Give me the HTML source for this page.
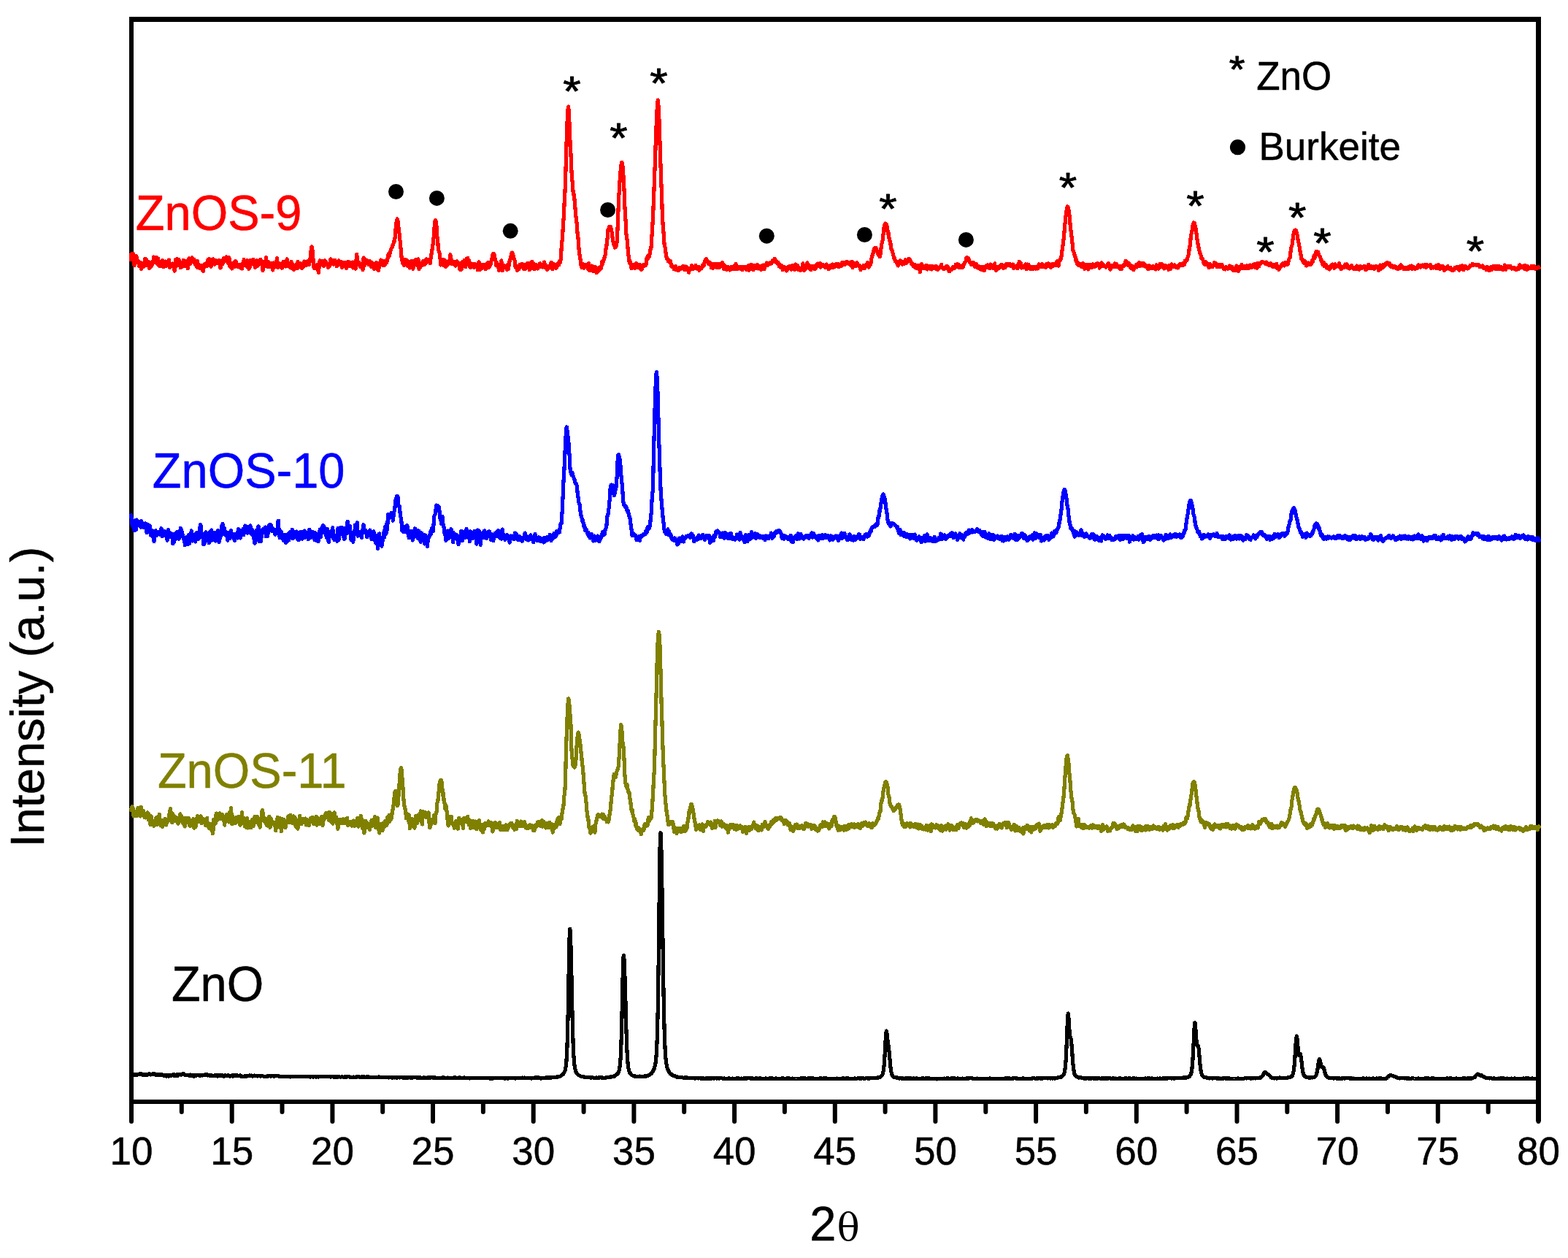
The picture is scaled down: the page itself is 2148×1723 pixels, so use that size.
<!DOCTYPE html>
<html lang="en"><head><meta charset="utf-8"><title>XRD patterns of ZnO, ZnOS-9, ZnOS-10 and ZnOS-11</title>
<style>html,body{margin:0;padding:0;background:#fff;overflow:hidden}svg{display:block}text{font-family:"Liberation Sans",Arial,Helvetica,sans-serif;stroke-width:0.5;stroke-linejoin:round}.c{fill:none;stroke-width:5.20;stroke-linejoin:round;stroke-linecap:butt;shape-rendering:crispEdges}.tk{stroke:#000;stroke-width:6;stroke-linecap:round}.st{stroke:#000;stroke-width:1.0;stroke-linejoin:round}</style></head><body>
<svg width="2148" height="1723" viewBox="0 0 2148 1723" role="img" aria-label="XRD patterns">
<rect width="2148" height="1723" fill="#fff"/>
<rect x="177" y="23" width="1934" height="7" fill="#000"/>
<rect x="177" y="1506" width="1934" height="6" fill="#000"/>
<rect x="177" y="23" width="6" height="1513" fill="#000"/>
<rect x="2104" y="23" width="7" height="1513" fill="#000"/>
<path class="c" stroke="#000" d="M179.1,1472.1 L179.7,1472.8 L180.2,1472.7 L180.8,1471.8 L181.3,1471.6 L181.9,1471.6 L182.4,1472.1 L183.0,1472.0 L183.5,1472.0 L184.1,1471.2 L184.6,1472.4 L185.2,1472.0 L185.7,1472.1 L186.3,1471.7 L186.8,1471.5 L187.4,1471.9 L187.9,1472.1 L188.5,1471.6 L189.0,1471.6 L189.6,1471.8 L190.1,1471.1 L190.7,1470.9 L191.2,1471.7 L191.8,1471.2 L192.3,1470.6 L192.9,1471.1 L193.4,1471.4 L194.0,1471.0 L194.5,1471.0 L195.1,1471.8 L195.6,1472.3 L196.2,1471.8 L196.7,1471.5 L197.3,1472.1 L197.8,1472.2 L198.4,1471.9 L198.9,1472.2 L199.5,1472.5 L200.0,1471.8 L200.6,1471.5 L201.1,1472.0 L201.7,1472.1 L202.2,1472.2 L202.8,1471.2 L203.3,1471.1 L203.9,1470.9 L204.4,1470.6 L205.0,1471.4 L205.5,1471.6 L206.1,1471.2 L206.6,1472.0 L207.2,1471.9 L207.7,1471.7 L208.3,1471.6 L208.8,1471.5 L209.4,1470.7 L209.9,1471.5 L210.5,1471.5 L211.0,1470.6 L211.6,1471.4 L212.1,1471.7 L212.7,1472.1 L213.2,1471.8 L213.8,1472.0 L214.3,1472.1 L214.9,1471.8 L215.4,1472.3 L216.0,1472.2 L216.5,1472.2 L217.1,1471.9 L217.6,1472.4 L218.2,1472.2 L218.7,1471.9 L219.3,1472.2 L219.8,1472.7 L220.4,1472.7 L220.9,1471.5 L221.5,1472.4 L222.0,1472.5 L222.6,1472.2 L223.1,1472.1 L223.7,1472.9 L224.2,1472.3 L224.8,1473.1 L225.3,1473.4 L225.9,1472.3 L226.4,1472.5 L227.0,1472.4 L227.5,1473.2 L228.1,1474.1 L228.6,1474.1 L229.2,1472.5 L229.7,1472.7 L230.3,1473.6 L230.8,1474.1 L231.4,1473.4 L231.9,1472.8 L232.5,1473.1 L233.0,1473.1 L233.6,1472.8 L234.1,1472.6 L234.7,1473.0 L235.2,1473.0 L235.8,1472.7 L236.3,1472.4 L236.9,1471.9 L237.4,1472.3 L238.0,1473.1 L238.5,1472.4 L239.1,1471.9 L239.6,1473.0 L240.2,1473.1 L240.7,1473.6 L241.3,1472.7 L241.8,1472.0 L242.4,1471.8 L242.9,1473.1 L243.5,1473.6 L244.0,1472.0 L244.6,1471.8 L245.1,1472.2 L245.7,1471.6 L246.2,1471.6 L246.8,1471.6 L247.3,1471.9 L247.9,1472.2 L248.4,1471.9 L249.0,1472.0 L249.5,1471.5 L250.1,1471.4 L250.6,1470.4 L251.2,1470.7 L251.7,1471.8 L252.3,1471.6 L252.8,1472.0 L253.4,1472.3 L253.9,1472.7 L254.5,1472.7 L255.0,1472.8 L255.6,1472.3 L256.1,1472.1 L256.7,1472.1 L257.2,1472.3 L257.8,1472.2 L258.3,1472.6 L258.9,1472.9 L259.4,1473.1 L260.0,1472.7 L260.5,1472.1 L261.1,1472.8 L261.6,1473.3 L262.2,1473.6 L262.7,1473.3 L263.3,1472.7 L263.8,1472.8 L264.4,1474.0 L264.9,1473.8 L265.5,1474.2 L266.0,1474.1 L266.6,1472.8 L267.1,1473.1 L267.7,1473.2 L268.2,1473.3 L268.8,1473.3 L269.3,1473.1 L269.9,1472.9 L270.4,1472.2 L271.0,1472.6 L271.5,1472.6 L272.1,1472.8 L272.6,1472.8 L273.2,1473.2 L273.7,1473.4 L274.3,1473.2 L274.8,1473.1 L275.4,1473.0 L275.9,1472.7 L276.5,1472.7 L277.0,1472.7 L277.6,1473.0 L278.1,1472.9 L278.7,1472.8 L279.2,1472.2 L279.8,1472.7 L280.3,1472.1 L280.9,1471.9 L281.4,1472.1 L282.0,1472.0 L282.5,1472.3 L283.1,1471.9 L283.6,1471.7 L284.2,1472.0 L284.7,1473.0 L285.3,1472.6 L285.8,1472.2 L286.4,1472.5 L286.9,1472.4 L287.5,1473.5 L288.0,1472.7 L288.6,1473.3 L289.1,1473.3 L289.7,1472.6 L290.2,1473.3 L290.8,1473.7 L291.3,1473.4 L291.9,1473.3 L292.4,1473.5 L293.0,1473.1 L293.5,1473.0 L294.1,1472.9 L294.6,1473.0 L295.2,1472.5 L295.7,1473.0 L296.3,1472.6 L296.8,1472.4 L297.4,1473.2 L297.9,1474.0 L298.5,1473.7 L299.0,1473.1 L299.6,1473.5 L300.1,1473.2 L300.7,1473.3 L301.2,1473.2 L301.8,1472.5 L302.3,1473.2 L302.9,1473.0 L303.4,1472.9 L304.0,1472.6 L304.5,1472.5 L305.1,1473.0 L305.6,1473.9 L306.2,1474.3 L306.7,1473.7 L307.3,1473.9 L307.8,1473.3 L308.4,1472.6 L308.9,1473.4 L309.5,1473.7 L310.0,1473.4 L310.6,1473.7 L311.1,1473.8 L311.7,1473.1 L312.2,1472.7 L312.8,1473.2 L313.3,1473.3 L313.9,1473.3 L314.4,1473.9 L315.0,1474.1 L315.5,1473.2 L316.1,1473.4 L316.6,1473.6 L317.2,1473.5 L317.7,1473.5 L318.3,1473.0 L318.8,1473.4 L319.4,1474.0 L319.9,1473.5 L320.5,1472.8 L321.0,1473.3 L321.6,1473.7 L322.1,1473.3 L322.7,1473.1 L323.2,1473.6 L323.8,1472.9 L324.3,1473.3 L324.9,1473.2 L325.4,1473.0 L326.0,1473.9 L326.5,1473.7 L327.1,1473.2 L327.6,1473.8 L328.2,1473.4 L328.7,1472.9 L329.3,1473.4 L329.8,1474.1 L330.4,1474.3 L330.9,1474.2 L331.5,1474.1 L332.0,1474.3 L332.6,1474.2 L333.1,1474.6 L333.7,1474.3 L334.2,1474.3 L334.8,1474.3 L335.3,1473.7 L335.9,1473.9 L336.4,1474.6 L337.0,1474.2 L337.5,1473.9 L338.1,1474.0 L338.6,1473.7 L339.2,1473.8 L339.7,1473.5 L340.3,1473.5 L340.8,1473.2 L341.4,1473.6 L341.9,1473.2 L342.5,1472.9 L343.0,1473.1 L343.6,1473.2 L344.1,1473.2 L344.7,1473.1 L345.2,1473.5 L345.8,1474.0 L346.3,1473.3 L346.9,1473.4 L347.4,1473.4 L348.0,1473.4 L348.5,1473.1 L349.1,1473.2 L349.6,1473.5 L350.2,1473.6 L350.7,1473.7 L351.3,1473.4 L351.8,1473.6 L352.4,1474.0 L352.9,1473.4 L353.5,1473.2 L354.0,1473.4 L354.6,1473.5 L355.1,1473.6 L355.7,1473.5 L356.2,1473.4 L356.8,1473.7 L357.3,1474.1 L357.9,1473.9 L358.4,1473.2 L359.0,1473.6 L359.5,1473.7 L360.1,1473.9 L360.6,1474.0 L361.2,1474.3 L361.7,1474.3 L362.3,1474.2 L362.8,1474.1 L363.4,1474.1 L363.9,1474.2 L364.5,1474.3 L365.0,1474.2 L365.6,1474.1 L366.1,1474.3 L366.7,1474.1 L367.2,1474.0 L367.8,1473.8 L368.3,1473.8 L368.9,1473.7 L369.4,1473.4 L370.0,1474.0 L370.5,1474.0 L371.1,1473.9 L371.6,1474.0 L372.2,1473.9 L372.7,1473.7 L373.3,1473.3 L373.8,1473.6 L374.4,1473.9 L374.9,1474.2 L375.5,1474.2 L376.0,1474.0 L376.6,1473.5 L377.1,1473.3 L377.7,1473.7 L378.2,1473.8 L378.8,1473.9 L379.3,1473.8 L379.9,1473.8 L380.4,1473.6 L381.0,1473.9 L381.5,1473.9 L382.1,1474.0 L382.6,1474.1 L383.2,1474.1 L383.7,1474.1 L384.3,1474.2 L384.8,1474.3 L385.4,1474.3 L385.9,1474.1 L386.5,1474.2 L387.0,1474.5 L387.6,1474.4 L388.1,1474.5 L388.7,1474.4 L389.2,1474.2 L389.8,1474.2 L390.3,1474.4 L390.9,1474.5 L391.4,1474.6 L392.0,1474.3 L392.5,1474.4 L393.1,1474.6 L393.6,1474.8 L394.2,1474.2 L394.7,1474.5 L395.3,1474.5 L395.8,1474.6 L396.4,1474.6 L396.9,1474.7 L397.5,1475.0 L398.0,1474.8 L398.6,1474.8 L399.1,1474.7 L399.7,1474.6 L400.2,1474.7 L400.8,1474.6 L401.3,1474.4 L401.9,1474.5 L402.4,1474.5 L403.0,1474.6 L403.5,1474.4 L404.1,1474.4 L404.6,1474.7 L405.2,1474.7 L405.7,1474.7 L406.3,1474.5 L406.8,1474.4 L407.4,1474.3 L407.9,1474.4 L408.5,1474.7 L409.0,1474.5 L409.6,1474.3 L410.1,1474.4 L410.7,1474.4 L411.2,1474.5 L411.8,1474.4 L412.3,1474.4 L412.9,1474.6 L413.4,1474.5 L414.0,1474.3 L414.5,1474.7 L415.1,1474.9 L415.6,1474.4 L416.2,1474.7 L416.7,1474.4 L417.3,1474.3 L417.8,1474.3 L418.4,1474.3 L418.9,1474.7 L419.5,1474.6 L420.0,1474.4 L420.6,1474.4 L421.1,1474.3 L421.7,1474.5 L422.2,1474.7 L422.8,1474.4 L423.3,1474.5 L423.9,1474.7 L424.4,1475.0 L425.0,1475.0 L425.5,1474.7 L426.1,1474.6 L426.6,1474.8 L427.2,1474.7 L427.7,1474.7 L428.3,1475.0 L428.8,1475.1 L429.4,1474.9 L429.9,1474.8 L430.5,1474.8 L431.0,1474.5 L431.6,1474.6 L432.1,1474.7 L432.7,1475.2 L433.2,1475.0 L433.8,1474.8 L434.3,1474.6 L434.9,1474.3 L435.4,1474.8 L436.0,1475.0 L436.5,1474.6 L437.1,1474.7 L437.6,1474.7 L438.2,1474.4 L438.7,1474.8 L439.3,1474.9 L439.8,1474.7 L440.4,1474.7 L440.9,1474.8 L441.5,1474.5 L442.0,1474.7 L442.6,1474.9 L443.1,1474.7 L443.7,1474.9 L444.2,1474.7 L444.8,1474.4 L445.3,1474.6 L445.9,1474.6 L446.4,1474.7 L447.0,1474.6 L447.5,1474.8 L448.1,1474.6 L448.6,1474.7 L449.2,1474.6 L449.7,1474.7 L450.3,1474.9 L450.8,1474.8 L451.4,1474.6 L451.9,1474.5 L452.5,1475.0 L453.0,1475.0 L453.6,1474.8 L454.1,1474.8 L454.7,1474.6 L455.2,1474.5 L455.8,1474.6 L456.3,1474.9 L456.9,1474.9 L457.4,1474.8 L458.0,1475.0 L458.5,1475.1 L459.1,1475.0 L459.6,1475.1 L460.2,1474.9 L460.7,1474.9 L461.3,1475.0 L461.8,1475.0 L462.4,1475.1 L462.9,1474.8 L463.5,1475.1 L464.0,1474.9 L464.6,1474.8 L465.1,1474.7 L465.7,1475.1 L466.2,1475.3 L466.8,1475.3 L467.3,1475.1 L467.9,1474.7 L468.4,1474.8 L469.0,1474.9 L469.5,1474.9 L470.1,1475.2 L470.6,1475.1 L471.2,1475.1 L471.7,1475.1 L472.3,1474.8 L472.8,1474.7 L473.4,1474.8 L473.9,1475.0 L474.5,1475.0 L475.0,1475.0 L475.6,1475.0 L476.1,1474.6 L476.7,1474.7 L477.2,1474.8 L477.8,1474.6 L478.3,1474.8 L478.9,1475.1 L479.4,1475.2 L480.0,1475.2 L480.5,1475.1 L481.1,1475.1 L481.6,1475.3 L482.2,1475.1 L482.7,1475.2 L483.3,1475.4 L483.8,1475.1 L484.4,1475.0 L484.9,1475.1 L485.5,1475.3 L486.0,1475.3 L486.6,1475.2 L487.1,1475.2 L487.7,1474.9 L488.2,1474.9 L488.8,1475.1 L489.3,1474.9 L489.9,1474.8 L490.4,1474.8 L491.0,1474.9 L491.5,1475.0 L492.1,1474.9 L492.6,1475.2 L493.2,1475.4 L493.7,1475.2 L494.3,1475.4 L494.8,1475.2 L495.4,1474.9 L495.9,1475.0 L496.5,1475.0 L497.0,1475.2 L497.6,1475.0 L498.1,1475.4 L498.7,1475.2 L499.2,1474.8 L499.8,1475.3 L500.3,1475.4 L500.9,1475.1 L501.4,1475.2 L502.0,1474.9 L502.5,1475.1 L503.1,1475.0 L503.6,1475.2 L504.2,1474.9 L504.7,1474.8 L505.3,1475.5 L505.8,1475.9 L506.4,1475.5 L506.9,1475.6 L507.5,1475.6 L508.0,1475.5 L508.6,1475.7 L509.1,1475.8 L509.7,1475.3 L510.2,1475.5 L510.8,1475.4 L511.3,1475.2 L511.9,1475.7 L512.4,1475.7 L513.0,1475.3 L513.5,1475.6 L514.1,1475.4 L514.6,1475.4 L515.2,1475.6 L515.7,1475.4 L516.3,1475.4 L516.8,1475.7 L517.4,1475.6 L517.9,1475.5 L518.5,1475.0 L519.0,1475.0 L519.6,1475.4 L520.1,1475.3 L520.7,1475.4 L521.2,1475.3 L521.8,1475.4 L522.3,1475.4 L522.9,1475.8 L523.4,1475.6 L524.0,1475.6 L524.5,1475.8 L525.1,1475.9 L525.6,1475.6 L526.2,1475.7 L526.7,1475.7 L527.3,1475.8 L527.8,1475.8 L528.4,1475.6 L528.9,1475.6 L529.5,1475.5 L530.0,1475.6 L530.6,1475.5 L531.1,1475.4 L531.7,1475.5 L532.2,1475.7 L532.8,1476.0 L533.3,1475.7 L533.9,1475.8 L534.4,1475.9 L535.0,1475.3 L535.5,1475.3 L536.1,1475.5 L536.6,1475.9 L537.2,1476.3 L537.7,1476.1 L538.3,1476.1 L538.8,1475.8 L539.4,1475.3 L539.9,1475.4 L540.5,1475.9 L541.0,1475.9 L541.6,1475.7 L542.1,1475.9 L542.7,1475.7 L543.2,1476.1 L543.8,1476.1 L544.3,1475.7 L544.9,1475.7 L545.4,1475.9 L546.0,1475.7 L546.5,1475.9 L547.1,1475.7 L547.6,1476.0 L548.2,1475.9 L548.7,1475.8 L549.3,1475.8 L549.8,1475.9 L550.4,1475.6 L550.9,1475.8 L551.5,1476.0 L552.0,1476.1 L552.6,1475.9 L553.1,1476.3 L553.7,1476.0 L554.2,1475.9 L554.8,1476.3 L555.3,1476.4 L555.9,1476.0 L556.4,1475.8 L557.0,1475.9 L557.5,1475.8 L558.1,1475.9 L558.6,1476.2 L559.2,1476.0 L559.7,1475.9 L560.3,1475.8 L560.8,1475.8 L561.4,1475.9 L561.9,1475.9 L562.5,1475.7 L563.0,1475.8 L563.6,1476.2 L564.1,1475.9 L564.7,1475.8 L565.2,1476.1 L565.8,1475.8 L566.3,1475.6 L566.9,1475.8 L567.4,1475.6 L568.0,1475.7 L568.5,1475.9 L569.1,1475.8 L569.6,1475.7 L570.2,1475.7 L570.7,1475.8 L571.3,1476.1 L571.8,1475.8 L572.4,1475.9 L572.9,1476.2 L573.5,1476.0 L574.0,1476.2 L574.6,1476.3 L575.1,1475.9 L575.7,1475.7 L576.2,1476.1 L576.8,1476.2 L577.3,1476.3 L577.9,1476.2 L578.4,1476.4 L579.0,1476.3 L579.5,1476.0 L580.1,1476.3 L580.6,1476.2 L581.2,1476.0 L581.7,1476.1 L582.3,1476.6 L582.8,1476.4 L583.4,1476.0 L583.9,1476.2 L584.5,1476.3 L585.0,1476.2 L585.6,1476.1 L586.1,1476.0 L586.7,1476.3 L587.2,1476.0 L587.8,1476.0 L588.3,1475.9 L588.9,1475.9 L589.4,1476.1 L590.0,1476.0 L590.5,1475.8 L591.1,1475.7 L591.6,1475.8 L592.2,1476.0 L592.7,1476.0 L593.3,1475.9 L593.8,1475.9 L594.4,1475.9 L594.9,1475.9 L595.5,1475.8 L596.0,1476.2 L596.6,1476.0 L597.1,1476.1 L597.7,1476.5 L598.2,1476.4 L598.8,1476.3 L599.3,1476.2 L599.9,1476.1 L600.4,1476.5 L601.0,1476.7 L601.5,1476.5 L602.1,1476.7 L602.6,1476.3 L603.2,1476.3 L603.7,1476.5 L604.3,1476.5 L604.8,1476.5 L605.4,1476.2 L605.9,1476.1 L606.5,1475.9 L607.0,1476.0 L607.6,1476.0 L608.1,1476.0 L608.7,1476.3 L609.2,1476.2 L609.8,1476.1 L610.3,1476.7 L610.9,1476.3 L611.4,1476.2 L612.0,1476.7 L612.5,1476.7 L613.1,1476.2 L613.6,1476.1 L614.2,1476.2 L614.7,1476.5 L615.3,1476.3 L615.8,1476.2 L616.4,1476.3 L616.9,1476.5 L617.5,1476.1 L618.0,1476.1 L618.6,1476.1 L619.1,1476.6 L619.7,1476.7 L620.2,1476.4 L620.8,1476.2 L621.3,1476.2 L621.9,1475.8 L622.4,1476.1 L623.0,1475.9 L623.5,1475.9 L624.1,1476.1 L624.6,1476.2 L625.2,1476.4 L625.7,1476.5 L626.3,1476.4 L626.8,1476.2 L627.4,1476.5 L627.9,1476.4 L628.5,1476.5 L629.0,1476.1 L629.6,1475.8 L630.1,1476.2 L630.7,1476.7 L631.2,1476.5 L631.8,1476.3 L632.3,1476.5 L632.9,1476.4 L633.4,1476.3 L634.0,1476.2 L634.5,1476.2 L635.1,1476.2 L635.6,1476.0 L636.2,1475.9 L636.7,1476.2 L637.3,1476.4 L637.8,1476.3 L638.4,1476.3 L638.9,1476.4 L639.5,1476.7 L640.0,1476.5 L640.6,1476.6 L641.1,1476.8 L641.7,1476.5 L642.2,1476.6 L642.8,1476.8 L643.3,1477.0 L643.9,1476.8 L644.4,1476.8 L645.0,1476.7 L645.5,1476.6 L646.1,1476.9 L646.6,1476.7 L647.2,1476.4 L647.7,1476.6 L648.3,1476.3 L648.8,1476.4 L649.4,1476.6 L649.9,1476.5 L650.5,1476.7 L651.0,1476.3 L651.6,1476.5 L652.1,1476.7 L652.7,1476.8 L653.2,1476.7 L653.8,1476.6 L654.3,1476.5 L654.9,1476.5 L655.4,1476.6 L656.0,1476.4 L656.5,1476.5 L657.1,1476.4 L657.6,1476.4 L658.2,1476.4 L658.7,1476.7 L659.3,1476.3 L659.8,1476.4 L660.4,1476.4 L660.9,1476.5 L661.5,1476.5 L662.0,1476.5 L662.6,1476.5 L663.1,1476.2 L663.7,1476.3 L664.2,1476.2 L664.8,1476.4 L665.3,1476.2 L665.9,1476.2 L666.4,1476.5 L667.0,1476.8 L667.5,1476.7 L668.1,1476.7 L668.6,1476.9 L669.2,1476.5 L669.7,1476.3 L670.3,1476.6 L670.8,1476.8 L671.4,1477.1 L671.9,1477.2 L672.5,1476.8 L673.0,1477.3 L673.6,1477.2 L674.1,1477.0 L674.7,1476.9 L675.2,1477.1 L675.8,1476.7 L676.3,1476.4 L676.9,1476.4 L677.4,1476.2 L678.0,1476.4 L678.5,1476.3 L679.1,1476.4 L679.6,1476.3 L680.2,1476.2 L680.7,1476.5 L681.3,1476.3 L681.8,1476.4 L682.4,1476.2 L682.9,1476.4 L683.5,1476.4 L684.0,1476.5 L684.6,1476.3 L685.1,1476.1 L685.7,1476.3 L686.2,1476.7 L686.8,1476.7 L687.3,1476.4 L687.9,1476.3 L688.4,1476.5 L689.0,1476.7 L689.5,1476.7 L690.1,1476.8 L690.6,1477.1 L691.2,1477.2 L691.7,1477.1 L692.3,1476.9 L692.8,1476.9 L693.4,1476.9 L693.9,1476.7 L694.5,1477.0 L695.0,1476.9 L695.6,1476.7 L696.1,1477.0 L696.7,1476.9 L697.2,1476.8 L697.8,1476.8 L698.3,1476.6 L698.9,1476.2 L699.4,1476.3 L700.0,1476.5 L700.5,1476.3 L701.1,1476.4 L701.6,1476.6 L702.2,1476.8 L702.7,1476.9 L703.3,1476.8 L703.8,1476.6 L704.4,1476.8 L704.9,1476.8 L705.5,1476.7 L706.0,1477.0 L706.6,1476.8 L707.1,1476.6 L707.7,1476.9 L708.2,1476.7 L708.8,1476.6 L709.3,1476.3 L709.9,1476.4 L710.4,1476.2 L711.0,1476.1 L711.5,1476.1 L712.1,1476.6 L712.6,1476.4 L713.2,1476.4 L713.7,1476.5 L714.3,1476.4 L714.8,1476.4 L715.4,1476.1 L715.9,1476.3 L716.5,1476.4 L717.0,1476.5 L717.6,1476.5 L718.1,1476.2 L718.7,1476.1 L719.2,1476.3 L719.8,1476.7 L720.3,1476.8 L720.9,1476.7 L721.4,1476.2 L722.0,1476.1 L722.5,1476.5 L723.1,1476.6 L723.6,1476.7 L724.2,1476.8 L724.7,1476.7 L725.3,1476.5 L725.8,1476.5 L726.4,1476.7 L726.9,1476.7 L727.5,1476.7 L728.0,1477.0 L728.6,1476.6 L729.1,1476.5 L729.7,1476.2 L730.2,1476.3 L730.8,1476.5 L731.3,1476.4 L731.9,1476.3 L732.4,1476.4 L733.0,1476.2 L733.5,1475.8 L734.1,1475.7 L734.6,1476.7 L735.2,1476.6 L735.7,1476.3 L736.3,1476.0 L736.8,1476.2 L737.4,1476.5 L737.9,1476.0 L738.5,1476.3 L739.0,1476.7 L739.6,1476.6 L740.1,1476.7 L740.7,1476.7 L741.2,1477.0 L741.8,1476.5 L742.3,1476.4 L742.9,1476.7 L743.4,1476.9 L744.0,1476.7 L744.5,1476.7 L745.1,1476.4 L745.6,1476.3 L746.2,1476.7 L746.7,1476.8 L747.3,1476.6 L747.8,1476.2 L748.4,1475.9 L748.9,1475.9 L749.5,1476.1 L750.0,1476.3 L750.6,1476.2 L751.1,1475.9 L751.7,1476.1 L752.2,1476.1 L752.8,1476.1 L753.3,1476.0 L753.9,1476.0 L754.4,1476.1 L755.0,1476.0 L755.5,1475.9 L756.1,1475.8 L756.6,1475.9 L757.2,1475.7 L757.7,1475.4 L758.3,1475.7 L758.8,1475.7 L759.4,1475.8 L759.9,1475.6 L760.5,1475.5 L761.0,1475.5 L761.6,1475.4 L762.1,1475.1 L762.7,1474.9 L763.2,1475.3 L763.8,1474.8 L764.3,1474.7 L764.9,1474.8 L765.4,1474.7 L766.0,1474.5 L766.5,1474.4 L767.1,1474.2 L767.6,1473.9 L768.2,1473.9 L768.7,1473.1 L769.3,1472.8 L769.8,1472.3 L770.4,1471.9 L770.9,1471.6 L771.5,1471.1 L772.0,1470.1 L772.6,1469.2 L773.1,1468.4 L773.7,1467.2 L774.2,1465.7 L774.8,1463.1 L775.3,1459.3 L775.9,1453.7 L776.4,1445.4 L777.0,1432.8 L777.5,1414.8 L778.1,1391.1 L778.6,1361.6 L779.2,1329.0 L779.7,1298.5 L780.3,1277.9 L780.8,1272.2 L781.4,1279.5 L781.9,1294.6 L782.5,1315.4 L783.0,1340.9 L783.6,1368.3 L784.1,1393.7 L784.7,1415.2 L785.2,1432.0 L785.8,1444.0 L786.3,1452.3 L786.9,1458.1 L787.4,1462.0 L788.0,1464.7 L788.5,1466.4 L789.1,1468.0 L789.6,1469.2 L790.2,1470.0 L790.7,1470.5 L791.3,1471.2 L791.8,1471.8 L792.4,1472.4 L792.9,1472.8 L793.5,1472.9 L794.0,1473.1 L794.6,1473.7 L795.1,1473.9 L795.7,1474.0 L796.2,1474.1 L796.8,1474.1 L797.3,1474.3 L797.9,1474.6 L798.4,1474.8 L799.0,1474.7 L799.5,1474.3 L800.1,1474.8 L800.6,1475.2 L801.2,1475.4 L801.7,1475.5 L802.3,1475.9 L802.8,1475.8 L803.4,1475.8 L803.9,1475.7 L804.5,1475.4 L805.0,1475.8 L805.6,1475.8 L806.1,1475.7 L806.7,1475.9 L807.2,1475.9 L807.8,1475.8 L808.3,1475.9 L808.9,1475.9 L809.4,1476.0 L810.0,1476.0 L810.5,1476.1 L811.1,1475.8 L811.6,1475.9 L812.2,1475.8 L812.7,1476.0 L813.3,1476.2 L813.8,1476.2 L814.4,1476.2 L814.9,1476.3 L815.5,1476.4 L816.0,1476.1 L816.6,1476.3 L817.1,1476.0 L817.7,1476.1 L818.2,1476.2 L818.8,1476.1 L819.3,1476.2 L819.9,1476.2 L820.4,1475.9 L821.0,1476.0 L821.5,1475.9 L822.1,1475.6 L822.6,1475.8 L823.2,1475.8 L823.7,1476.1 L824.3,1475.9 L824.8,1476.1 L825.4,1476.0 L825.9,1476.3 L826.5,1476.1 L827.0,1476.1 L827.6,1476.2 L828.1,1476.2 L828.7,1476.3 L829.2,1476.3 L829.8,1475.9 L830.3,1475.5 L830.9,1475.3 L831.4,1475.7 L832.0,1475.9 L832.5,1475.8 L833.1,1475.7 L833.6,1475.5 L834.2,1475.4 L834.7,1475.4 L835.3,1475.4 L835.8,1475.0 L836.4,1475.2 L836.9,1474.8 L837.5,1474.8 L838.0,1474.7 L838.6,1474.6 L839.1,1474.3 L839.7,1474.2 L840.2,1474.1 L840.8,1474.0 L841.3,1474.3 L841.9,1473.7 L842.4,1473.3 L843.0,1473.0 L843.5,1472.5 L844.1,1472.0 L844.6,1472.0 L845.2,1471.6 L845.7,1470.7 L846.3,1470.2 L846.8,1469.2 L847.4,1468.2 L847.9,1466.8 L848.5,1464.7 L849.0,1461.4 L849.6,1456.3 L850.1,1448.9 L850.7,1437.5 L851.2,1421.8 L851.8,1401.0 L852.3,1375.8 L852.9,1348.8 L853.4,1324.9 L854.0,1310.4 L854.5,1308.3 L855.1,1315.8 L855.6,1328.4 L856.2,1344.3 L856.7,1363.5 L857.3,1385.3 L857.8,1406.3 L858.4,1423.9 L858.9,1437.6 L859.5,1448.1 L860.0,1455.6 L860.6,1460.8 L861.1,1464.0 L861.7,1466.2 L862.2,1468.1 L862.8,1469.3 L863.3,1469.9 L863.9,1470.7 L864.4,1471.5 L865.0,1472.0 L865.5,1472.5 L866.1,1472.9 L866.6,1473.1 L867.2,1473.1 L867.7,1473.1 L868.3,1473.7 L868.8,1474.1 L869.4,1474.3 L869.9,1474.0 L870.5,1474.1 L871.0,1474.5 L871.6,1474.6 L872.1,1474.5 L872.7,1474.5 L873.2,1474.3 L873.8,1474.5 L874.3,1474.4 L874.9,1474.5 L875.4,1474.5 L876.0,1474.4 L876.5,1474.1 L877.1,1474.3 L877.6,1474.6 L878.2,1474.6 L878.7,1474.5 L879.3,1474.7 L879.8,1474.8 L880.4,1474.7 L880.9,1474.4 L881.5,1474.4 L882.0,1474.3 L882.6,1474.1 L883.1,1473.9 L883.7,1474.0 L884.2,1474.0 L884.8,1474.2 L885.3,1473.8 L885.9,1473.5 L886.4,1473.4 L887.0,1473.5 L887.5,1472.9 L888.1,1472.7 L888.6,1472.4 L889.2,1472.3 L889.7,1472.1 L890.3,1471.9 L890.8,1471.2 L891.4,1471.0 L891.9,1470.9 L892.5,1470.0 L893.0,1469.4 L893.6,1468.5 L894.1,1467.4 L894.7,1467.0 L895.2,1466.2 L895.8,1464.6 L896.3,1462.8 L896.9,1461.3 L897.4,1459.1 L898.0,1456.2 L898.5,1452.0 L899.1,1445.7 L899.6,1436.9 L900.2,1423.6 L900.7,1405.1 L901.3,1378.9 L901.8,1344.5 L902.4,1302.0 L902.9,1253.6 L903.5,1204.9 L904.0,1164.7 L904.6,1142.2 L905.1,1140.7 L905.7,1154.8 L906.2,1177.9 L906.8,1207.8 L907.3,1243.7 L907.9,1283.5 L908.4,1322.7 L909.0,1357.6 L909.5,1386.9 L910.1,1409.6 L910.6,1426.2 L911.2,1438.2 L911.7,1446.7 L912.3,1452.7 L912.8,1456.7 L913.4,1459.5 L913.9,1462.1 L914.5,1463.7 L915.0,1465.2 L915.6,1466.5 L916.1,1467.5 L916.7,1468.2 L917.2,1469.4 L917.8,1470.1 L918.3,1470.7 L918.9,1471.2 L919.4,1471.2 L920.0,1471.2 L920.5,1472.1 L921.1,1472.8 L921.6,1473.0 L922.2,1473.0 L922.7,1473.2 L923.3,1473.4 L923.8,1473.3 L924.4,1473.7 L924.9,1474.0 L925.5,1474.5 L926.0,1474.5 L926.6,1474.9 L927.1,1474.7 L927.7,1474.7 L928.2,1475.3 L928.8,1475.1 L929.3,1475.4 L929.9,1475.6 L930.4,1475.3 L931.0,1475.2 L931.5,1475.6 L932.1,1475.5 L932.6,1475.3 L933.2,1475.3 L933.7,1475.5 L934.3,1475.8 L934.8,1475.7 L935.4,1475.9 L935.9,1476.2 L936.5,1476.2 L937.0,1476.2 L937.6,1476.1 L938.1,1475.8 L938.7,1476.2 L939.2,1476.2 L939.8,1476.1 L940.3,1475.9 L940.9,1475.8 L941.4,1476.0 L942.0,1476.2 L942.5,1476.1 L943.1,1476.1 L943.6,1476.2 L944.2,1476.4 L944.7,1476.4 L945.3,1476.4 L945.8,1476.7 L946.4,1476.5 L946.9,1476.6 L947.5,1476.4 L948.0,1476.6 L948.6,1476.7 L949.1,1476.7 L949.7,1476.6 L950.2,1476.6 L950.8,1476.7 L951.3,1476.7 L951.9,1477.0 L952.4,1477.0 L953.0,1476.6 L953.5,1476.8 L954.1,1476.8 L954.6,1476.9 L955.2,1476.7 L955.7,1476.6 L956.3,1477.0 L956.8,1477.0 L957.4,1476.6 L957.9,1476.5 L958.5,1476.6 L959.0,1476.6 L959.6,1476.8 L960.1,1477.0 L960.7,1477.1 L961.2,1476.8 L961.8,1477.0 L962.3,1477.0 L962.9,1476.6 L963.4,1476.5 L964.0,1476.9 L964.5,1477.1 L965.1,1477.4 L965.6,1477.3 L966.2,1477.2 L966.7,1477.2 L967.3,1476.8 L967.8,1476.9 L968.4,1477.0 L968.9,1477.3 L969.5,1477.0 L970.0,1476.5 L970.6,1477.0 L971.1,1476.9 L971.7,1477.0 L972.2,1476.9 L972.8,1476.9 L973.3,1477.0 L973.9,1476.8 L974.4,1476.7 L975.0,1477.0 L975.5,1476.9 L976.1,1476.8 L976.6,1476.8 L977.2,1476.7 L977.7,1477.1 L978.3,1476.9 L978.8,1476.9 L979.4,1476.8 L979.9,1476.6 L980.5,1476.6 L981.0,1476.8 L981.6,1477.0 L982.1,1477.1 L982.7,1476.9 L983.2,1476.6 L983.8,1476.8 L984.3,1477.0 L984.9,1477.0 L985.4,1476.8 L986.0,1476.5 L986.5,1476.8 L987.1,1476.6 L987.6,1476.7 L988.2,1476.5 L988.7,1476.9 L989.3,1476.8 L989.8,1477.2 L990.4,1477.5 L990.9,1477.4 L991.5,1477.0 L992.0,1477.0 L992.6,1477.1 L993.1,1477.4 L993.7,1477.5 L994.2,1477.4 L994.8,1477.5 L995.3,1477.5 L995.9,1477.6 L996.4,1477.7 L997.0,1477.4 L997.5,1477.3 L998.1,1476.9 L998.6,1476.9 L999.2,1477.0 L999.7,1477.0 L1000.3,1477.3 L1000.8,1477.4 L1001.4,1477.2 L1001.9,1477.1 L1002.5,1477.1 L1003.0,1477.2 L1003.6,1477.1 L1004.1,1477.2 L1004.7,1477.2 L1005.2,1477.2 L1005.8,1477.2 L1006.3,1477.1 L1006.9,1477.1 L1007.4,1477.3 L1008.0,1477.1 L1008.5,1477.1 L1009.1,1477.0 L1009.6,1476.9 L1010.2,1476.9 L1010.7,1476.9 L1011.3,1477.0 L1011.8,1477.0 L1012.4,1477.1 L1012.9,1477.3 L1013.5,1477.2 L1014.0,1477.3 L1014.6,1477.3 L1015.1,1477.2 L1015.7,1477.0 L1016.2,1477.1 L1016.8,1477.5 L1017.3,1477.3 L1017.9,1477.2 L1018.4,1477.0 L1019.0,1477.0 L1019.5,1476.7 L1020.1,1476.7 L1020.6,1477.0 L1021.2,1477.1 L1021.7,1477.0 L1022.3,1477.0 L1022.8,1477.0 L1023.4,1477.0 L1023.9,1476.8 L1024.5,1476.7 L1025.0,1476.9 L1025.6,1476.7 L1026.1,1476.8 L1026.7,1476.9 L1027.2,1476.9 L1027.8,1477.1 L1028.3,1477.0 L1028.9,1477.0 L1029.4,1476.9 L1030.0,1477.0 L1030.5,1477.2 L1031.1,1477.2 L1031.6,1477.0 L1032.2,1477.1 L1032.7,1477.1 L1033.3,1477.1 L1033.8,1477.3 L1034.4,1477.0 L1034.9,1477.0 L1035.5,1477.1 L1036.0,1476.9 L1036.6,1476.8 L1037.1,1477.1 L1037.7,1477.2 L1038.2,1477.1 L1038.8,1477.1 L1039.3,1477.1 L1039.9,1477.0 L1040.4,1477.1 L1041.0,1476.8 L1041.5,1477.0 L1042.1,1476.9 L1042.6,1477.1 L1043.2,1477.3 L1043.7,1477.1 L1044.3,1477.1 L1044.8,1477.3 L1045.4,1477.2 L1045.9,1477.1 L1046.5,1477.2 L1047.0,1477.5 L1047.6,1477.4 L1048.1,1477.3 L1048.7,1477.0 L1049.2,1477.2 L1049.8,1477.0 L1050.3,1477.2 L1050.9,1477.1 L1051.4,1477.4 L1052.0,1477.1 L1052.5,1477.4 L1053.1,1477.4 L1053.6,1476.9 L1054.2,1477.2 L1054.7,1477.5 L1055.3,1477.4 L1055.8,1476.9 L1056.4,1476.9 L1056.9,1476.9 L1057.5,1476.9 L1058.0,1477.0 L1058.6,1477.4 L1059.1,1477.2 L1059.7,1477.1 L1060.2,1477.1 L1060.8,1477.3 L1061.3,1477.3 L1061.9,1477.1 L1062.4,1477.4 L1063.0,1477.0 L1063.5,1477.1 L1064.1,1477.3 L1064.6,1477.5 L1065.2,1477.2 L1065.7,1477.2 L1066.3,1477.4 L1066.8,1477.4 L1067.4,1477.4 L1067.9,1477.4 L1068.5,1477.3 L1069.0,1477.3 L1069.6,1477.4 L1070.1,1477.3 L1070.7,1477.4 L1071.2,1476.8 L1071.8,1477.0 L1072.3,1477.4 L1072.9,1477.2 L1073.4,1477.0 L1074.0,1477.2 L1074.5,1477.3 L1075.1,1477.1 L1075.6,1477.2 L1076.2,1477.1 L1076.7,1477.1 L1077.3,1477.1 L1077.8,1477.3 L1078.4,1476.9 L1078.9,1477.0 L1079.5,1477.2 L1080.0,1476.9 L1080.6,1476.9 L1081.1,1477.2 L1081.7,1477.2 L1082.2,1477.2 L1082.8,1477.2 L1083.3,1477.2 L1083.9,1477.7 L1084.4,1477.2 L1085.0,1477.1 L1085.5,1477.0 L1086.1,1477.2 L1086.6,1477.6 L1087.2,1477.4 L1087.7,1477.4 L1088.3,1477.4 L1088.8,1477.7 L1089.4,1477.5 L1089.9,1477.3 L1090.5,1477.5 L1091.0,1477.5 L1091.6,1477.6 L1092.1,1477.6 L1092.7,1477.6 L1093.2,1477.5 L1093.8,1477.2 L1094.3,1477.2 L1094.9,1477.5 L1095.4,1477.4 L1096.0,1477.3 L1096.5,1477.1 L1097.1,1476.8 L1097.6,1476.9 L1098.2,1477.3 L1098.7,1477.0 L1099.3,1477.0 L1099.8,1476.8 L1100.4,1476.9 L1100.9,1477.0 L1101.5,1477.0 L1102.0,1477.0 L1102.6,1477.0 L1103.1,1477.0 L1103.7,1477.1 L1104.2,1477.2 L1104.8,1477.2 L1105.3,1477.4 L1105.9,1477.2 L1106.4,1477.1 L1107.0,1477.0 L1107.5,1477.2 L1108.1,1476.8 L1108.6,1476.6 L1109.2,1476.8 L1109.7,1477.0 L1110.3,1476.8 L1110.8,1477.2 L1111.4,1477.0 L1111.9,1476.7 L1112.5,1477.0 L1113.0,1477.4 L1113.6,1477.0 L1114.1,1476.9 L1114.7,1477.3 L1115.2,1477.6 L1115.8,1477.5 L1116.3,1477.3 L1116.9,1477.3 L1117.4,1477.4 L1118.0,1477.6 L1118.5,1477.8 L1119.1,1477.4 L1119.6,1477.5 L1120.2,1477.3 L1120.7,1477.3 L1121.3,1477.1 L1121.8,1477.1 L1122.4,1477.2 L1122.9,1477.0 L1123.5,1477.2 L1124.0,1477.0 L1124.6,1477.0 L1125.1,1477.0 L1125.7,1477.0 L1126.2,1477.1 L1126.8,1477.4 L1127.3,1477.6 L1127.9,1477.0 L1128.4,1477.1 L1129.0,1477.1 L1129.5,1477.0 L1130.1,1477.2 L1130.6,1477.1 L1131.2,1477.2 L1131.7,1477.4 L1132.3,1476.9 L1132.8,1477.2 L1133.4,1477.3 L1133.9,1477.2 L1134.5,1477.4 L1135.0,1477.4 L1135.6,1477.4 L1136.1,1477.6 L1136.7,1477.3 L1137.2,1477.6 L1137.8,1477.5 L1138.3,1477.4 L1138.9,1477.5 L1139.4,1477.6 L1140.0,1477.7 L1140.5,1477.3 L1141.1,1477.4 L1141.6,1477.5 L1142.2,1477.7 L1142.7,1477.4 L1143.3,1477.5 L1143.8,1477.2 L1144.4,1477.4 L1144.9,1477.5 L1145.5,1477.5 L1146.0,1477.3 L1146.6,1477.1 L1147.1,1477.3 L1147.7,1477.8 L1148.2,1477.7 L1148.8,1477.5 L1149.3,1477.6 L1149.9,1477.4 L1150.4,1477.2 L1151.0,1477.2 L1151.5,1477.6 L1152.1,1477.7 L1152.6,1477.2 L1153.2,1477.3 L1153.7,1477.5 L1154.3,1477.5 L1154.8,1476.8 L1155.4,1477.1 L1155.9,1477.2 L1156.5,1476.9 L1157.0,1477.1 L1157.6,1477.2 L1158.1,1477.2 L1158.7,1477.0 L1159.2,1477.1 L1159.8,1477.0 L1160.3,1477.1 L1160.9,1477.1 L1161.4,1476.9 L1162.0,1476.8 L1162.5,1477.4 L1163.1,1477.4 L1163.6,1477.3 L1164.2,1477.1 L1164.7,1477.2 L1165.3,1477.6 L1165.8,1477.5 L1166.4,1477.3 L1166.9,1477.4 L1167.5,1477.5 L1168.0,1477.4 L1168.6,1477.3 L1169.1,1477.7 L1169.7,1477.6 L1170.2,1477.3 L1170.8,1477.0 L1171.3,1477.2 L1171.9,1477.3 L1172.4,1477.4 L1173.0,1477.3 L1173.5,1477.4 L1174.1,1477.2 L1174.6,1476.9 L1175.2,1476.6 L1175.7,1476.7 L1176.3,1476.8 L1176.8,1477.0 L1177.4,1477.2 L1177.9,1477.3 L1178.5,1477.0 L1179.0,1476.9 L1179.6,1477.3 L1180.1,1477.1 L1180.7,1476.8 L1181.2,1476.7 L1181.8,1476.6 L1182.3,1476.9 L1182.9,1477.0 L1183.4,1477.2 L1184.0,1477.1 L1184.5,1477.1 L1185.1,1477.1 L1185.6,1476.9 L1186.2,1476.8 L1186.7,1476.8 L1187.3,1476.7 L1187.8,1476.9 L1188.4,1476.9 L1188.9,1477.1 L1189.5,1476.9 L1190.0,1476.6 L1190.6,1477.0 L1191.1,1477.2 L1191.7,1476.6 L1192.2,1476.7 L1192.8,1476.8 L1193.3,1476.6 L1193.9,1476.7 L1194.4,1476.7 L1195.0,1476.5 L1195.5,1476.7 L1196.1,1476.7 L1196.6,1476.4 L1197.2,1476.6 L1197.7,1476.7 L1198.3,1476.6 L1198.8,1476.6 L1199.4,1476.6 L1199.9,1476.4 L1200.5,1476.5 L1201.0,1476.3 L1201.6,1476.0 L1202.1,1476.2 L1202.7,1476.2 L1203.2,1476.0 L1203.8,1475.6 L1204.3,1475.5 L1204.9,1475.5 L1205.4,1475.1 L1206.0,1475.0 L1206.5,1474.7 L1207.1,1474.1 L1207.6,1473.7 L1208.2,1473.0 L1208.7,1472.3 L1209.3,1470.9 L1209.8,1468.8 L1210.4,1465.8 L1210.9,1461.2 L1211.5,1454.7 L1212.0,1446.0 L1212.6,1435.6 L1213.1,1424.9 L1213.7,1416.1 L1214.2,1412.0 L1214.8,1413.5 L1215.3,1418.4 L1215.9,1423.7 L1216.4,1427.9 L1217.0,1431.4 L1217.5,1435.3 L1218.1,1440.3 L1218.6,1446.4 L1219.2,1453.3 L1219.7,1459.4 L1220.3,1464.3 L1220.8,1467.5 L1221.4,1470.4 L1221.9,1472.0 L1222.5,1473.3 L1223.0,1473.9 L1223.6,1474.5 L1224.1,1475.1 L1224.7,1475.3 L1225.2,1475.6 L1225.8,1475.6 L1226.3,1475.6 L1226.9,1475.8 L1227.4,1475.9 L1228.0,1476.1 L1228.5,1476.4 L1229.1,1476.0 L1229.6,1476.0 L1230.2,1476.4 L1230.7,1476.8 L1231.3,1476.9 L1231.8,1477.0 L1232.4,1476.9 L1232.9,1476.7 L1233.5,1476.7 L1234.0,1476.4 L1234.6,1476.7 L1235.1,1477.0 L1235.7,1476.7 L1236.2,1476.6 L1236.8,1476.8 L1237.3,1477.2 L1237.9,1477.6 L1238.4,1477.8 L1239.0,1477.6 L1239.5,1476.9 L1240.1,1476.8 L1240.6,1477.2 L1241.2,1477.3 L1241.7,1476.9 L1242.3,1476.9 L1242.8,1477.0 L1243.4,1477.0 L1243.9,1477.0 L1244.5,1477.1 L1245.0,1477.1 L1245.6,1477.0 L1246.1,1477.1 L1246.7,1477.2 L1247.2,1476.7 L1247.8,1476.7 L1248.3,1477.0 L1248.9,1477.3 L1249.4,1477.1 L1250.0,1477.1 L1250.5,1477.0 L1251.1,1477.1 L1251.6,1476.9 L1252.2,1477.1 L1252.7,1477.1 L1253.3,1477.1 L1253.8,1477.3 L1254.4,1477.2 L1254.9,1477.0 L1255.5,1477.1 L1256.0,1476.8 L1256.6,1477.3 L1257.1,1477.6 L1257.7,1477.3 L1258.2,1477.2 L1258.8,1477.1 L1259.3,1477.2 L1259.9,1477.1 L1260.4,1477.2 L1261.0,1477.1 L1261.5,1477.1 L1262.1,1477.2 L1262.6,1477.1 L1263.2,1477.0 L1263.7,1477.6 L1264.3,1477.3 L1264.8,1477.0 L1265.4,1477.4 L1265.9,1477.3 L1266.5,1477.3 L1267.0,1477.3 L1267.6,1477.0 L1268.1,1476.6 L1268.7,1477.0 L1269.2,1477.3 L1269.8,1477.3 L1270.3,1477.0 L1270.9,1477.0 L1271.4,1477.1 L1272.0,1477.0 L1272.5,1477.0 L1273.1,1477.1 L1273.6,1477.0 L1274.2,1477.4 L1274.7,1477.1 L1275.3,1477.2 L1275.8,1477.2 L1276.4,1477.2 L1276.9,1477.5 L1277.5,1477.7 L1278.0,1477.9 L1278.6,1477.7 L1279.1,1477.6 L1279.7,1477.7 L1280.2,1477.5 L1280.8,1477.7 L1281.3,1477.9 L1281.9,1477.8 L1282.4,1477.5 L1283.0,1477.5 L1283.5,1478.0 L1284.1,1477.7 L1284.6,1477.4 L1285.2,1477.4 L1285.7,1477.7 L1286.3,1477.8 L1286.8,1477.7 L1287.4,1477.7 L1287.9,1477.6 L1288.5,1477.5 L1289.0,1477.5 L1289.6,1477.3 L1290.1,1477.3 L1290.7,1477.2 L1291.2,1477.1 L1291.8,1477.3 L1292.3,1477.1 L1292.9,1477.1 L1293.4,1477.0 L1294.0,1477.1 L1294.5,1477.1 L1295.1,1477.3 L1295.6,1477.2 L1296.2,1477.2 L1296.7,1477.3 L1297.3,1476.6 L1297.8,1476.6 L1298.4,1476.5 L1298.9,1477.0 L1299.5,1477.2 L1300.0,1477.3 L1300.6,1477.2 L1301.1,1477.1 L1301.7,1477.5 L1302.2,1477.3 L1302.8,1477.1 L1303.3,1476.9 L1303.9,1477.1 L1304.4,1477.0 L1305.0,1477.0 L1305.5,1477.1 L1306.1,1477.1 L1306.6,1477.0 L1307.2,1477.3 L1307.7,1477.0 L1308.3,1477.0 L1308.8,1477.2 L1309.4,1477.3 L1309.9,1477.3 L1310.5,1477.2 L1311.0,1477.3 L1311.6,1477.1 L1312.1,1477.0 L1312.7,1477.3 L1313.2,1477.1 L1313.8,1477.2 L1314.3,1477.4 L1314.9,1477.4 L1315.4,1477.7 L1316.0,1477.1 L1316.5,1477.1 L1317.1,1477.3 L1317.6,1477.5 L1318.2,1477.2 L1318.7,1477.1 L1319.3,1477.4 L1319.8,1477.2 L1320.4,1477.3 L1320.9,1477.4 L1321.5,1477.2 L1322.0,1477.2 L1322.6,1477.3 L1323.1,1477.2 L1323.7,1477.2 L1324.2,1477.0 L1324.8,1477.0 L1325.3,1476.8 L1325.9,1476.8 L1326.4,1477.2 L1327.0,1477.1 L1327.5,1477.0 L1328.1,1476.7 L1328.6,1476.8 L1329.2,1476.8 L1329.7,1476.6 L1330.3,1476.9 L1330.8,1476.8 L1331.4,1476.9 L1331.9,1476.8 L1332.5,1477.3 L1333.0,1477.4 L1333.6,1477.3 L1334.1,1477.1 L1334.7,1477.3 L1335.2,1477.6 L1335.8,1477.4 L1336.3,1477.5 L1336.9,1477.4 L1337.4,1477.3 L1338.0,1477.6 L1338.5,1477.1 L1339.1,1477.3 L1339.6,1477.3 L1340.2,1477.1 L1340.7,1477.4 L1341.3,1477.5 L1341.8,1477.3 L1342.4,1477.2 L1342.9,1477.4 L1343.5,1477.6 L1344.0,1477.5 L1344.6,1477.7 L1345.1,1477.6 L1345.7,1477.6 L1346.2,1477.6 L1346.8,1477.3 L1347.3,1477.3 L1347.9,1477.5 L1348.4,1477.6 L1349.0,1477.8 L1349.5,1477.7 L1350.1,1477.5 L1350.6,1477.5 L1351.2,1477.4 L1351.7,1477.4 L1352.3,1477.4 L1352.8,1477.6 L1353.4,1477.4 L1353.9,1477.3 L1354.5,1477.4 L1355.0,1477.3 L1355.6,1477.2 L1356.1,1477.0 L1356.7,1477.3 L1357.2,1477.3 L1357.8,1477.4 L1358.3,1477.4 L1358.9,1477.2 L1359.4,1477.8 L1360.0,1477.6 L1360.5,1477.4 L1361.1,1477.2 L1361.6,1477.5 L1362.2,1477.5 L1362.7,1477.4 L1363.3,1477.5 L1363.8,1477.6 L1364.4,1477.4 L1364.9,1477.3 L1365.5,1477.6 L1366.0,1477.5 L1366.6,1477.5 L1367.1,1477.9 L1367.7,1477.6 L1368.2,1477.5 L1368.8,1477.5 L1369.3,1477.4 L1369.9,1477.5 L1370.4,1477.5 L1371.0,1477.3 L1371.5,1477.4 L1372.1,1477.5 L1372.6,1477.5 L1373.2,1477.5 L1373.7,1477.5 L1374.3,1477.4 L1374.8,1477.4 L1375.4,1477.2 L1375.9,1477.2 L1376.5,1477.3 L1377.0,1476.9 L1377.6,1477.3 L1378.1,1477.6 L1378.7,1477.0 L1379.2,1477.2 L1379.8,1476.8 L1380.3,1477.1 L1380.9,1477.5 L1381.4,1477.4 L1382.0,1476.9 L1382.5,1476.8 L1383.1,1476.8 L1383.6,1477.2 L1384.2,1477.1 L1384.7,1477.1 L1385.3,1477.1 L1385.8,1477.1 L1386.4,1477.1 L1386.9,1476.9 L1387.5,1476.7 L1388.0,1477.0 L1388.6,1476.5 L1389.1,1476.9 L1389.7,1476.8 L1390.2,1476.8 L1390.8,1476.8 L1391.3,1476.9 L1391.9,1477.0 L1392.4,1477.0 L1393.0,1477.0 L1393.5,1477.3 L1394.1,1477.3 L1394.6,1477.6 L1395.2,1477.4 L1395.7,1477.4 L1396.3,1477.6 L1396.8,1477.7 L1397.4,1477.4 L1397.9,1477.5 L1398.5,1477.7 L1399.0,1477.3 L1399.6,1477.3 L1400.1,1477.4 L1400.7,1477.1 L1401.2,1476.8 L1401.8,1477.0 L1402.3,1477.4 L1402.9,1477.5 L1403.4,1477.5 L1404.0,1477.4 L1404.5,1477.2 L1405.1,1477.5 L1405.6,1477.6 L1406.2,1477.3 L1406.7,1477.5 L1407.3,1477.3 L1407.8,1477.4 L1408.4,1477.4 L1408.9,1477.1 L1409.5,1477.5 L1410.0,1477.2 L1410.6,1477.2 L1411.1,1477.2 L1411.7,1477.3 L1412.2,1477.3 L1412.8,1477.2 L1413.3,1477.3 L1413.9,1477.1 L1414.4,1476.8 L1415.0,1476.4 L1415.5,1476.8 L1416.1,1476.8 L1416.6,1476.7 L1417.2,1476.8 L1417.7,1477.1 L1418.3,1477.3 L1418.8,1477.5 L1419.4,1477.3 L1419.9,1477.0 L1420.5,1477.0 L1421.0,1476.8 L1421.6,1477.1 L1422.1,1477.1 L1422.7,1476.8 L1423.2,1476.8 L1423.8,1476.8 L1424.3,1476.7 L1424.9,1477.1 L1425.4,1477.4 L1426.0,1477.1 L1426.5,1477.0 L1427.1,1476.8 L1427.6,1476.8 L1428.2,1477.1 L1428.7,1476.8 L1429.3,1476.8 L1429.8,1476.8 L1430.4,1476.9 L1430.9,1476.8 L1431.5,1476.8 L1432.0,1476.5 L1432.6,1476.7 L1433.1,1476.9 L1433.7,1476.5 L1434.2,1476.6 L1434.8,1476.9 L1435.3,1476.9 L1435.9,1476.9 L1436.4,1476.4 L1437.0,1476.7 L1437.5,1476.6 L1438.1,1476.6 L1438.6,1476.9 L1439.2,1477.0 L1439.7,1476.6 L1440.3,1476.5 L1440.8,1476.6 L1441.4,1476.7 L1441.9,1476.6 L1442.5,1477.1 L1443.0,1476.8 L1443.6,1476.6 L1444.1,1476.6 L1444.7,1477.1 L1445.2,1477.0 L1445.8,1476.5 L1446.3,1476.5 L1446.9,1476.6 L1447.4,1476.1 L1448.0,1476.1 L1448.5,1476.4 L1449.1,1476.0 L1449.6,1475.8 L1450.2,1475.6 L1450.7,1475.6 L1451.3,1475.7 L1451.8,1475.3 L1452.4,1475.0 L1452.9,1475.0 L1453.5,1475.2 L1454.0,1474.7 L1454.6,1474.2 L1455.1,1473.9 L1455.7,1473.6 L1456.2,1472.9 L1456.8,1471.9 L1457.3,1471.2 L1457.9,1469.9 L1458.4,1467.9 L1459.0,1464.4 L1459.5,1459.8 L1460.1,1452.3 L1460.6,1442.1 L1461.2,1429.5 L1461.7,1414.7 L1462.3,1400.4 L1462.8,1390.3 L1463.4,1388.1 L1463.9,1393.7 L1464.5,1403.1 L1465.0,1411.9 L1465.6,1417.7 L1466.1,1420.5 L1466.7,1421.7 L1467.2,1423.4 L1467.8,1428.1 L1468.3,1435.4 L1468.9,1443.4 L1469.4,1451.3 L1470.0,1457.9 L1470.5,1463.1 L1471.1,1466.9 L1471.6,1469.7 L1472.2,1471.4 L1472.7,1472.2 L1473.3,1473.0 L1473.8,1474.0 L1474.4,1474.4 L1474.9,1474.5 L1475.5,1474.4 L1476.0,1474.8 L1476.6,1475.3 L1477.1,1475.5 L1477.7,1476.0 L1478.2,1475.9 L1478.8,1475.9 L1479.3,1475.7 L1479.9,1475.7 L1480.4,1475.9 L1481.0,1476.0 L1481.5,1476.2 L1482.1,1476.4 L1482.6,1476.5 L1483.2,1476.6 L1483.7,1476.3 L1484.3,1476.6 L1484.8,1476.8 L1485.4,1477.1 L1485.9,1476.9 L1486.5,1476.9 L1487.0,1476.8 L1487.6,1477.0 L1488.1,1477.0 L1488.7,1476.8 L1489.2,1476.8 L1489.8,1476.9 L1490.3,1477.0 L1490.9,1476.7 L1491.4,1477.0 L1492.0,1476.9 L1492.5,1477.2 L1493.1,1477.1 L1493.6,1476.7 L1494.2,1476.7 L1494.7,1477.2 L1495.3,1477.0 L1495.8,1476.9 L1496.4,1476.8 L1496.9,1476.8 L1497.5,1477.1 L1498.0,1477.0 L1498.6,1476.9 L1499.1,1477.2 L1499.7,1477.1 L1500.2,1476.9 L1500.8,1477.2 L1501.3,1477.1 L1501.9,1477.2 L1502.4,1477.0 L1503.0,1477.0 L1503.5,1476.8 L1504.1,1477.0 L1504.6,1476.8 L1505.2,1476.9 L1505.7,1476.6 L1506.3,1476.9 L1506.8,1477.2 L1507.4,1477.2 L1507.9,1477.2 L1508.5,1477.0 L1509.0,1477.4 L1509.6,1477.4 L1510.1,1476.9 L1510.7,1476.8 L1511.2,1476.9 L1511.8,1477.0 L1512.3,1476.9 L1512.9,1476.6 L1513.4,1477.0 L1514.0,1476.9 L1514.5,1476.8 L1515.1,1477.1 L1515.6,1477.0 L1516.2,1477.2 L1516.7,1477.1 L1517.3,1477.0 L1517.8,1477.2 L1518.4,1477.1 L1518.9,1476.8 L1519.5,1476.6 L1520.0,1476.8 L1520.6,1477.0 L1521.1,1477.0 L1521.7,1477.3 L1522.2,1477.1 L1522.8,1477.1 L1523.3,1477.1 L1523.9,1476.9 L1524.4,1477.0 L1525.0,1476.9 L1525.5,1476.6 L1526.1,1476.8 L1526.6,1477.3 L1527.2,1477.2 L1527.7,1477.2 L1528.3,1477.0 L1528.8,1477.2 L1529.4,1477.4 L1529.9,1477.3 L1530.5,1477.2 L1531.0,1477.5 L1531.6,1477.2 L1532.1,1477.2 L1532.7,1477.3 L1533.2,1476.9 L1533.8,1477.1 L1534.3,1476.9 L1534.9,1476.9 L1535.4,1477.0 L1536.0,1477.1 L1536.5,1477.2 L1537.1,1477.2 L1537.6,1477.3 L1538.2,1477.5 L1538.7,1477.6 L1539.3,1477.4 L1539.8,1477.3 L1540.4,1477.1 L1540.9,1476.9 L1541.5,1477.2 L1542.0,1477.2 L1542.6,1477.2 L1543.1,1477.0 L1543.7,1477.5 L1544.2,1477.1 L1544.8,1477.2 L1545.3,1477.3 L1545.9,1477.0 L1546.4,1477.0 L1547.0,1476.8 L1547.5,1476.8 L1548.1,1476.8 L1548.6,1477.2 L1549.2,1477.2 L1549.7,1477.2 L1550.3,1477.4 L1550.8,1477.4 L1551.4,1477.1 L1551.9,1477.0 L1552.5,1477.0 L1553.0,1477.0 L1553.6,1477.3 L1554.1,1477.1 L1554.7,1477.0 L1555.2,1477.1 L1555.8,1477.2 L1556.3,1477.1 L1556.9,1477.2 L1557.4,1477.3 L1558.0,1477.6 L1558.5,1477.5 L1559.1,1477.1 L1559.6,1477.3 L1560.2,1477.5 L1560.7,1477.4 L1561.3,1477.6 L1561.8,1477.6 L1562.4,1477.6 L1562.9,1477.5 L1563.5,1477.5 L1564.0,1477.5 L1564.6,1477.1 L1565.1,1477.1 L1565.7,1477.2 L1566.2,1477.6 L1566.8,1477.5 L1567.3,1477.4 L1567.9,1477.2 L1568.4,1477.1 L1569.0,1477.0 L1569.5,1477.2 L1570.1,1477.1 L1570.6,1477.3 L1571.2,1477.1 L1571.7,1477.0 L1572.3,1477.0 L1572.8,1477.0 L1573.4,1477.1 L1573.9,1477.5 L1574.5,1477.6 L1575.0,1477.0 L1575.6,1477.2 L1576.1,1477.3 L1576.7,1477.1 L1577.2,1477.1 L1577.8,1477.1 L1578.3,1476.9 L1578.9,1477.3 L1579.4,1477.4 L1580.0,1477.3 L1580.5,1477.3 L1581.1,1477.5 L1581.6,1477.7 L1582.2,1477.5 L1582.7,1477.4 L1583.3,1477.2 L1583.8,1477.3 L1584.4,1477.2 L1584.9,1477.2 L1585.5,1477.0 L1586.0,1477.1 L1586.6,1477.4 L1587.1,1477.5 L1587.7,1477.4 L1588.2,1477.2 L1588.8,1477.2 L1589.3,1476.8 L1589.9,1477.2 L1590.4,1477.2 L1591.0,1477.2 L1591.5,1477.3 L1592.1,1477.1 L1592.6,1477.2 L1593.2,1477.0 L1593.7,1477.1 L1594.3,1477.0 L1594.8,1477.1 L1595.4,1477.2 L1595.9,1476.9 L1596.5,1476.8 L1597.0,1476.9 L1597.6,1477.1 L1598.1,1477.4 L1598.7,1476.9 L1599.2,1476.5 L1599.8,1476.7 L1600.3,1476.6 L1600.9,1476.8 L1601.4,1476.9 L1602.0,1476.7 L1602.5,1476.6 L1603.1,1476.5 L1603.6,1476.8 L1604.2,1476.8 L1604.7,1477.1 L1605.3,1477.1 L1605.8,1476.7 L1606.4,1476.8 L1606.9,1476.9 L1607.5,1476.9 L1608.0,1476.6 L1608.6,1476.9 L1609.1,1477.2 L1609.7,1476.9 L1610.2,1476.8 L1610.8,1476.7 L1611.3,1476.6 L1611.9,1476.9 L1612.4,1476.8 L1613.0,1476.8 L1613.5,1476.8 L1614.1,1476.7 L1614.6,1476.3 L1615.2,1476.5 L1615.7,1476.4 L1616.3,1476.4 L1616.8,1476.2 L1617.4,1476.2 L1617.9,1476.4 L1618.5,1476.2 L1619.0,1476.1 L1619.6,1476.1 L1620.1,1476.1 L1620.7,1476.0 L1621.2,1475.6 L1621.8,1475.8 L1622.3,1476.0 L1622.9,1476.3 L1623.4,1476.3 L1624.0,1476.0 L1624.5,1476.3 L1625.1,1476.0 L1625.6,1475.9 L1626.2,1475.6 L1626.7,1475.4 L1627.3,1475.5 L1627.8,1475.0 L1628.4,1474.7 L1628.9,1474.5 L1629.5,1474.1 L1630.0,1473.0 L1630.6,1472.4 L1631.1,1471.6 L1631.7,1470.5 L1632.2,1468.3 L1632.8,1464.6 L1633.3,1459.5 L1633.9,1452.5 L1634.4,1443.1 L1635.0,1431.6 L1635.5,1419.3 L1636.1,1408.0 L1636.6,1401.0 L1637.2,1400.9 L1637.7,1406.8 L1638.3,1415.4 L1638.8,1423.3 L1639.4,1429.0 L1639.9,1431.8 L1640.5,1431.9 L1641.0,1432.0 L1641.6,1432.9 L1642.1,1435.9 L1642.7,1442.1 L1643.2,1449.0 L1643.8,1455.6 L1644.3,1461.0 L1644.9,1465.2 L1645.4,1468.4 L1646.0,1470.7 L1646.5,1472.1 L1647.1,1473.0 L1647.6,1473.5 L1648.2,1474.2 L1648.7,1474.7 L1649.3,1475.2 L1649.8,1475.2 L1650.4,1475.3 L1650.9,1475.4 L1651.5,1475.8 L1652.0,1475.8 L1652.6,1475.9 L1653.1,1476.4 L1653.7,1476.5 L1654.2,1476.1 L1654.8,1476.1 L1655.3,1476.4 L1655.9,1476.4 L1656.4,1476.9 L1657.0,1476.6 L1657.5,1476.7 L1658.1,1476.4 L1658.6,1476.6 L1659.2,1476.9 L1659.7,1476.8 L1660.3,1476.7 L1660.8,1477.2 L1661.4,1476.9 L1661.9,1476.6 L1662.5,1476.5 L1663.0,1476.7 L1663.6,1476.9 L1664.1,1476.6 L1664.7,1476.6 L1665.2,1476.6 L1665.8,1476.9 L1666.3,1476.9 L1666.9,1477.0 L1667.4,1477.0 L1668.0,1476.9 L1668.5,1477.1 L1669.1,1477.2 L1669.6,1476.9 L1670.2,1477.3 L1670.7,1477.8 L1671.3,1477.3 L1671.8,1477.2 L1672.4,1477.0 L1672.9,1477.2 L1673.5,1477.2 L1674.0,1477.3 L1674.6,1477.1 L1675.1,1477.0 L1675.7,1477.2 L1676.2,1477.0 L1676.8,1476.8 L1677.3,1476.9 L1677.9,1476.8 L1678.4,1477.0 L1679.0,1476.9 L1679.5,1476.9 L1680.1,1477.0 L1680.6,1476.8 L1681.2,1477.0 L1681.7,1476.8 L1682.3,1477.3 L1682.8,1477.2 L1683.4,1477.0 L1683.9,1477.0 L1684.5,1477.2 L1685.0,1477.1 L1685.6,1477.1 L1686.1,1477.3 L1686.7,1477.1 L1687.2,1477.1 L1687.8,1477.3 L1688.3,1477.4 L1688.9,1477.2 L1689.4,1477.2 L1690.0,1477.3 L1690.5,1477.5 L1691.1,1477.5 L1691.6,1477.2 L1692.2,1477.2 L1692.7,1477.3 L1693.3,1477.4 L1693.8,1477.5 L1694.4,1477.3 L1694.9,1477.3 L1695.5,1477.4 L1696.0,1477.0 L1696.6,1477.0 L1697.1,1477.1 L1697.7,1477.2 L1698.2,1477.3 L1698.8,1477.2 L1699.3,1477.5 L1699.9,1477.2 L1700.4,1477.2 L1701.0,1477.4 L1701.5,1477.4 L1702.1,1477.2 L1702.6,1477.3 L1703.2,1477.3 L1703.7,1477.2 L1704.3,1477.1 L1704.8,1476.9 L1705.4,1476.9 L1705.9,1476.6 L1706.5,1476.6 L1707.0,1476.7 L1707.6,1477.0 L1708.1,1476.8 L1708.7,1476.8 L1709.2,1476.6 L1709.8,1476.7 L1710.3,1476.7 L1710.9,1476.7 L1711.4,1476.8 L1712.0,1476.6 L1712.5,1477.0 L1713.1,1477.4 L1713.6,1476.9 L1714.2,1476.8 L1714.7,1476.7 L1715.3,1476.8 L1715.8,1476.7 L1716.4,1477.0 L1716.9,1476.8 L1717.5,1476.5 L1718.0,1476.5 L1718.6,1476.5 L1719.1,1476.8 L1719.7,1477.0 L1720.2,1476.8 L1720.8,1476.6 L1721.3,1476.6 L1721.9,1476.7 L1722.4,1476.4 L1723.0,1476.8 L1723.5,1476.7 L1724.1,1476.3 L1724.6,1476.7 L1725.2,1476.3 L1725.7,1476.4 L1726.3,1476.4 L1726.8,1475.7 L1727.4,1475.3 L1727.9,1475.1 L1728.5,1474.7 L1729.0,1474.2 L1729.6,1473.4 L1730.1,1472.5 L1730.7,1471.5 L1731.2,1470.4 L1731.8,1469.4 L1732.3,1468.7 L1732.9,1468.4 L1733.4,1468.4 L1734.0,1469.0 L1734.5,1469.4 L1735.1,1470.1 L1735.6,1470.5 L1736.2,1471.0 L1736.7,1471.4 L1737.3,1471.7 L1737.8,1471.9 L1738.4,1472.1 L1738.9,1473.1 L1739.5,1473.4 L1740.0,1473.7 L1740.6,1474.3 L1741.1,1475.5 L1741.7,1475.9 L1742.2,1475.9 L1742.8,1476.3 L1743.3,1476.6 L1743.9,1476.6 L1744.4,1476.6 L1745.0,1476.8 L1745.5,1477.0 L1746.1,1476.9 L1746.6,1476.7 L1747.2,1476.9 L1747.7,1476.6 L1748.3,1476.7 L1748.8,1477.1 L1749.4,1476.9 L1749.9,1476.8 L1750.5,1476.8 L1751.0,1476.9 L1751.6,1476.6 L1752.1,1476.3 L1752.7,1476.4 L1753.2,1476.0 L1753.8,1476.2 L1754.3,1476.9 L1754.9,1476.8 L1755.4,1476.5 L1756.0,1476.6 L1756.5,1476.6 L1757.1,1476.7 L1757.6,1476.4 L1758.2,1476.3 L1758.7,1476.4 L1759.3,1476.6 L1759.8,1476.6 L1760.4,1476.5 L1760.9,1476.6 L1761.5,1476.3 L1762.0,1476.3 L1762.6,1476.2 L1763.1,1476.1 L1763.7,1476.4 L1764.2,1476.0 L1764.8,1475.8 L1765.3,1475.8 L1765.9,1475.6 L1766.4,1475.7 L1767.0,1475.7 L1767.5,1475.4 L1768.1,1474.8 L1768.6,1474.7 L1769.2,1474.6 L1769.7,1473.9 L1770.3,1473.3 L1770.8,1472.2 L1771.4,1470.2 L1771.9,1468.2 L1772.5,1464.7 L1773.0,1459.9 L1773.6,1453.5 L1774.1,1445.4 L1774.7,1436.5 L1775.2,1427.8 L1775.8,1421.3 L1776.3,1419.1 L1776.9,1421.6 L1777.4,1427.5 L1778.0,1434.2 L1778.5,1439.9 L1779.1,1443.7 L1779.6,1445.3 L1780.2,1445.1 L1780.7,1444.1 L1781.3,1443.5 L1781.8,1445.2 L1782.4,1449.0 L1782.9,1453.3 L1783.5,1458.1 L1784.0,1463.0 L1784.6,1466.6 L1785.1,1469.3 L1785.7,1471.1 L1786.2,1472.5 L1786.8,1473.5 L1787.3,1474.2 L1787.9,1474.5 L1788.4,1474.6 L1789.0,1474.9 L1789.5,1475.1 L1790.1,1475.7 L1790.6,1475.7 L1791.2,1475.7 L1791.7,1475.9 L1792.3,1475.9 L1792.8,1476.0 L1793.4,1475.8 L1793.9,1475.7 L1794.5,1476.2 L1795.0,1475.9 L1795.6,1475.8 L1796.1,1475.8 L1796.7,1475.8 L1797.2,1475.9 L1797.8,1475.9 L1798.3,1475.6 L1798.9,1475.7 L1799.4,1475.5 L1800.0,1475.6 L1800.5,1475.1 L1801.1,1475.0 L1801.6,1474.7 L1802.2,1473.9 L1802.7,1473.2 L1803.3,1471.9 L1803.8,1470.0 L1804.4,1467.6 L1804.9,1464.7 L1805.5,1460.9 L1806.0,1456.9 L1806.6,1453.4 L1807.1,1451.1 L1807.7,1450.7 L1808.2,1452.2 L1808.8,1454.9 L1809.3,1457.8 L1809.9,1459.8 L1810.4,1461.2 L1811.0,1461.8 L1811.5,1462.1 L1812.1,1461.5 L1812.6,1461.8 L1813.2,1462.7 L1813.7,1463.9 L1814.3,1466.0 L1814.8,1468.2 L1815.4,1470.3 L1815.9,1471.6 L1816.5,1473.1 L1817.0,1474.2 L1817.6,1474.8 L1818.1,1475.3 L1818.7,1475.8 L1819.2,1475.9 L1819.8,1476.0 L1820.3,1476.1 L1820.9,1476.4 L1821.4,1476.4 L1822.0,1476.6 L1822.5,1476.6 L1823.1,1476.8 L1823.6,1476.5 L1824.2,1476.6 L1824.7,1476.7 L1825.3,1476.8 L1825.8,1476.9 L1826.4,1476.8 L1826.9,1477.0 L1827.5,1477.1 L1828.0,1476.9 L1828.6,1476.5 L1829.1,1476.5 L1829.7,1476.9 L1830.2,1476.9 L1830.8,1477.0 L1831.3,1477.0 L1831.9,1477.3 L1832.4,1477.3 L1833.0,1477.0 L1833.5,1477.1 L1834.1,1477.0 L1834.6,1476.9 L1835.2,1477.1 L1835.7,1477.1 L1836.3,1477.2 L1836.8,1477.5 L1837.4,1477.4 L1837.9,1477.2 L1838.5,1476.8 L1839.0,1476.7 L1839.6,1477.0 L1840.1,1476.8 L1840.7,1476.8 L1841.2,1476.8 L1841.8,1476.9 L1842.3,1477.2 L1842.9,1476.8 L1843.4,1476.7 L1844.0,1476.8 L1844.5,1476.8 L1845.1,1476.5 L1845.6,1476.4 L1846.2,1476.7 L1846.7,1476.8 L1847.3,1476.8 L1847.8,1476.8 L1848.4,1476.9 L1848.9,1477.0 L1849.5,1477.1 L1850.0,1476.9 L1850.6,1477.1 L1851.1,1477.3 L1851.7,1477.2 L1852.2,1477.0 L1852.8,1477.1 L1853.3,1477.3 L1853.9,1477.3 L1854.4,1477.0 L1855.0,1477.3 L1855.5,1477.2 L1856.1,1477.3 L1856.6,1477.4 L1857.2,1477.2 L1857.7,1477.2 L1858.3,1477.4 L1858.8,1477.6 L1859.4,1477.4 L1859.9,1477.3 L1860.5,1477.4 L1861.0,1477.7 L1861.6,1477.8 L1862.1,1477.5 L1862.7,1477.5 L1863.2,1477.5 L1863.8,1477.4 L1864.3,1477.2 L1864.9,1477.3 L1865.4,1477.3 L1866.0,1477.3 L1866.5,1477.2 L1867.1,1477.0 L1867.6,1476.9 L1868.2,1477.0 L1868.7,1477.3 L1869.3,1477.4 L1869.8,1477.3 L1870.4,1477.4 L1870.9,1477.1 L1871.5,1477.0 L1872.0,1476.9 L1872.6,1477.2 L1873.1,1477.2 L1873.7,1477.3 L1874.2,1477.4 L1874.8,1477.2 L1875.3,1477.1 L1875.9,1477.2 L1876.4,1477.3 L1877.0,1477.3 L1877.5,1477.4 L1878.1,1477.2 L1878.6,1477.3 L1879.2,1477.6 L1879.7,1477.5 L1880.3,1477.2 L1880.8,1477.0 L1881.4,1477.1 L1881.9,1477.3 L1882.5,1477.5 L1883.0,1477.7 L1883.6,1477.3 L1884.1,1477.2 L1884.7,1477.1 L1885.2,1477.1 L1885.8,1477.0 L1886.3,1477.0 L1886.9,1477.3 L1887.4,1477.3 L1888.0,1477.4 L1888.5,1477.1 L1889.1,1477.2 L1889.6,1477.2 L1890.2,1476.8 L1890.7,1476.9 L1891.3,1477.3 L1891.8,1477.3 L1892.4,1477.0 L1892.9,1477.1 L1893.5,1477.1 L1894.0,1477.3 L1894.6,1477.6 L1895.1,1477.4 L1895.7,1477.7 L1896.2,1477.3 L1896.8,1477.2 L1897.3,1477.4 L1897.9,1477.3 L1898.4,1477.2 L1899.0,1477.1 L1899.5,1476.8 L1900.1,1476.3 L1900.6,1475.4 L1901.2,1475.1 L1901.7,1474.8 L1902.3,1474.3 L1902.8,1473.7 L1903.4,1473.1 L1903.9,1472.8 L1904.5,1472.5 L1905.0,1472.4 L1905.6,1472.5 L1906.1,1472.8 L1906.7,1473.2 L1907.2,1473.4 L1907.8,1473.6 L1908.3,1473.9 L1908.9,1474.0 L1909.4,1473.9 L1910.0,1474.2 L1910.5,1474.4 L1911.1,1474.6 L1911.6,1474.7 L1912.2,1475.2 L1912.7,1475.5 L1913.3,1475.6 L1913.8,1476.0 L1914.4,1476.3 L1914.9,1476.4 L1915.5,1476.3 L1916.0,1476.3 L1916.6,1476.5 L1917.1,1476.6 L1917.7,1477.0 L1918.2,1476.6 L1918.8,1476.6 L1919.3,1476.8 L1919.9,1476.6 L1920.4,1476.4 L1921.0,1476.7 L1921.5,1476.7 L1922.1,1476.7 L1922.6,1476.6 L1923.2,1476.8 L1923.7,1476.9 L1924.3,1477.0 L1924.8,1476.8 L1925.4,1476.8 L1925.9,1476.8 L1926.5,1477.0 L1927.0,1476.9 L1927.6,1476.8 L1928.1,1477.1 L1928.7,1477.0 L1929.2,1477.0 L1929.8,1476.9 L1930.3,1477.1 L1930.9,1477.1 L1931.4,1477.1 L1932.0,1477.2 L1932.5,1477.2 L1933.1,1477.2 L1933.6,1477.1 L1934.2,1476.9 L1934.7,1477.0 L1935.3,1476.7 L1935.8,1476.7 L1936.4,1477.0 L1936.9,1477.2 L1937.5,1477.5 L1938.0,1477.5 L1938.6,1477.5 L1939.1,1477.3 L1939.7,1477.4 L1940.2,1477.5 L1940.8,1477.4 L1941.3,1477.4 L1941.9,1477.3 L1942.4,1477.1 L1943.0,1477.0 L1943.5,1477.0 L1944.1,1477.3 L1944.6,1477.3 L1945.2,1477.2 L1945.7,1477.4 L1946.3,1477.3 L1946.8,1477.6 L1947.4,1477.8 L1947.9,1477.5 L1948.5,1477.2 L1949.0,1477.1 L1949.6,1477.6 L1950.1,1477.4 L1950.7,1477.1 L1951.2,1477.3 L1951.8,1476.9 L1952.3,1477.0 L1952.9,1477.0 L1953.4,1477.0 L1954.0,1476.9 L1954.5,1477.4 L1955.1,1477.1 L1955.6,1477.1 L1956.2,1477.0 L1956.7,1476.7 L1957.3,1476.9 L1957.8,1477.1 L1958.4,1477.2 L1958.9,1477.1 L1959.5,1477.1 L1960.0,1477.1 L1960.6,1477.1 L1961.1,1476.7 L1961.7,1477.1 L1962.2,1477.0 L1962.8,1476.9 L1963.3,1476.6 L1963.9,1476.9 L1964.4,1477.4 L1965.0,1477.7 L1965.5,1477.2 L1966.1,1477.2 L1966.6,1477.4 L1967.2,1477.4 L1967.7,1477.3 L1968.3,1477.3 L1968.8,1477.3 L1969.4,1477.5 L1969.9,1477.6 L1970.5,1477.7 L1971.0,1477.6 L1971.6,1477.5 L1972.1,1477.4 L1972.7,1477.4 L1973.2,1477.3 L1973.8,1477.7 L1974.3,1477.6 L1974.9,1477.6 L1975.4,1477.4 L1976.0,1477.6 L1976.5,1477.5 L1977.1,1477.4 L1977.6,1477.3 L1978.2,1477.3 L1978.7,1477.8 L1979.3,1477.7 L1979.8,1477.5 L1980.4,1477.4 L1980.9,1477.2 L1981.5,1476.9 L1982.0,1476.9 L1982.6,1477.1 L1983.1,1477.2 L1983.7,1477.1 L1984.2,1477.4 L1984.8,1477.4 L1985.3,1477.2 L1985.9,1476.9 L1986.4,1477.1 L1987.0,1477.1 L1987.5,1476.8 L1988.1,1476.8 L1988.6,1477.5 L1989.2,1477.4 L1989.7,1477.2 L1990.3,1477.6 L1990.8,1477.6 L1991.4,1477.4 L1991.9,1477.4 L1992.5,1477.6 L1993.0,1477.7 L1993.6,1477.5 L1994.1,1477.4 L1994.7,1477.4 L1995.2,1477.0 L1995.8,1477.3 L1996.3,1477.4 L1996.9,1477.5 L1997.4,1477.5 L1998.0,1477.5 L1998.5,1477.5 L1999.1,1477.5 L1999.6,1477.4 L2000.2,1477.5 L2000.7,1477.4 L2001.3,1477.4 L2001.8,1477.1 L2002.4,1477.3 L2002.9,1477.3 L2003.5,1477.0 L2004.0,1477.1 L2004.6,1477.4 L2005.1,1477.1 L2005.7,1476.8 L2006.2,1476.5 L2006.8,1477.0 L2007.3,1477.1 L2007.9,1477.2 L2008.4,1477.4 L2009.0,1477.1 L2009.5,1477.0 L2010.1,1476.9 L2010.6,1476.9 L2011.2,1477.0 L2011.7,1477.1 L2012.3,1477.0 L2012.8,1476.8 L2013.4,1476.8 L2013.9,1477.0 L2014.5,1476.7 L2015.0,1476.9 L2015.6,1477.1 L2016.1,1476.9 L2016.7,1476.7 L2017.2,1476.7 L2017.8,1476.4 L2018.3,1476.1 L2018.9,1475.8 L2019.4,1475.7 L2020.0,1475.4 L2020.5,1474.9 L2021.1,1474.1 L2021.6,1473.4 L2022.2,1472.8 L2022.7,1472.1 L2023.3,1471.5 L2023.8,1471.2 L2024.4,1471.0 L2024.9,1471.1 L2025.5,1471.3 L2026.0,1471.7 L2026.6,1472.5 L2027.1,1472.9 L2027.7,1473.1 L2028.2,1473.2 L2028.8,1473.3 L2029.3,1472.9 L2029.9,1472.9 L2030.4,1473.1 L2031.0,1473.7 L2031.5,1474.2 L2032.1,1474.5 L2032.6,1474.8 L2033.2,1475.0 L2033.7,1475.6 L2034.3,1475.8 L2034.8,1476.0 L2035.4,1476.2 L2035.9,1476.2 L2036.5,1476.3 L2037.0,1476.4 L2037.6,1476.4 L2038.1,1476.6 L2038.7,1476.7 L2039.2,1476.8 L2039.8,1476.6 L2040.3,1477.0 L2040.9,1476.9 L2041.4,1476.9 L2042.0,1476.8 L2042.5,1476.7 L2043.1,1476.8 L2043.6,1477.1 L2044.2,1477.1 L2044.7,1477.2 L2045.3,1477.2 L2045.8,1477.0 L2046.4,1477.0 L2046.9,1477.0 L2047.5,1477.2 L2048.0,1477.1 L2048.6,1477.1 L2049.1,1477.2 L2049.7,1477.2 L2050.2,1477.4 L2050.8,1477.1 L2051.3,1477.3 L2051.9,1477.4 L2052.4,1477.0 L2053.0,1477.2 L2053.5,1477.2 L2054.1,1477.2 L2054.6,1476.9 L2055.2,1477.0 L2055.7,1476.9 L2056.3,1477.0 L2056.8,1477.3 L2057.4,1477.0 L2057.9,1476.6 L2058.5,1476.7 L2059.0,1476.9 L2059.6,1477.3 L2060.1,1477.1 L2060.7,1477.0 L2061.2,1477.5 L2061.8,1477.5 L2062.3,1477.4 L2062.9,1477.3 L2063.4,1477.6 L2064.0,1477.4 L2064.5,1477.0 L2065.1,1477.1 L2065.6,1477.2 L2066.2,1477.4 L2066.7,1477.5 L2067.3,1477.2 L2067.8,1477.3 L2068.4,1477.7 L2068.9,1477.4 L2069.5,1477.2 L2070.0,1477.2 L2070.6,1477.1 L2071.1,1477.4 L2071.7,1477.5 L2072.2,1477.3 L2072.8,1477.4 L2073.3,1477.3 L2073.9,1477.3 L2074.4,1477.1 L2075.0,1477.0 L2075.5,1477.0 L2076.1,1477.3 L2076.6,1477.3 L2077.2,1477.3 L2077.7,1477.1 L2078.3,1477.2 L2078.8,1477.3 L2079.4,1477.6 L2079.9,1477.6 L2080.5,1477.4 L2081.0,1477.6 L2081.6,1477.8 L2082.1,1477.7 L2082.7,1477.9 L2083.2,1477.7 L2083.8,1477.7 L2084.3,1477.4 L2084.9,1477.5 L2085.4,1477.2 L2086.0,1477.3 L2086.5,1477.2 L2087.1,1476.9 L2087.6,1477.0 L2088.2,1477.4 L2088.7,1477.4 L2089.3,1477.5 L2089.8,1477.1 L2090.4,1476.6 L2090.9,1477.0 L2091.5,1477.0 L2092.0,1476.9 L2092.6,1476.9 L2093.1,1476.9 L2093.7,1476.9 L2094.2,1477.3 L2094.8,1477.3 L2095.3,1477.1 L2095.9,1477.1 L2096.4,1477.4 L2097.0,1477.4 L2097.5,1477.3 L2098.1,1477.1 L2098.6,1477.1 L2099.2,1477.0 L2099.7,1477.0 L2100.3,1477.4 L2100.8,1477.3 L2101.4,1477.2 L2101.9,1477.2 L2102.5,1477.5 L2103.0,1477.8 L2103.6,1477.6 L2104.1,1477.4 L2104.7,1477.1 L2105.2,1477.2 L2105.8,1477.4 L2106.3,1477.5 L2106.9,1477.2 L2107.4,1477.0 L2108.0,1477.1 L2108.5,1477.1 L2109.1,1477.4"/>
<path class="c" stroke="#808000" d="M179.1,1108.7 L179.7,1109.5 L180.2,1107.0 L180.8,1104.9 L181.3,1106.3 L181.9,1106.3 L182.4,1112.4 L183.0,1117.8 L183.5,1111.9 L184.1,1111.2 L184.6,1116.3 L185.2,1117.1 L185.7,1115.2 L186.3,1111.7 L186.8,1115.5 L187.4,1117.6 L187.9,1110.7 L188.5,1110.9 L189.0,1106.5 L189.6,1107.1 L190.1,1107.2 L190.7,1112.5 L191.2,1111.5 L191.8,1117.0 L192.3,1117.9 L192.9,1113.8 L193.4,1105.5 L194.0,1112.0 L194.5,1116.3 L195.1,1115.7 L195.6,1109.9 L196.2,1112.1 L196.7,1111.1 L197.3,1113.3 L197.8,1119.5 L198.4,1114.3 L198.9,1116.7 L199.5,1120.1 L200.0,1115.4 L200.6,1116.3 L201.1,1118.0 L201.7,1116.9 L202.2,1112.9 L202.8,1118.8 L203.3,1122.8 L203.9,1114.7 L204.4,1121.5 L205.0,1120.5 L205.5,1119.8 L206.1,1129.5 L206.6,1125.5 L207.2,1117.7 L207.7,1122.1 L208.3,1125.4 L208.8,1124.1 L209.4,1126.6 L209.9,1125.6 L210.5,1129.1 L211.0,1131.3 L211.6,1124.3 L212.1,1125.2 L212.7,1124.0 L213.2,1124.4 L213.8,1120.0 L214.3,1121.4 L214.9,1124.6 L215.4,1129.6 L216.0,1128.9 L216.5,1118.8 L217.1,1119.7 L217.6,1123.5 L218.2,1115.4 L218.7,1119.7 L219.3,1124.6 L219.8,1130.5 L220.4,1128.9 L220.9,1124.3 L221.5,1123.7 L222.0,1126.5 L222.6,1132.5 L223.1,1126.5 L223.7,1125.8 L224.2,1128.3 L224.8,1126.8 L225.3,1124.7 L225.9,1121.5 L226.4,1124.3 L227.0,1124.8 L227.5,1130.0 L228.1,1128.0 L228.6,1124.5 L229.2,1124.9 L229.7,1122.0 L230.3,1125.0 L230.8,1121.9 L231.4,1120.7 L231.9,1114.6 L232.5,1117.0 L233.0,1109.4 L233.6,1107.3 L234.1,1113.6 L234.7,1113.9 L235.2,1120.0 L235.8,1126.9 L236.3,1116.3 L236.9,1115.0 L237.4,1119.5 L238.0,1121.4 L238.5,1119.5 L239.1,1120.4 L239.6,1124.8 L240.2,1124.1 L240.7,1119.0 L241.3,1122.2 L241.8,1123.0 L242.4,1120.3 L242.9,1123.7 L243.5,1122.4 L244.0,1128.2 L244.6,1126.7 L245.1,1124.6 L245.7,1122.1 L246.2,1121.4 L246.8,1114.9 L247.3,1118.4 L247.9,1123.3 L248.4,1117.6 L249.0,1125.1 L249.5,1120.1 L250.1,1126.4 L250.6,1124.0 L251.2,1128.4 L251.7,1125.4 L252.3,1120.2 L252.8,1130.2 L253.4,1132.0 L253.9,1125.2 L254.5,1122.6 L255.0,1121.8 L255.6,1120.7 L256.1,1127.0 L256.7,1123.0 L257.2,1123.0 L257.8,1120.9 L258.3,1120.6 L258.9,1121.2 L259.4,1130.4 L260.0,1128.7 L260.5,1131.3 L261.1,1128.0 L261.6,1124.6 L262.2,1125.4 L262.7,1125.5 L263.3,1127.4 L263.8,1126.6 L264.4,1125.4 L264.9,1121.6 L265.5,1125.5 L266.0,1134.2 L266.6,1126.3 L267.1,1123.5 L267.7,1129.8 L268.2,1132.4 L268.8,1122.0 L269.3,1123.2 L269.9,1120.9 L270.4,1117.7 L271.0,1125.9 L271.5,1125.0 L272.1,1123.5 L272.6,1121.3 L273.2,1124.5 L273.7,1121.9 L274.3,1121.6 L274.8,1117.8 L275.4,1119.0 L275.9,1127.8 L276.5,1123.5 L277.0,1124.6 L277.6,1123.7 L278.1,1121.6 L278.7,1122.1 L279.2,1126.1 L279.8,1123.5 L280.3,1123.5 L280.9,1125.7 L281.4,1130.4 L282.0,1129.4 L282.5,1126.8 L283.1,1121.8 L283.6,1120.2 L284.2,1129.8 L284.7,1131.8 L285.3,1128.4 L285.8,1131.0 L286.4,1133.5 L286.9,1134.6 L287.5,1134.1 L288.0,1130.9 L288.6,1135.3 L289.1,1128.2 L289.7,1134.1 L290.2,1135.3 L290.8,1137.6 L291.3,1141.7 L291.9,1138.0 L292.4,1125.2 L293.0,1122.1 L293.5,1129.5 L294.1,1124.5 L294.6,1126.9 L295.2,1128.1 L295.7,1117.0 L296.3,1114.1 L296.8,1122.9 L297.4,1123.7 L297.9,1122.0 L298.5,1121.6 L299.0,1117.0 L299.6,1114.4 L300.1,1118.4 L300.7,1115.5 L301.2,1113.8 L301.8,1121.6 L302.3,1121.9 L302.9,1121.8 L303.4,1116.7 L304.0,1116.4 L304.5,1115.5 L305.1,1117.0 L305.6,1121.0 L306.2,1119.4 L306.7,1123.4 L307.3,1126.5 L307.8,1130.1 L308.4,1119.7 L308.9,1124.8 L309.5,1123.0 L310.0,1120.6 L310.6,1115.4 L311.1,1119.1 L311.7,1124.3 L312.2,1122.0 L312.8,1121.3 L313.3,1121.4 L313.9,1126.0 L314.4,1120.4 L315.0,1111.7 L315.5,1114.8 L316.1,1110.0 L316.6,1106.4 L317.2,1119.0 L317.7,1128.9 L318.3,1124.2 L318.8,1118.0 L319.4,1119.9 L319.9,1127.9 L320.5,1125.7 L321.0,1124.0 L321.6,1123.4 L322.1,1124.4 L322.7,1127.4 L323.2,1126.7 L323.8,1123.5 L324.3,1119.4 L324.9,1123.3 L325.4,1121.6 L326.0,1125.4 L326.5,1118.3 L327.1,1120.7 L327.6,1121.0 L328.2,1118.7 L328.7,1130.1 L329.3,1130.2 L329.8,1123.0 L330.4,1125.9 L330.9,1122.5 L331.5,1112.6 L332.0,1121.7 L332.6,1124.0 L333.1,1123.5 L333.7,1120.1 L334.2,1122.9 L334.8,1126.1 L335.3,1131.6 L335.9,1129.4 L336.4,1129.0 L337.0,1133.1 L337.5,1126.1 L338.1,1123.1 L338.6,1120.8 L339.2,1133.1 L339.7,1134.0 L340.3,1132.8 L340.8,1131.0 L341.4,1128.3 L341.9,1127.6 L342.5,1125.6 L343.0,1125.5 L343.6,1128.1 L344.1,1133.4 L344.7,1130.1 L345.2,1125.6 L345.8,1122.4 L346.3,1123.7 L346.9,1131.7 L347.4,1128.5 L348.0,1124.7 L348.5,1121.3 L349.1,1118.5 L349.6,1123.1 L350.2,1126.9 L350.7,1122.9 L351.3,1122.6 L351.8,1123.5 L352.4,1123.6 L352.9,1118.7 L353.5,1122.6 L354.0,1123.7 L354.6,1129.1 L355.1,1125.7 L355.7,1130.6 L356.2,1133.3 L356.8,1126.7 L357.3,1123.8 L357.9,1122.3 L358.4,1116.7 L359.0,1110.8 L359.5,1109.4 L360.1,1113.1 L360.6,1117.2 L361.2,1121.0 L361.7,1122.4 L362.3,1125.2 L362.8,1120.7 L363.4,1120.9 L363.9,1127.6 L364.5,1122.3 L365.0,1128.2 L365.6,1130.4 L366.1,1125.5 L366.7,1127.0 L367.2,1131.3 L367.8,1123.7 L368.3,1119.6 L368.9,1118.2 L369.4,1125.7 L370.0,1133.4 L370.5,1131.2 L371.1,1123.0 L371.6,1121.9 L372.2,1124.4 L372.7,1127.6 L373.3,1126.7 L373.8,1128.1 L374.4,1128.3 L374.9,1126.3 L375.5,1127.2 L376.0,1128.6 L376.6,1128.5 L377.1,1132.5 L377.7,1137.9 L378.2,1133.4 L378.8,1128.0 L379.3,1122.1 L379.9,1126.6 L380.4,1119.3 L381.0,1121.4 L381.5,1131.4 L382.1,1132.2 L382.6,1126.7 L383.2,1120.5 L383.7,1124.2 L384.3,1125.7 L384.8,1132.6 L385.4,1138.7 L385.9,1130.5 L386.5,1123.4 L387.0,1121.7 L387.6,1125.8 L388.1,1125.3 L388.7,1122.2 L389.2,1125.1 L389.8,1123.4 L390.3,1131.5 L390.9,1133.6 L391.4,1131.9 L392.0,1126.1 L392.5,1127.8 L393.1,1125.6 L393.6,1123.6 L394.2,1122.2 L394.7,1117.8 L395.3,1118.3 L395.8,1126.4 L396.4,1124.7 L396.9,1126.0 L397.5,1126.7 L398.0,1116.6 L398.6,1118.6 L399.1,1123.9 L399.7,1124.9 L400.2,1123.3 L400.8,1127.7 L401.3,1124.3 L401.9,1117.9 L402.4,1119.8 L403.0,1127.5 L403.5,1125.8 L404.1,1119.3 L404.6,1130.2 L405.2,1131.6 L405.7,1132.3 L406.3,1125.8 L406.8,1123.3 L407.4,1123.6 L407.9,1135.2 L408.5,1129.1 L409.0,1131.0 L409.6,1123.9 L410.1,1122.9 L410.7,1117.2 L411.2,1122.2 L411.8,1127.1 L412.3,1121.7 L412.9,1128.8 L413.4,1126.9 L414.0,1121.1 L414.5,1122.4 L415.1,1123.9 L415.6,1125.5 L416.2,1123.8 L416.7,1122.9 L417.3,1124.3 L417.8,1121.6 L418.4,1121.2 L418.9,1127.3 L419.5,1130.1 L420.0,1122.4 L420.6,1125.5 L421.1,1123.8 L421.7,1123.3 L422.2,1128.9 L422.8,1126.6 L423.3,1130.8 L423.9,1123.8 L424.4,1125.1 L425.0,1122.6 L425.5,1120.8 L426.1,1124.9 L426.6,1123.9 L427.2,1125.8 L427.7,1123.0 L428.3,1119.3 L428.8,1123.1 L429.4,1126.3 L429.9,1128.9 L430.5,1123.2 L431.0,1123.5 L431.6,1120.0 L432.1,1126.7 L432.7,1121.1 L433.2,1118.1 L433.8,1126.1 L434.3,1130.1 L434.9,1120.6 L435.4,1120.1 L436.0,1121.8 L436.5,1122.2 L437.1,1127.0 L437.6,1123.7 L438.2,1124.1 L438.7,1128.3 L439.3,1125.0 L439.8,1127.0 L440.4,1121.7 L440.9,1118.2 L441.5,1118.8 L442.0,1130.9 L442.6,1125.4 L443.1,1124.3 L443.7,1122.7 L444.2,1121.5 L444.8,1120.8 L445.3,1120.9 L445.9,1114.9 L446.4,1113.4 L447.0,1113.5 L447.5,1113.8 L448.1,1116.5 L448.6,1118.3 L449.2,1115.5 L449.7,1114.1 L450.3,1119.2 L450.8,1123.6 L451.4,1112.5 L451.9,1120.6 L452.5,1119.8 L453.0,1125.0 L453.6,1119.2 L454.1,1118.9 L454.7,1115.0 L455.2,1118.4 L455.8,1128.3 L456.3,1127.0 L456.9,1120.5 L457.4,1116.1 L458.0,1112.9 L458.5,1118.8 L459.1,1122.2 L459.6,1122.8 L460.2,1122.1 L460.7,1119.4 L461.3,1123.4 L461.8,1126.5 L462.4,1133.3 L462.9,1135.3 L463.5,1126.9 L464.0,1122.9 L464.6,1124.6 L465.1,1122.9 L465.7,1122.5 L466.2,1124.3 L466.8,1122.6 L467.3,1127.9 L467.9,1127.1 L468.4,1127.5 L469.0,1125.6 L469.5,1122.6 L470.1,1121.9 L470.6,1124.5 L471.2,1124.9 L471.7,1127.8 L472.3,1126.3 L472.8,1122.0 L473.4,1125.4 L473.9,1121.9 L474.5,1124.2 L475.0,1124.8 L475.6,1120.2 L476.1,1128.0 L476.7,1130.5 L477.2,1129.3 L477.8,1128.1 L478.3,1127.5 L478.9,1125.8 L479.4,1127.9 L480.0,1128.1 L480.5,1129.1 L481.1,1125.7 L481.6,1130.3 L482.2,1131.0 L482.7,1129.3 L483.3,1128.8 L483.8,1130.2 L484.4,1123.9 L484.9,1130.2 L485.5,1131.3 L486.0,1130.9 L486.6,1129.9 L487.1,1125.5 L487.7,1126.5 L488.2,1130.0 L488.8,1129.3 L489.3,1125.8 L489.9,1120.1 L490.4,1127.4 L491.0,1132.0 L491.5,1131.3 L492.1,1126.1 L492.6,1120.6 L493.2,1128.8 L493.7,1124.9 L494.3,1117.3 L494.8,1125.9 L495.4,1121.9 L495.9,1122.1 L496.5,1127.7 L497.0,1135.3 L497.6,1131.3 L498.1,1134.1 L498.7,1141.0 L499.2,1140.1 L499.8,1132.3 L500.3,1128.6 L500.9,1124.4 L501.4,1126.6 L502.0,1131.6 L502.5,1132.2 L503.1,1131.8 L503.6,1133.4 L504.2,1127.7 L504.7,1129.9 L505.3,1134.1 L505.8,1135.1 L506.4,1136.5 L506.9,1133.5 L507.5,1130.5 L508.0,1131.2 L508.6,1125.3 L509.1,1123.3 L509.7,1131.3 L510.2,1131.1 L510.8,1129.6 L511.3,1122.6 L511.9,1125.6 L512.4,1125.6 L513.0,1122.6 L513.5,1118.3 L514.1,1126.4 L514.6,1133.4 L515.2,1131.7 L515.7,1127.8 L516.3,1130.5 L516.8,1131.1 L517.4,1120.0 L517.9,1128.6 L518.5,1134.6 L519.0,1137.1 L519.6,1141.0 L520.1,1138.6 L520.7,1134.2 L521.2,1133.3 L521.8,1133.5 L522.3,1128.3 L522.9,1129.5 L523.4,1134.7 L524.0,1137.5 L524.5,1129.3 L525.1,1127.4 L525.6,1129.6 L526.2,1133.1 L526.7,1129.9 L527.3,1132.2 L527.8,1124.1 L528.4,1124.7 L528.9,1126.3 L529.5,1130.5 L530.0,1129.5 L530.6,1119.1 L531.1,1119.6 L531.7,1123.9 L532.2,1119.3 L532.8,1116.6 L533.3,1125.3 L533.9,1125.0 L534.4,1122.7 L535.0,1119.5 L535.5,1122.9 L536.1,1119.7 L536.6,1120.6 L537.2,1112.1 L537.7,1109.1 L538.3,1108.9 L538.8,1103.7 L539.4,1101.3 L539.9,1094.7 L540.5,1088.2 L541.0,1085.0 L541.6,1083.2 L542.1,1084.3 L542.7,1085.6 L543.2,1089.1 L543.8,1096.8 L544.3,1103.5 L544.9,1103.0 L545.4,1094.6 L546.0,1089.8 L546.5,1085.5 L547.1,1073.6 L547.6,1064.0 L548.2,1058.4 L548.7,1053.8 L549.3,1051.6 L549.8,1052.6 L550.4,1057.0 L550.9,1065.6 L551.5,1071.6 L552.0,1080.1 L552.6,1089.4 L553.1,1097.2 L553.7,1100.7 L554.2,1106.5 L554.8,1106.3 L555.3,1109.5 L555.9,1111.9 L556.4,1120.9 L557.0,1119.1 L557.5,1116.5 L558.1,1118.4 L558.6,1121.2 L559.2,1123.4 L559.7,1115.7 L560.3,1116.6 L560.8,1123.3 L561.4,1134.6 L561.9,1129.8 L562.5,1124.2 L563.0,1127.8 L563.6,1131.7 L564.1,1123.0 L564.7,1121.6 L565.2,1127.5 L565.8,1126.5 L566.3,1125.6 L566.9,1123.7 L567.4,1133.1 L568.0,1133.9 L568.5,1129.3 L569.1,1126.0 L569.6,1117.6 L570.2,1125.2 L570.7,1125.0 L571.3,1126.9 L571.8,1127.2 L572.4,1121.3 L572.9,1116.1 L573.5,1121.7 L574.0,1119.0 L574.6,1118.6 L575.1,1117.5 L575.7,1115.7 L576.2,1110.8 L576.8,1122.4 L577.3,1122.8 L577.9,1126.4 L578.4,1129.1 L579.0,1120.0 L579.5,1111.3 L580.1,1113.2 L580.6,1113.8 L581.2,1117.1 L581.7,1118.1 L582.3,1112.2 L582.8,1117.9 L583.4,1114.2 L583.9,1119.4 L584.5,1119.3 L585.0,1118.3 L585.6,1118.7 L586.1,1117.1 L586.7,1115.4 L587.2,1112.9 L587.8,1121.2 L588.3,1131.5 L588.9,1133.7 L589.4,1130.8 L590.0,1126.4 L590.5,1122.5 L591.1,1128.7 L591.6,1124.7 L592.2,1122.9 L592.7,1122.2 L593.3,1122.8 L593.8,1121.0 L594.4,1120.2 L594.9,1116.3 L595.5,1119.9 L596.0,1127.8 L596.6,1118.8 L597.1,1114.2 L597.7,1114.5 L598.2,1110.6 L598.8,1100.5 L599.3,1098.6 L599.9,1097.6 L600.4,1090.6 L601.0,1085.0 L601.5,1081.2 L602.1,1073.6 L602.6,1070.6 L603.2,1068.9 L603.7,1069.2 L604.3,1068.3 L604.8,1070.0 L605.4,1073.5 L605.9,1079.7 L606.5,1085.5 L607.0,1090.4 L607.6,1087.2 L608.1,1096.5 L608.7,1098.5 L609.2,1101.1 L609.8,1107.6 L610.3,1104.9 L610.9,1103.3 L611.4,1110.5 L612.0,1110.7 L612.5,1116.0 L613.1,1122.8 L613.6,1126.4 L614.2,1131.0 L614.7,1124.3 L615.3,1118.3 L615.8,1120.5 L616.4,1120.7 L616.9,1121.2 L617.5,1126.9 L618.0,1122.8 L618.6,1118.8 L619.1,1128.0 L619.7,1128.0 L620.2,1128.9 L620.8,1129.1 L621.3,1130.7 L621.9,1130.3 L622.4,1134.2 L623.0,1132.4 L623.5,1131.9 L624.1,1130.3 L624.6,1124.2 L625.2,1127.7 L625.7,1129.2 L626.3,1129.3 L626.8,1126.3 L627.4,1135.2 L627.9,1130.3 L628.5,1122.4 L629.0,1120.1 L629.6,1125.1 L630.1,1126.3 L630.7,1124.2 L631.2,1125.6 L631.8,1124.2 L632.3,1126.5 L632.9,1122.8 L633.4,1125.0 L634.0,1131.0 L634.5,1134.5 L635.1,1122.3 L635.6,1120.5 L636.2,1121.3 L636.7,1125.6 L637.3,1120.5 L637.8,1122.1 L638.4,1124.1 L638.9,1121.5 L639.5,1121.7 L640.0,1122.7 L640.6,1118.2 L641.1,1120.8 L641.7,1126.6 L642.2,1129.9 L642.8,1128.1 L643.3,1123.3 L643.9,1128.2 L644.4,1134.2 L645.0,1133.9 L645.5,1130.4 L646.1,1128.1 L646.6,1131.6 L647.2,1127.6 L647.7,1124.2 L648.3,1126.6 L648.8,1133.6 L649.4,1131.4 L649.9,1131.7 L650.5,1127.3 L651.0,1129.2 L651.6,1124.9 L652.1,1127.4 L652.7,1135.8 L653.2,1131.1 L653.8,1125.7 L654.3,1127.1 L654.9,1130.4 L655.4,1133.2 L656.0,1127.6 L656.5,1123.6 L657.1,1128.6 L657.6,1131.5 L658.2,1133.4 L658.7,1137.1 L659.3,1135.1 L659.8,1134.2 L660.4,1129.5 L660.9,1135.4 L661.5,1139.9 L662.0,1135.5 L662.6,1132.1 L663.1,1132.4 L663.7,1135.2 L664.2,1127.7 L664.8,1128.4 L665.3,1131.0 L665.9,1131.3 L666.4,1128.1 L667.0,1129.0 L667.5,1128.0 L668.1,1128.6 L668.6,1127.2 L669.2,1124.7 L669.7,1128.4 L670.3,1130.9 L670.8,1126.3 L671.4,1128.1 L671.9,1130.3 L672.5,1126.6 L673.0,1128.3 L673.6,1127.0 L674.1,1133.9 L674.7,1139.1 L675.2,1137.1 L675.8,1130.4 L676.3,1130.9 L676.9,1129.6 L677.4,1130.1 L678.0,1132.3 L678.5,1126.5 L679.1,1131.0 L679.6,1130.8 L680.2,1133.8 L680.7,1130.9 L681.3,1128.6 L681.8,1131.6 L682.4,1133.6 L682.9,1132.6 L683.5,1133.1 L684.0,1129.6 L684.6,1126.7 L685.1,1134.7 L685.7,1136.3 L686.2,1134.7 L686.8,1135.0 L687.3,1136.8 L687.9,1133.0 L688.4,1131.7 L689.0,1134.0 L689.5,1136.5 L690.1,1131.9 L690.6,1136.1 L691.2,1132.4 L691.7,1131.4 L692.3,1136.7 L692.8,1133.6 L693.4,1129.8 L693.9,1132.2 L694.5,1136.4 L695.0,1136.5 L695.6,1132.3 L696.1,1133.2 L696.7,1133.1 L697.2,1129.7 L697.8,1130.8 L698.3,1129.6 L698.9,1127.7 L699.4,1127.6 L700.0,1129.0 L700.5,1128.9 L701.1,1127.5 L701.6,1128.7 L702.2,1132.5 L702.7,1131.8 L703.3,1133.5 L703.8,1134.5 L704.4,1134.3 L704.9,1136.3 L705.5,1130.2 L706.0,1131.6 L706.6,1130.9 L707.1,1135.6 L707.7,1133.9 L708.2,1124.5 L708.8,1125.5 L709.3,1130.5 L709.9,1131.7 L710.4,1131.1 L711.0,1129.4 L711.5,1130.5 L712.1,1131.1 L712.6,1130.3 L713.2,1130.7 L713.7,1124.9 L714.3,1129.4 L714.8,1128.3 L715.4,1131.7 L715.9,1129.4 L716.5,1127.7 L717.0,1129.7 L717.6,1127.2 L718.1,1126.0 L718.7,1125.5 L719.2,1129.7 L719.8,1132.7 L720.3,1133.9 L720.9,1132.2 L721.4,1134.2 L722.0,1132.3 L722.5,1131.9 L723.1,1133.9 L723.6,1134.6 L724.2,1131.3 L724.7,1130.6 L725.3,1131.0 L725.8,1131.0 L726.4,1129.9 L726.9,1133.4 L727.5,1131.6 L728.0,1132.3 L728.6,1130.4 L729.1,1132.8 L729.7,1133.2 L730.2,1132.8 L730.8,1137.6 L731.3,1135.7 L731.9,1137.7 L732.4,1135.3 L733.0,1130.6 L733.5,1130.7 L734.1,1132.6 L734.6,1132.1 L735.2,1131.5 L735.7,1129.5 L736.3,1126.3 L736.8,1128.1 L737.4,1125.6 L737.9,1130.4 L738.5,1129.3 L739.0,1129.1 L739.6,1130.7 L740.1,1131.2 L740.7,1126.6 L741.2,1124.9 L741.8,1125.4 L742.3,1123.6 L742.9,1127.0 L743.4,1132.2 L744.0,1127.6 L744.5,1128.7 L745.1,1125.3 L745.6,1127.8 L746.2,1127.4 L746.7,1128.3 L747.3,1131.1 L747.8,1133.9 L748.4,1130.9 L748.9,1129.3 L749.5,1127.7 L750.0,1130.8 L750.6,1130.5 L751.1,1132.3 L751.7,1132.0 L752.2,1133.8 L752.8,1126.5 L753.3,1129.3 L753.9,1132.9 L754.4,1130.4 L755.0,1129.1 L755.5,1129.9 L756.1,1128.7 L756.6,1133.7 L757.2,1140.1 L757.7,1137.1 L758.3,1130.6 L758.8,1130.0 L759.4,1132.0 L759.9,1134.4 L760.5,1130.1 L761.0,1129.5 L761.6,1132.9 L762.1,1132.2 L762.7,1127.6 L763.2,1123.8 L763.8,1121.9 L764.3,1122.1 L764.9,1120.0 L765.4,1125.0 L766.0,1123.5 L766.5,1125.6 L767.1,1128.7 L767.6,1125.5 L768.2,1119.5 L768.7,1122.1 L769.3,1121.5 L769.8,1115.1 L770.4,1111.4 L770.9,1108.9 L771.5,1103.6 L772.0,1103.3 L772.6,1092.3 L773.1,1088.8 L773.7,1085.3 L774.2,1076.6 L774.8,1059.6 L775.3,1033.0 L775.9,1015.0 L776.4,1001.0 L777.0,985.2 L777.5,974.6 L778.1,963.0 L778.6,956.8 L779.2,958.5 L779.7,963.2 L780.3,969.5 L780.8,976.5 L781.4,982.8 L781.9,991.5 L782.5,1013.6 L783.0,1028.2 L783.6,1032.2 L784.1,1040.0 L784.7,1048.1 L785.2,1048.6 L785.8,1049.5 L786.3,1050.6 L786.9,1051.2 L787.4,1051.0 L788.0,1048.2 L788.5,1045.4 L789.1,1038.7 L789.6,1030.0 L790.2,1019.2 L790.7,1013.0 L791.3,1007.5 L791.8,1003.9 L792.4,1003.1 L792.9,1004.8 L793.5,1008.3 L794.0,1012.5 L794.6,1016.2 L795.1,1020.7 L795.7,1026.3 L796.2,1032.8 L796.8,1036.2 L797.3,1044.7 L797.9,1048.5 L798.4,1052.3 L799.0,1059.0 L799.5,1066.2 L800.1,1074.1 L800.6,1079.8 L801.2,1088.2 L801.7,1089.6 L802.3,1090.9 L802.8,1097.5 L803.4,1101.0 L803.9,1109.6 L804.5,1117.2 L805.0,1119.9 L805.6,1119.2 L806.1,1124.6 L806.7,1133.1 L807.2,1132.6 L807.8,1132.7 L808.3,1137.1 L808.9,1141.3 L809.4,1139.2 L810.0,1136.1 L810.5,1136.3 L811.1,1136.5 L811.6,1133.3 L812.2,1132.1 L812.7,1133.9 L813.3,1132.7 L813.8,1134.3 L814.4,1136.6 L814.9,1140.1 L815.5,1132.3 L816.0,1128.5 L816.6,1125.1 L817.1,1123.5 L817.7,1122.8 L818.2,1118.9 L818.8,1116.7 L819.3,1115.5 L819.9,1117.1 L820.4,1118.8 L821.0,1118.3 L821.5,1117.7 L822.1,1118.0 L822.6,1118.3 L823.2,1118.8 L823.7,1118.1 L824.3,1117.6 L824.8,1115.1 L825.4,1116.9 L825.9,1121.3 L826.5,1115.3 L827.0,1117.7 L827.6,1120.0 L828.1,1119.2 L828.7,1119.0 L829.2,1121.5 L829.8,1122.9 L830.3,1123.1 L830.9,1121.7 L831.4,1125.9 L832.0,1125.7 L832.5,1125.5 L833.1,1125.9 L833.6,1125.0 L834.2,1122.0 L834.7,1116.5 L835.3,1115.6 L835.8,1111.7 L836.4,1106.3 L836.9,1101.2 L837.5,1093.9 L838.0,1089.7 L838.6,1086.6 L839.1,1078.6 L839.7,1074.0 L840.2,1067.3 L840.8,1063.6 L841.3,1060.2 L841.9,1060.9 L842.4,1063.0 L843.0,1064.7 L843.5,1064.0 L844.1,1060.6 L844.6,1058.1 L845.2,1055.7 L845.7,1055.6 L846.3,1053.0 L846.8,1051.7 L847.4,1048.8 L847.9,1040.4 L848.5,1030.3 L849.0,1020.0 L849.6,1010.0 L850.1,999.2 L850.7,992.5 L851.2,993.8 L851.8,999.1 L852.3,1007.9 L852.9,1015.7 L853.4,1019.0 L854.0,1023.0 L854.5,1029.7 L855.1,1042.0 L855.6,1056.7 L856.2,1065.3 L856.7,1070.8 L857.3,1074.6 L857.8,1077.4 L858.4,1077.0 L858.9,1074.5 L859.5,1078.0 L860.0,1080.9 L860.6,1082.1 L861.1,1085.5 L861.7,1084.9 L862.2,1086.3 L862.8,1093.1 L863.3,1095.9 L863.9,1099.2 L864.4,1105.0 L865.0,1109.7 L865.5,1111.0 L866.1,1108.9 L866.6,1113.7 L867.2,1116.5 L867.7,1117.3 L868.3,1121.4 L868.8,1124.5 L869.4,1121.9 L869.9,1122.7 L870.5,1130.4 L871.0,1128.3 L871.6,1128.3 L872.1,1133.7 L872.7,1136.0 L873.2,1135.0 L873.8,1137.2 L874.3,1134.7 L874.9,1133.6 L875.4,1136.5 L876.0,1137.8 L876.5,1135.5 L877.1,1136.8 L877.6,1138.2 L878.2,1142.9 L878.7,1137.3 L879.3,1139.2 L879.8,1136.6 L880.4,1135.5 L880.9,1136.9 L881.5,1137.2 L882.0,1136.7 L882.6,1133.1 L883.1,1129.4 L883.7,1128.7 L884.2,1130.4 L884.8,1131.0 L885.3,1131.8 L885.9,1129.9 L886.4,1130.5 L887.0,1130.6 L887.5,1126.1 L888.1,1120.9 L888.6,1119.6 L889.2,1120.0 L889.7,1124.2 L890.3,1120.3 L890.8,1122.0 L891.4,1120.8 L891.9,1120.8 L892.5,1116.9 L893.0,1110.9 L893.6,1103.1 L894.1,1094.2 L894.7,1084.5 L895.2,1072.7 L895.8,1063.2 L896.3,1054.1 L896.9,1035.3 L897.4,1014.4 L898.0,991.3 L898.5,970.8 L899.1,949.7 L899.6,926.6 L900.2,904.6 L900.7,887.3 L901.3,877.0 L901.8,868.5 L902.4,865.2 L902.9,868.4 L903.5,874.5 L904.0,884.6 L904.6,901.6 L905.1,924.1 L905.7,946.1 L906.2,967.4 L906.8,983.0 L907.3,1001.7 L907.9,1020.3 L908.4,1036.2 L909.0,1048.5 L909.5,1058.3 L910.1,1073.3 L910.6,1086.4 L911.2,1091.7 L911.7,1098.7 L912.3,1103.4 L912.8,1107.2 L913.4,1115.4 L913.9,1115.6 L914.5,1120.4 L915.0,1125.5 L915.6,1129.1 L916.1,1129.6 L916.7,1129.3 L917.2,1126.8 L917.8,1125.9 L918.3,1128.4 L918.9,1127.0 L919.4,1125.3 L920.0,1125.7 L920.5,1127.1 L921.1,1125.2 L921.6,1126.2 L922.2,1127.9 L922.7,1133.2 L923.3,1136.8 L923.8,1139.7 L924.4,1133.7 L924.9,1135.2 L925.5,1139.3 L926.0,1137.7 L926.6,1138.0 L927.1,1141.5 L927.7,1137.3 L928.2,1134.1 L928.8,1134.2 L929.3,1138.0 L929.9,1137.9 L930.4,1134.3 L931.0,1135.1 L931.5,1139.0 L932.1,1139.4 L932.6,1137.3 L933.2,1139.6 L933.7,1138.8 L934.3,1134.0 L934.8,1136.4 L935.4,1138.1 L935.9,1135.0 L936.5,1131.5 L937.0,1135.0 L937.6,1138.5 L938.1,1138.2 L938.7,1131.9 L939.2,1138.0 L939.8,1132.4 L940.3,1134.4 L940.9,1134.8 L941.4,1131.7 L942.0,1126.3 L942.5,1121.2 L943.1,1121.0 L943.6,1115.1 L944.2,1110.3 L944.7,1114.1 L945.3,1109.9 L945.8,1106.5 L946.4,1102.5 L946.9,1101.5 L947.5,1101.5 L948.0,1103.5 L948.6,1105.7 L949.1,1107.5 L949.7,1112.1 L950.2,1114.0 L950.8,1118.2 L951.3,1124.0 L951.9,1125.3 L952.4,1128.3 L953.0,1131.4 L953.5,1136.4 L954.1,1135.8 L954.6,1133.3 L955.2,1134.6 L955.7,1131.1 L956.3,1131.9 L956.8,1133.9 L957.4,1130.4 L957.9,1130.9 L958.5,1129.9 L959.0,1133.6 L959.6,1136.6 L960.1,1132.5 L960.7,1132.7 L961.2,1130.3 L961.8,1128.9 L962.3,1129.9 L962.9,1136.3 L963.4,1138.6 L964.0,1133.8 L964.5,1130.5 L965.1,1132.1 L965.6,1130.9 L966.2,1132.4 L966.7,1131.7 L967.3,1131.4 L967.8,1131.3 L968.4,1128.8 L968.9,1127.7 L969.5,1125.4 L970.0,1127.0 L970.6,1126.2 L971.1,1128.1 L971.7,1127.5 L972.2,1129.6 L972.8,1129.9 L973.3,1126.1 L973.9,1126.4 L974.4,1127.5 L975.0,1131.9 L975.5,1134.7 L976.1,1132.8 L976.6,1130.7 L977.2,1132.6 L977.7,1128.5 L978.3,1132.3 L978.8,1127.6 L979.4,1124.3 L979.9,1133.7 L980.5,1132.0 L981.0,1126.3 L981.6,1126.5 L982.1,1125.8 L982.7,1125.0 L983.2,1123.9 L983.8,1124.2 L984.3,1124.6 L984.9,1125.2 L985.4,1126.6 L986.0,1127.6 L986.5,1130.7 L987.1,1128.0 L987.6,1128.1 L988.2,1124.9 L988.7,1127.0 L989.3,1132.2 L989.8,1129.7 L990.4,1131.6 L990.9,1130.8 L991.5,1128.8 L992.0,1129.9 L992.6,1130.1 L993.1,1130.9 L993.7,1133.9 L994.2,1133.8 L994.8,1131.0 L995.3,1130.4 L995.9,1132.9 L996.4,1133.5 L997.0,1136.8 L997.5,1140.2 L998.1,1136.5 L998.6,1133.4 L999.2,1132.2 L999.7,1130.4 L1000.3,1129.7 L1000.8,1129.6 L1001.4,1130.7 L1001.9,1131.4 L1002.5,1133.1 L1003.0,1131.0 L1003.6,1130.0 L1004.1,1129.2 L1004.7,1134.2 L1005.2,1133.7 L1005.8,1135.3 L1006.3,1134.0 L1006.9,1134.0 L1007.4,1131.0 L1008.0,1133.4 L1008.5,1136.4 L1009.1,1130.1 L1009.6,1133.8 L1010.2,1135.8 L1010.7,1133.7 L1011.3,1134.4 L1011.8,1134.9 L1012.4,1131.8 L1012.9,1132.8 L1013.5,1130.9 L1014.0,1131.0 L1014.6,1131.9 L1015.1,1133.5 L1015.7,1134.9 L1016.2,1135.0 L1016.8,1133.0 L1017.3,1139.4 L1017.9,1139.3 L1018.4,1137.3 L1019.0,1134.8 L1019.5,1135.2 L1020.1,1136.7 L1020.6,1135.6 L1021.2,1132.2 L1021.7,1137.8 L1022.3,1141.4 L1022.8,1133.3 L1023.4,1136.7 L1023.9,1136.5 L1024.5,1135.7 L1025.0,1137.2 L1025.6,1132.7 L1026.1,1134.8 L1026.7,1137.3 L1027.2,1133.8 L1027.8,1132.4 L1028.3,1132.9 L1028.9,1132.8 L1029.4,1135.5 L1030.0,1131.8 L1030.5,1133.1 L1031.1,1130.2 L1031.6,1132.9 L1032.2,1130.7 L1032.7,1125.9 L1033.3,1129.8 L1033.8,1129.2 L1034.4,1131.2 L1034.9,1134.7 L1035.5,1129.9 L1036.0,1130.1 L1036.6,1135.4 L1037.1,1134.9 L1037.7,1137.0 L1038.2,1134.6 L1038.8,1131.8 L1039.3,1133.9 L1039.9,1137.3 L1040.4,1136.9 L1041.0,1134.5 L1041.5,1133.9 L1042.1,1133.0 L1042.6,1133.0 L1043.2,1137.0 L1043.7,1133.0 L1044.3,1129.3 L1044.8,1130.4 L1045.4,1133.1 L1045.9,1132.8 L1046.5,1130.4 L1047.0,1128.9 L1047.6,1129.0 L1048.1,1125.6 L1048.7,1126.6 L1049.2,1130.8 L1049.8,1129.6 L1050.3,1131.4 L1050.9,1133.5 L1051.4,1132.5 L1052.0,1132.0 L1052.5,1135.7 L1053.1,1133.1 L1053.6,1130.7 L1054.2,1132.5 L1054.7,1131.6 L1055.3,1129.0 L1055.8,1130.1 L1056.4,1128.8 L1056.9,1125.3 L1057.5,1127.8 L1058.0,1128.0 L1058.6,1126.3 L1059.1,1123.5 L1059.7,1125.2 L1060.2,1125.9 L1060.8,1124.9 L1061.3,1122.5 L1061.9,1123.9 L1062.4,1120.7 L1063.0,1121.9 L1063.5,1123.7 L1064.1,1120.4 L1064.6,1120.4 L1065.2,1121.7 L1065.7,1120.9 L1066.3,1120.9 L1066.8,1121.3 L1067.4,1121.4 L1067.9,1119.7 L1068.5,1119.6 L1069.0,1119.6 L1069.6,1119.5 L1070.1,1120.1 L1070.7,1121.2 L1071.2,1123.5 L1071.8,1122.5 L1072.3,1124.5 L1072.9,1125.3 L1073.4,1123.5 L1074.0,1125.7 L1074.5,1128.8 L1075.1,1126.2 L1075.6,1123.7 L1076.2,1124.1 L1076.7,1123.4 L1077.3,1126.2 L1077.8,1127.7 L1078.4,1125.1 L1078.9,1126.9 L1079.5,1130.0 L1080.0,1128.3 L1080.6,1129.0 L1081.1,1127.5 L1081.7,1128.2 L1082.2,1131.2 L1082.8,1136.5 L1083.3,1132.8 L1083.9,1131.6 L1084.4,1131.9 L1085.0,1133.4 L1085.5,1135.2 L1086.1,1135.5 L1086.6,1138.2 L1087.2,1135.6 L1087.7,1136.3 L1088.3,1134.4 L1088.8,1133.2 L1089.4,1129.5 L1089.9,1131.4 L1090.5,1132.3 L1091.0,1131.2 L1091.6,1128.9 L1092.1,1134.2 L1092.7,1133.4 L1093.2,1133.0 L1093.8,1133.5 L1094.3,1134.1 L1094.9,1134.5 L1095.4,1131.2 L1096.0,1131.5 L1096.5,1133.9 L1097.1,1133.7 L1097.6,1132.1 L1098.2,1131.1 L1098.7,1130.7 L1099.3,1132.8 L1099.8,1134.7 L1100.4,1131.9 L1100.9,1135.9 L1101.5,1135.2 L1102.0,1132.6 L1102.6,1133.3 L1103.1,1128.8 L1103.7,1127.2 L1104.2,1128.5 L1104.8,1130.7 L1105.3,1131.3 L1105.9,1131.3 L1106.4,1131.5 L1107.0,1128.6 L1107.5,1132.2 L1108.1,1130.1 L1108.6,1131.0 L1109.2,1131.6 L1109.7,1130.1 L1110.3,1129.5 L1110.8,1130.8 L1111.4,1133.5 L1111.9,1135.3 L1112.5,1134.7 L1113.0,1131.4 L1113.6,1130.9 L1114.1,1131.5 L1114.7,1133.0 L1115.2,1130.2 L1115.8,1135.1 L1116.3,1133.1 L1116.9,1132.2 L1117.4,1135.0 L1118.0,1136.9 L1118.5,1136.3 L1119.1,1137.1 L1119.6,1136.1 L1120.2,1138.0 L1120.7,1137.8 L1121.3,1135.5 L1121.8,1137.1 L1122.4,1134.8 L1122.9,1133.0 L1123.5,1130.8 L1124.0,1131.7 L1124.6,1132.8 L1125.1,1129.6 L1125.7,1132.2 L1126.2,1132.3 L1126.8,1130.4 L1127.3,1125.9 L1127.9,1129.4 L1128.4,1131.3 L1129.0,1129.1 L1129.5,1128.9 L1130.1,1125.7 L1130.6,1130.3 L1131.2,1130.0 L1131.7,1131.3 L1132.3,1127.7 L1132.8,1131.3 L1133.4,1131.3 L1133.9,1132.1 L1134.5,1129.1 L1135.0,1130.3 L1135.6,1134.9 L1136.1,1129.7 L1136.7,1128.3 L1137.2,1128.6 L1137.8,1128.0 L1138.3,1131.9 L1138.9,1132.0 L1139.4,1126.0 L1140.0,1123.3 L1140.5,1126.0 L1141.1,1124.6 L1141.6,1122.2 L1142.2,1120.2 L1142.7,1118.5 L1143.3,1118.5 L1143.8,1118.9 L1144.4,1120.3 L1144.9,1124.2 L1145.5,1126.2 L1146.0,1131.7 L1146.6,1130.7 L1147.1,1130.3 L1147.7,1134.4 L1148.2,1137.3 L1148.8,1134.6 L1149.3,1131.5 L1149.9,1134.7 L1150.4,1136.9 L1151.0,1133.5 L1151.5,1133.0 L1152.1,1136.3 L1152.6,1134.8 L1153.2,1132.1 L1153.7,1132.8 L1154.3,1132.9 L1154.8,1134.8 L1155.4,1135.4 L1155.9,1137.2 L1156.5,1135.5 L1157.0,1131.4 L1157.6,1134.5 L1158.1,1136.4 L1158.7,1136.0 L1159.2,1136.2 L1159.8,1133.0 L1160.3,1132.4 L1160.9,1135.2 L1161.4,1131.5 L1162.0,1129.8 L1162.5,1135.1 L1163.1,1133.3 L1163.6,1132.5 L1164.2,1130.3 L1164.7,1129.8 L1165.3,1130.4 L1165.8,1132.3 L1166.4,1132.6 L1166.9,1128.6 L1167.5,1132.4 L1168.0,1129.7 L1168.6,1129.5 L1169.1,1132.6 L1169.7,1130.8 L1170.2,1128.8 L1170.8,1133.4 L1171.3,1129.8 L1171.9,1130.4 L1172.4,1131.3 L1173.0,1132.7 L1173.5,1130.0 L1174.1,1131.1 L1174.6,1129.2 L1175.2,1131.3 L1175.7,1128.5 L1176.3,1129.6 L1176.8,1133.8 L1177.4,1131.5 L1177.9,1131.2 L1178.5,1134.5 L1179.0,1130.9 L1179.6,1128.0 L1180.1,1129.4 L1180.7,1127.2 L1181.2,1131.0 L1181.8,1131.4 L1182.3,1127.6 L1182.9,1127.1 L1183.4,1128.9 L1184.0,1128.7 L1184.5,1127.7 L1185.1,1129.4 L1185.6,1126.0 L1186.2,1128.4 L1186.7,1129.6 L1187.3,1130.5 L1187.8,1131.1 L1188.4,1129.3 L1188.9,1131.9 L1189.5,1130.9 L1190.0,1129.1 L1190.6,1127.3 L1191.1,1128.0 L1191.7,1130.5 L1192.2,1128.9 L1192.8,1130.7 L1193.3,1133.1 L1193.9,1133.6 L1194.4,1133.4 L1195.0,1129.2 L1195.5,1127.4 L1196.1,1130.6 L1196.6,1130.3 L1197.2,1130.6 L1197.7,1128.9 L1198.3,1130.1 L1198.8,1129.4 L1199.4,1128.2 L1199.9,1127.0 L1200.5,1125.8 L1201.0,1124.5 L1201.6,1123.8 L1202.1,1123.4 L1202.7,1120.6 L1203.2,1122.0 L1203.8,1118.3 L1204.3,1117.1 L1204.9,1113.3 L1205.4,1111.2 L1206.0,1111.8 L1206.5,1105.0 L1207.1,1099.2 L1207.6,1096.8 L1208.2,1095.5 L1208.7,1095.7 L1209.3,1090.0 L1209.8,1086.0 L1210.4,1080.5 L1210.9,1078.8 L1211.5,1077.0 L1212.0,1074.9 L1212.6,1071.9 L1213.1,1071.1 L1213.7,1070.6 L1214.2,1071.0 L1214.8,1073.1 L1215.3,1075.5 L1215.9,1077.2 L1216.4,1083.8 L1217.0,1088.3 L1217.5,1090.0 L1218.1,1092.4 L1218.6,1098.9 L1219.2,1100.6 L1219.7,1102.8 L1220.3,1104.0 L1220.8,1103.8 L1221.4,1105.0 L1221.9,1105.8 L1222.5,1106.8 L1223.0,1107.8 L1223.6,1108.8 L1224.1,1110.5 L1224.7,1110.1 L1225.2,1109.3 L1225.8,1109.0 L1226.3,1109.1 L1226.9,1106.6 L1227.4,1106.1 L1228.0,1105.8 L1228.5,1104.2 L1229.1,1103.4 L1229.6,1102.8 L1230.2,1103.6 L1230.7,1102.5 L1231.3,1101.9 L1231.8,1102.5 L1232.4,1105.2 L1232.9,1107.7 L1233.5,1110.7 L1234.0,1114.9 L1234.6,1119.2 L1235.1,1123.8 L1235.7,1125.4 L1236.2,1129.5 L1236.8,1126.9 L1237.3,1128.7 L1237.9,1128.1 L1238.4,1132.4 L1239.0,1129.9 L1239.5,1130.0 L1240.1,1132.5 L1240.6,1132.6 L1241.2,1128.4 L1241.7,1128.3 L1242.3,1127.4 L1242.8,1130.0 L1243.4,1130.2 L1243.9,1129.4 L1244.5,1128.7 L1245.0,1128.9 L1245.6,1129.0 L1246.1,1132.0 L1246.7,1132.9 L1247.2,1127.3 L1247.8,1129.2 L1248.3,1130.1 L1248.9,1131.2 L1249.4,1129.2 L1250.0,1129.8 L1250.5,1129.4 L1251.1,1132.3 L1251.6,1131.9 L1252.2,1131.4 L1252.7,1132.0 L1253.3,1130.3 L1253.8,1128.3 L1254.4,1131.8 L1254.9,1131.9 L1255.5,1131.3 L1256.0,1133.5 L1256.6,1133.4 L1257.1,1129.0 L1257.7,1129.8 L1258.2,1134.9 L1258.8,1135.0 L1259.3,1130.7 L1259.9,1129.3 L1260.4,1130.7 L1261.0,1131.1 L1261.5,1130.2 L1262.1,1132.6 L1262.6,1131.1 L1263.2,1131.8 L1263.7,1135.5 L1264.3,1133.6 L1264.8,1134.3 L1265.4,1135.9 L1265.9,1135.7 L1266.5,1133.4 L1267.0,1132.8 L1267.6,1132.2 L1268.1,1136.2 L1268.7,1134.1 L1269.2,1130.4 L1269.8,1132.1 L1270.3,1134.0 L1270.9,1134.7 L1271.4,1137.2 L1272.0,1136.1 L1272.5,1132.4 L1273.1,1131.8 L1273.6,1130.5 L1274.2,1133.1 L1274.7,1135.1 L1275.3,1138.9 L1275.8,1133.8 L1276.4,1128.8 L1276.9,1131.0 L1277.5,1132.6 L1278.0,1130.4 L1278.6,1130.8 L1279.1,1132.3 L1279.7,1133.7 L1280.2,1132.6 L1280.8,1131.7 L1281.3,1134.0 L1281.9,1132.1 L1282.4,1131.1 L1283.0,1129.6 L1283.5,1131.1 L1284.1,1133.3 L1284.6,1130.3 L1285.2,1132.8 L1285.7,1134.9 L1286.3,1133.5 L1286.8,1133.7 L1287.4,1132.7 L1287.9,1137.0 L1288.5,1137.4 L1289.0,1134.6 L1289.6,1130.4 L1290.1,1131.8 L1290.7,1136.5 L1291.2,1138.2 L1291.8,1136.0 L1292.3,1136.1 L1292.9,1133.0 L1293.4,1132.9 L1294.0,1133.6 L1294.5,1133.6 L1295.1,1131.1 L1295.6,1135.3 L1296.2,1136.0 L1296.7,1131.1 L1297.3,1130.3 L1297.8,1133.2 L1298.4,1131.1 L1298.9,1128.7 L1299.5,1133.9 L1300.0,1133.8 L1300.6,1133.4 L1301.1,1137.2 L1301.7,1134.0 L1302.2,1131.6 L1302.8,1132.2 L1303.3,1130.4 L1303.9,1131.0 L1304.4,1133.0 L1305.0,1131.8 L1305.5,1132.7 L1306.1,1136.7 L1306.6,1136.3 L1307.2,1135.7 L1307.7,1135.2 L1308.3,1135.5 L1308.8,1136.7 L1309.4,1135.1 L1309.9,1136.6 L1310.5,1132.0 L1311.0,1131.2 L1311.6,1129.5 L1312.1,1131.1 L1312.7,1133.5 L1313.2,1134.3 L1313.8,1130.6 L1314.3,1130.4 L1314.9,1129.6 L1315.4,1128.2 L1316.0,1127.6 L1316.5,1129.0 L1317.1,1126.9 L1317.6,1129.7 L1318.2,1130.2 L1318.7,1128.8 L1319.3,1127.7 L1319.8,1128.5 L1320.4,1133.4 L1320.9,1130.1 L1321.5,1133.8 L1322.0,1132.9 L1322.6,1130.0 L1323.1,1129.0 L1323.7,1133.1 L1324.2,1134.0 L1324.8,1129.1 L1325.3,1129.4 L1325.9,1131.6 L1326.4,1131.2 L1327.0,1132.4 L1327.5,1128.1 L1328.1,1127.6 L1328.6,1125.8 L1329.2,1129.5 L1329.7,1124.4 L1330.3,1120.7 L1330.8,1123.6 L1331.4,1125.2 L1331.9,1127.7 L1332.5,1124.2 L1333.0,1123.7 L1333.6,1125.3 L1334.1,1126.5 L1334.7,1124.2 L1335.2,1125.2 L1335.8,1124.3 L1336.3,1122.7 L1336.9,1123.1 L1337.4,1122.9 L1338.0,1122.5 L1338.5,1124.5 L1339.1,1123.1 L1339.6,1124.9 L1340.2,1124.7 L1340.7,1124.2 L1341.3,1124.0 L1341.8,1124.3 L1342.4,1125.2 L1342.9,1126.2 L1343.5,1126.8 L1344.0,1127.8 L1344.6,1126.4 L1345.1,1126.6 L1345.7,1124.8 L1346.2,1128.2 L1346.8,1127.8 L1347.3,1127.1 L1347.9,1129.5 L1348.4,1127.5 L1349.0,1121.7 L1349.5,1124.7 L1350.1,1124.3 L1350.6,1129.1 L1351.2,1131.7 L1351.7,1127.0 L1352.3,1126.7 L1352.8,1127.0 L1353.4,1128.4 L1353.9,1129.9 L1354.5,1130.4 L1355.0,1127.8 L1355.6,1130.6 L1356.1,1127.7 L1356.7,1129.4 L1357.2,1131.5 L1357.8,1130.4 L1358.3,1127.2 L1358.9,1127.1 L1359.4,1128.0 L1360.0,1129.8 L1360.5,1131.4 L1361.1,1128.3 L1361.6,1130.9 L1362.2,1132.3 L1362.7,1132.6 L1363.3,1133.2 L1363.8,1135.0 L1364.4,1134.0 L1364.9,1134.3 L1365.5,1134.8 L1366.0,1135.4 L1366.6,1130.5 L1367.1,1134.2 L1367.7,1132.8 L1368.2,1131.7 L1368.8,1129.9 L1369.3,1128.4 L1369.9,1130.6 L1370.4,1131.2 L1371.0,1132.2 L1371.5,1130.1 L1372.1,1134.0 L1372.6,1132.7 L1373.2,1130.6 L1373.7,1129.1 L1374.3,1128.3 L1374.8,1127.6 L1375.4,1128.6 L1375.9,1129.6 L1376.5,1128.7 L1377.0,1126.6 L1377.6,1127.8 L1378.1,1127.6 L1378.7,1130.2 L1379.2,1133.6 L1379.8,1131.8 L1380.3,1129.1 L1380.9,1126.6 L1381.4,1126.8 L1382.0,1128.1 L1382.5,1132.5 L1383.1,1131.6 L1383.6,1132.6 L1384.2,1132.4 L1384.7,1134.4 L1385.3,1136.4 L1385.8,1133.3 L1386.4,1132.7 L1386.9,1132.7 L1387.5,1134.7 L1388.0,1131.6 L1388.6,1130.2 L1389.1,1129.5 L1389.7,1130.2 L1390.2,1134.8 L1390.8,1138.0 L1391.3,1133.1 L1391.9,1135.0 L1392.4,1134.1 L1393.0,1131.8 L1393.5,1133.1 L1394.1,1133.7 L1394.6,1134.5 L1395.2,1137.9 L1395.7,1133.3 L1396.3,1136.2 L1396.8,1137.1 L1397.4,1135.9 L1397.9,1137.4 L1398.5,1139.0 L1399.0,1138.1 L1399.6,1138.4 L1400.1,1137.6 L1400.7,1134.0 L1401.2,1139.6 L1401.8,1141.9 L1402.3,1139.5 L1402.9,1137.5 L1403.4,1133.1 L1404.0,1133.8 L1404.5,1132.9 L1405.1,1133.5 L1405.6,1135.6 L1406.2,1133.1 L1406.7,1132.6 L1407.3,1130.4 L1407.8,1133.2 L1408.4,1134.3 L1408.9,1133.1 L1409.5,1134.1 L1410.0,1137.9 L1410.6,1133.4 L1411.1,1132.5 L1411.7,1134.0 L1412.2,1138.3 L1412.8,1139.9 L1413.3,1136.1 L1413.9,1133.0 L1414.4,1133.4 L1415.0,1135.0 L1415.5,1132.7 L1416.1,1135.9 L1416.6,1136.0 L1417.2,1133.4 L1417.7,1133.7 L1418.3,1134.3 L1418.8,1134.4 L1419.4,1130.7 L1419.9,1132.8 L1420.5,1130.6 L1421.0,1129.5 L1421.6,1130.9 L1422.1,1130.5 L1422.7,1128.9 L1423.2,1128.1 L1423.8,1130.7 L1424.3,1136.3 L1424.9,1138.3 L1425.4,1136.8 L1426.0,1136.7 L1426.5,1134.1 L1427.1,1134.4 L1427.6,1134.5 L1428.2,1131.9 L1428.7,1131.6 L1429.3,1133.2 L1429.8,1132.1 L1430.4,1130.8 L1430.9,1132.5 L1431.5,1132.2 L1432.0,1133.6 L1432.6,1131.9 L1433.1,1130.9 L1433.7,1131.3 L1434.2,1130.7 L1434.8,1129.8 L1435.3,1130.8 L1435.9,1133.2 L1436.4,1134.0 L1437.0,1133.9 L1437.5,1129.3 L1438.1,1130.4 L1438.6,1131.2 L1439.2,1132.0 L1439.7,1130.9 L1440.3,1130.9 L1440.8,1132.8 L1441.4,1131.5 L1441.9,1129.6 L1442.5,1133.4 L1443.0,1133.0 L1443.6,1130.4 L1444.1,1131.4 L1444.7,1129.9 L1445.2,1131.8 L1445.8,1129.6 L1446.3,1127.8 L1446.9,1127.8 L1447.4,1127.3 L1448.0,1128.4 L1448.5,1128.2 L1449.1,1127.1 L1449.6,1123.8 L1450.2,1118.7 L1450.7,1122.4 L1451.3,1120.4 L1451.8,1122.5 L1452.4,1123.2 L1452.9,1120.0 L1453.5,1116.4 L1454.0,1114.0 L1454.6,1110.9 L1455.1,1106.6 L1455.7,1102.0 L1456.2,1097.4 L1456.8,1094.6 L1457.3,1087.6 L1457.9,1081.1 L1458.4,1072.2 L1459.0,1064.3 L1459.5,1056.4 L1460.1,1049.5 L1460.6,1043.1 L1461.2,1037.8 L1461.7,1034.8 L1462.3,1034.7 L1462.8,1037.2 L1463.4,1040.4 L1463.9,1045.3 L1464.5,1052.9 L1465.0,1059.7 L1465.6,1065.5 L1466.1,1071.8 L1466.7,1081.6 L1467.2,1086.0 L1467.8,1091.1 L1468.3,1094.8 L1468.9,1097.3 L1469.4,1102.0 L1470.0,1108.8 L1470.5,1112.6 L1471.1,1114.0 L1471.6,1114.5 L1472.2,1116.2 L1472.7,1119.4 L1473.3,1120.4 L1473.8,1125.5 L1474.4,1128.8 L1474.9,1132.0 L1475.5,1129.2 L1476.0,1126.1 L1476.6,1124.3 L1477.1,1121.2 L1477.7,1125.9 L1478.2,1128.9 L1478.8,1131.4 L1479.3,1131.7 L1479.9,1131.6 L1480.4,1131.4 L1481.0,1132.7 L1481.5,1133.4 L1482.1,1129.6 L1482.6,1129.2 L1483.2,1129.2 L1483.7,1134.2 L1484.3,1134.8 L1484.8,1132.8 L1485.4,1129.6 L1485.9,1131.1 L1486.5,1131.3 L1487.0,1131.7 L1487.6,1131.8 L1488.1,1132.8 L1488.7,1132.2 L1489.2,1133.9 L1489.8,1133.3 L1490.3,1132.2 L1490.9,1132.3 L1491.4,1132.4 L1492.0,1134.1 L1492.5,1133.0 L1493.1,1133.3 L1493.6,1131.8 L1494.2,1130.6 L1494.7,1133.6 L1495.3,1131.9 L1495.8,1134.1 L1496.4,1133.5 L1496.9,1130.0 L1497.5,1130.5 L1498.0,1131.5 L1498.6,1130.9 L1499.1,1130.9 L1499.7,1133.7 L1500.2,1133.0 L1500.8,1133.3 L1501.3,1132.4 L1501.9,1132.9 L1502.4,1131.7 L1503.0,1132.9 L1503.5,1134.2 L1504.1,1133.4 L1504.6,1132.0 L1505.2,1131.3 L1505.7,1133.5 L1506.3,1134.1 L1506.8,1132.9 L1507.4,1132.3 L1507.9,1135.4 L1508.5,1138.3 L1509.0,1134.4 L1509.6,1134.4 L1510.1,1133.5 L1510.7,1129.5 L1511.2,1132.7 L1511.8,1133.5 L1512.3,1136.2 L1512.9,1134.0 L1513.4,1132.6 L1514.0,1133.6 L1514.5,1134.2 L1515.1,1133.3 L1515.6,1133.3 L1516.2,1131.7 L1516.7,1133.6 L1517.3,1136.5 L1517.8,1138.5 L1518.4,1136.5 L1518.9,1135.5 L1519.5,1136.8 L1520.0,1137.1 L1520.6,1137.8 L1521.1,1136.3 L1521.7,1133.8 L1522.2,1133.7 L1522.8,1133.6 L1523.3,1133.5 L1523.9,1132.7 L1524.4,1130.0 L1525.0,1127.6 L1525.5,1128.7 L1526.1,1127.6 L1526.6,1130.6 L1527.2,1130.6 L1527.7,1128.5 L1528.3,1132.1 L1528.8,1133.3 L1529.4,1132.8 L1529.9,1135.6 L1530.5,1135.5 L1531.0,1131.2 L1531.6,1133.8 L1532.1,1133.8 L1532.7,1133.8 L1533.2,1134.0 L1533.8,1131.3 L1534.3,1130.7 L1534.9,1130.3 L1535.4,1130.5 L1536.0,1131.1 L1536.5,1129.2 L1537.1,1130.0 L1537.6,1132.8 L1538.2,1132.6 L1538.7,1132.1 L1539.3,1128.8 L1539.8,1129.8 L1540.4,1131.0 L1540.9,1131.9 L1541.5,1131.8 L1542.0,1133.9 L1542.6,1133.0 L1543.1,1132.9 L1543.7,1133.4 L1544.2,1134.3 L1544.8,1133.4 L1545.3,1135.7 L1545.9,1135.2 L1546.4,1134.4 L1547.0,1134.4 L1547.5,1135.4 L1548.1,1136.5 L1548.6,1136.3 L1549.2,1135.5 L1549.7,1135.8 L1550.3,1135.1 L1550.8,1136.3 L1551.4,1133.6 L1551.9,1131.0 L1552.5,1135.6 L1553.0,1134.5 L1553.6,1132.2 L1554.1,1133.2 L1554.7,1133.9 L1555.2,1138.4 L1555.8,1136.2 L1556.3,1132.9 L1556.9,1135.5 L1557.4,1136.0 L1558.0,1138.5 L1558.5,1133.8 L1559.1,1131.4 L1559.6,1134.8 L1560.2,1134.9 L1560.7,1133.7 L1561.3,1131.5 L1561.8,1135.5 L1562.4,1136.9 L1562.9,1132.2 L1563.5,1135.0 L1564.0,1134.3 L1564.6,1137.6 L1565.1,1135.1 L1565.7,1133.7 L1566.2,1135.5 L1566.8,1134.6 L1567.3,1133.1 L1567.9,1134.6 L1568.4,1132.6 L1569.0,1131.7 L1569.5,1137.0 L1570.1,1134.5 L1570.6,1133.6 L1571.2,1134.4 L1571.7,1131.6 L1572.3,1131.6 L1572.8,1133.2 L1573.4,1133.8 L1573.9,1135.2 L1574.5,1136.6 L1575.0,1134.6 L1575.6,1135.5 L1576.1,1135.3 L1576.7,1132.8 L1577.2,1133.7 L1577.8,1132.8 L1578.3,1135.4 L1578.9,1134.8 L1579.4,1133.0 L1580.0,1130.9 L1580.5,1132.4 L1581.1,1132.2 L1581.6,1134.0 L1582.2,1133.0 L1582.7,1132.4 L1583.3,1135.1 L1583.8,1135.1 L1584.4,1133.6 L1584.9,1135.5 L1585.5,1133.7 L1586.0,1133.2 L1586.6,1133.5 L1587.1,1132.2 L1587.7,1132.4 L1588.2,1133.6 L1588.8,1136.5 L1589.3,1136.2 L1589.9,1133.8 L1590.4,1135.5 L1591.0,1133.5 L1591.5,1133.6 L1592.1,1134.4 L1592.6,1134.5 L1593.2,1137.0 L1593.7,1133.6 L1594.3,1131.3 L1594.8,1134.4 L1595.4,1132.7 L1595.9,1131.1 L1596.5,1128.4 L1597.0,1134.2 L1597.6,1135.8 L1598.1,1135.8 L1598.7,1136.5 L1599.2,1137.1 L1599.8,1134.8 L1600.3,1135.0 L1600.9,1132.5 L1601.4,1133.0 L1602.0,1135.1 L1602.5,1133.6 L1603.1,1131.0 L1603.6,1132.8 L1604.2,1132.3 L1604.7,1131.4 L1605.3,1133.0 L1605.8,1131.6 L1606.4,1129.5 L1606.9,1131.1 L1607.5,1134.8 L1608.0,1131.1 L1608.6,1132.8 L1609.1,1134.1 L1609.7,1133.3 L1610.2,1130.3 L1610.8,1131.0 L1611.3,1132.3 L1611.9,1132.7 L1612.4,1130.1 L1613.0,1129.3 L1613.5,1132.7 L1614.1,1133.4 L1614.6,1131.7 L1615.2,1130.0 L1615.7,1131.2 L1616.3,1131.3 L1616.8,1131.5 L1617.4,1128.7 L1617.9,1129.9 L1618.5,1129.5 L1619.0,1128.2 L1619.6,1129.8 L1620.1,1129.7 L1620.7,1128.9 L1621.2,1128.9 L1621.8,1126.3 L1622.3,1127.4 L1622.9,1128.0 L1623.4,1127.3 L1624.0,1126.5 L1624.5,1121.6 L1625.1,1119.4 L1625.6,1120.6 L1626.2,1120.5 L1626.7,1120.6 L1627.3,1116.1 L1627.8,1111.4 L1628.4,1110.2 L1628.9,1105.2 L1629.5,1102.1 L1630.0,1103.9 L1630.6,1098.5 L1631.1,1094.3 L1631.7,1090.6 L1632.2,1087.5 L1632.8,1082.2 L1633.3,1078.3 L1633.9,1073.6 L1634.4,1071.4 L1635.0,1070.8 L1635.5,1070.3 L1636.1,1070.8 L1636.6,1072.6 L1637.2,1075.5 L1637.7,1079.1 L1638.3,1085.3 L1638.8,1089.7 L1639.4,1094.0 L1639.9,1098.6 L1640.5,1103.6 L1641.0,1107.1 L1641.6,1110.1 L1642.1,1111.1 L1642.7,1116.4 L1643.2,1121.1 L1643.8,1119.6 L1644.3,1121.3 L1644.9,1124.5 L1645.4,1126.0 L1646.0,1125.5 L1646.5,1123.3 L1647.1,1125.7 L1647.6,1124.4 L1648.2,1125.2 L1648.7,1127.5 L1649.3,1127.3 L1649.8,1129.9 L1650.4,1133.4 L1650.9,1130.6 L1651.5,1129.1 L1652.0,1126.7 L1652.6,1126.7 L1653.1,1126.7 L1653.7,1127.6 L1654.2,1127.5 L1654.8,1128.7 L1655.3,1129.7 L1655.9,1128.9 L1656.4,1128.4 L1657.0,1129.4 L1657.5,1132.6 L1658.1,1133.4 L1658.6,1135.0 L1659.2,1135.0 L1659.7,1133.1 L1660.3,1133.3 L1660.8,1131.7 L1661.4,1136.4 L1661.9,1135.4 L1662.5,1132.1 L1663.0,1130.5 L1663.6,1131.6 L1664.1,1128.8 L1664.7,1130.3 L1665.2,1132.9 L1665.8,1132.1 L1666.3,1131.5 L1666.9,1132.8 L1667.4,1130.7 L1668.0,1131.8 L1668.5,1131.0 L1669.1,1130.7 L1669.6,1132.2 L1670.2,1131.6 L1670.7,1134.8 L1671.3,1133.0 L1671.8,1134.9 L1672.4,1131.6 L1672.9,1132.3 L1673.5,1129.8 L1674.0,1129.3 L1674.6,1131.8 L1675.1,1132.2 L1675.7,1130.0 L1676.2,1132.2 L1676.8,1130.1 L1677.3,1130.8 L1677.9,1131.6 L1678.4,1131.1 L1679.0,1128.8 L1679.5,1133.1 L1680.1,1132.6 L1680.6,1130.6 L1681.2,1129.2 L1681.7,1128.3 L1682.3,1129.6 L1682.8,1132.6 L1683.4,1131.8 L1683.9,1130.4 L1684.5,1132.0 L1685.0,1134.9 L1685.6,1132.6 L1686.1,1132.3 L1686.7,1135.1 L1687.2,1134.4 L1687.8,1133.3 L1688.3,1131.9 L1688.9,1130.5 L1689.4,1131.2 L1690.0,1132.7 L1690.5,1133.7 L1691.1,1134.8 L1691.6,1135.1 L1692.2,1134.5 L1692.7,1133.6 L1693.3,1130.9 L1693.8,1129.0 L1694.4,1130.9 L1694.9,1130.8 L1695.5,1131.3 L1696.0,1131.7 L1696.6,1130.5 L1697.1,1130.9 L1697.7,1132.9 L1698.2,1133.6 L1698.8,1133.1 L1699.3,1134.5 L1699.9,1133.6 L1700.4,1132.4 L1701.0,1134.5 L1701.5,1136.7 L1702.1,1133.9 L1702.6,1135.7 L1703.2,1136.6 L1703.7,1135.8 L1704.3,1133.0 L1704.8,1135.8 L1705.4,1133.6 L1705.9,1132.2 L1706.5,1132.3 L1707.0,1133.4 L1707.6,1132.7 L1708.1,1132.7 L1708.7,1134.1 L1709.2,1131.2 L1709.8,1130.6 L1710.3,1133.3 L1710.9,1134.1 L1711.4,1133.8 L1712.0,1131.4 L1712.5,1133.8 L1713.1,1134.3 L1713.6,1134.9 L1714.2,1131.3 L1714.7,1132.3 L1715.3,1131.7 L1715.8,1129.8 L1716.4,1131.5 L1716.9,1134.2 L1717.5,1132.3 L1718.0,1131.9 L1718.6,1134.4 L1719.1,1135.2 L1719.7,1134.5 L1720.2,1132.0 L1720.8,1132.8 L1721.3,1134.0 L1721.9,1131.6 L1722.4,1131.1 L1723.0,1133.6 L1723.5,1133.9 L1724.1,1128.8 L1724.6,1125.3 L1725.2,1126.1 L1725.7,1126.8 L1726.3,1127.7 L1726.8,1128.0 L1727.4,1126.0 L1727.9,1124.3 L1728.5,1124.0 L1729.0,1122.5 L1729.6,1122.5 L1730.1,1122.4 L1730.7,1123.1 L1731.2,1122.3 L1731.8,1121.7 L1732.3,1121.7 L1732.9,1121.9 L1733.4,1121.5 L1734.0,1122.5 L1734.5,1124.0 L1735.1,1126.7 L1735.6,1126.4 L1736.2,1126.1 L1736.7,1126.0 L1737.3,1127.2 L1737.8,1129.6 L1738.4,1130.8 L1738.9,1132.5 L1739.5,1131.3 L1740.0,1133.1 L1740.6,1132.6 L1741.1,1131.2 L1741.7,1128.3 L1742.2,1129.5 L1742.8,1133.3 L1743.3,1134.8 L1743.9,1133.4 L1744.4,1133.4 L1745.0,1131.8 L1745.5,1131.4 L1746.1,1131.6 L1746.6,1133.8 L1747.2,1133.1 L1747.7,1131.9 L1748.3,1131.7 L1748.8,1132.8 L1749.4,1132.2 L1749.9,1131.1 L1750.5,1133.9 L1751.0,1132.4 L1751.6,1131.8 L1752.1,1133.7 L1752.7,1133.0 L1753.2,1131.1 L1753.8,1130.9 L1754.3,1128.6 L1754.9,1127.9 L1755.4,1126.8 L1756.0,1130.3 L1756.5,1127.7 L1757.1,1129.9 L1757.6,1128.4 L1758.2,1127.8 L1758.7,1129.1 L1759.3,1130.1 L1759.8,1131.1 L1760.4,1132.3 L1760.9,1130.5 L1761.5,1129.9 L1762.0,1127.9 L1762.6,1128.6 L1763.1,1127.3 L1763.7,1125.5 L1764.2,1124.8 L1764.8,1123.9 L1765.3,1122.9 L1765.9,1121.3 L1766.4,1117.9 L1767.0,1115.5 L1767.5,1114.0 L1768.1,1108.4 L1768.6,1106.6 L1769.2,1104.9 L1769.7,1096.7 L1770.3,1094.5 L1770.8,1091.9 L1771.4,1087.1 L1771.9,1085.3 L1772.5,1080.5 L1773.0,1079.5 L1773.6,1078.5 L1774.1,1078.2 L1774.7,1078.7 L1775.2,1079.9 L1775.8,1081.1 L1776.3,1084.0 L1776.9,1085.1 L1777.4,1088.6 L1778.0,1092.8 L1778.5,1093.7 L1779.1,1097.3 L1779.6,1100.9 L1780.2,1102.9 L1780.7,1108.6 L1781.3,1110.5 L1781.8,1110.8 L1782.4,1114.4 L1782.9,1116.2 L1783.5,1118.5 L1784.0,1121.2 L1784.6,1122.6 L1785.1,1125.6 L1785.7,1125.6 L1786.2,1128.2 L1786.8,1128.5 L1787.3,1129.6 L1787.9,1128.3 L1788.4,1128.0 L1789.0,1127.9 L1789.5,1130.7 L1790.1,1132.5 L1790.6,1134.2 L1791.2,1133.1 L1791.7,1131.1 L1792.3,1130.3 L1792.8,1130.9 L1793.4,1131.1 L1793.9,1132.9 L1794.5,1132.0 L1795.0,1128.9 L1795.6,1129.0 L1796.1,1131.5 L1796.7,1130.0 L1797.2,1128.8 L1797.8,1129.6 L1798.3,1127.0 L1798.9,1125.6 L1799.4,1123.7 L1800.0,1121.2 L1800.5,1122.7 L1801.1,1119.3 L1801.6,1117.7 L1802.2,1116.4 L1802.7,1116.1 L1803.3,1113.7 L1803.8,1111.4 L1804.4,1109.2 L1804.9,1108.7 L1805.5,1108.0 L1806.0,1108.2 L1806.6,1108.6 L1807.1,1109.5 L1807.7,1111.8 L1808.2,1113.1 L1808.8,1114.7 L1809.3,1116.3 L1809.9,1118.2 L1810.4,1121.7 L1811.0,1123.5 L1811.5,1122.6 L1812.1,1126.6 L1812.6,1128.2 L1813.2,1129.7 L1813.7,1129.5 L1814.3,1127.6 L1814.8,1128.8 L1815.4,1133.3 L1815.9,1131.8 L1816.5,1129.7 L1817.0,1131.7 L1817.6,1131.0 L1818.1,1128.5 L1818.7,1127.7 L1819.2,1129.5 L1819.8,1132.7 L1820.3,1133.0 L1820.9,1132.9 L1821.4,1133.9 L1822.0,1133.7 L1822.5,1130.5 L1823.1,1132.0 L1823.6,1131.7 L1824.2,1131.2 L1824.7,1132.2 L1825.3,1133.0 L1825.8,1132.4 L1826.4,1130.9 L1826.9,1132.8 L1827.5,1135.8 L1828.0,1131.8 L1828.6,1130.5 L1829.1,1133.3 L1829.7,1134.5 L1830.2,1133.9 L1830.8,1132.3 L1831.3,1134.2 L1831.9,1132.2 L1832.4,1131.2 L1833.0,1132.0 L1833.5,1133.3 L1834.1,1134.6 L1834.6,1134.4 L1835.2,1133.7 L1835.7,1134.4 L1836.3,1133.7 L1836.8,1133.7 L1837.4,1130.4 L1837.9,1130.2 L1838.5,1132.9 L1839.0,1131.0 L1839.6,1131.9 L1840.1,1132.6 L1840.7,1132.2 L1841.2,1132.9 L1841.8,1134.3 L1842.3,1130.5 L1842.9,1134.8 L1843.4,1137.4 L1844.0,1134.5 L1844.5,1133.9 L1845.1,1135.4 L1845.6,1136.1 L1846.2,1132.4 L1846.7,1133.1 L1847.3,1133.3 L1847.8,1134.1 L1848.4,1133.9 L1848.9,1134.1 L1849.5,1132.8 L1850.0,1132.7 L1850.6,1131.8 L1851.1,1131.6 L1851.7,1132.4 L1852.2,1132.1 L1852.8,1131.5 L1853.3,1134.6 L1853.9,1132.5 L1854.4,1131.0 L1855.0,1133.5 L1855.5,1132.2 L1856.1,1133.3 L1856.6,1133.2 L1857.2,1133.5 L1857.7,1133.3 L1858.3,1132.5 L1858.8,1134.0 L1859.4,1135.6 L1859.9,1131.0 L1860.5,1133.0 L1861.0,1133.9 L1861.6,1131.7 L1862.1,1132.0 L1862.7,1136.1 L1863.2,1134.6 L1863.8,1136.7 L1864.3,1135.1 L1864.9,1134.1 L1865.4,1134.6 L1866.0,1135.2 L1866.5,1136.0 L1867.1,1135.1 L1867.6,1134.6 L1868.2,1135.2 L1868.7,1137.0 L1869.3,1136.2 L1869.8,1133.7 L1870.4,1134.1 L1870.9,1135.4 L1871.5,1134.6 L1872.0,1134.4 L1872.6,1134.0 L1873.1,1135.1 L1873.7,1136.6 L1874.2,1137.4 L1874.8,1136.9 L1875.3,1138.8 L1875.9,1137.5 L1876.4,1140.6 L1877.0,1138.3 L1877.5,1136.3 L1878.1,1133.6 L1878.6,1130.7 L1879.2,1133.9 L1879.7,1135.9 L1880.3,1137.4 L1880.8,1134.4 L1881.4,1137.2 L1881.9,1135.6 L1882.5,1135.0 L1883.0,1131.5 L1883.6,1134.1 L1884.1,1134.7 L1884.7,1135.7 L1885.2,1134.7 L1885.8,1133.3 L1886.3,1135.7 L1886.9,1136.0 L1887.4,1135.7 L1888.0,1136.2 L1888.5,1136.0 L1889.1,1133.8 L1889.6,1131.4 L1890.2,1131.8 L1890.7,1135.5 L1891.3,1135.2 L1891.8,1133.8 L1892.4,1132.8 L1892.9,1133.1 L1893.5,1133.0 L1894.0,1132.2 L1894.6,1132.3 L1895.1,1135.5 L1895.7,1133.3 L1896.2,1131.0 L1896.8,1129.8 L1897.3,1130.9 L1897.9,1133.3 L1898.4,1133.6 L1899.0,1132.4 L1899.5,1132.6 L1900.1,1132.1 L1900.6,1132.0 L1901.2,1135.3 L1901.7,1135.9 L1902.3,1137.8 L1902.8,1134.4 L1903.4,1134.7 L1903.9,1136.2 L1904.5,1134.6 L1905.0,1132.7 L1905.6,1133.3 L1906.1,1135.0 L1906.7,1135.5 L1907.2,1135.2 L1907.8,1136.5 L1908.3,1136.5 L1908.9,1135.3 L1909.4,1134.4 L1910.0,1134.2 L1910.5,1135.3 L1911.1,1135.8 L1911.6,1134.8 L1912.2,1134.8 L1912.7,1133.4 L1913.3,1131.6 L1913.8,1132.4 L1914.4,1134.9 L1914.9,1135.3 L1915.5,1136.2 L1916.0,1134.6 L1916.6,1135.3 L1917.1,1136.1 L1917.7,1135.2 L1918.2,1132.9 L1918.8,1133.1 L1919.3,1133.3 L1919.9,1132.4 L1920.4,1134.4 L1921.0,1135.3 L1921.5,1134.4 L1922.1,1136.7 L1922.6,1134.5 L1923.2,1133.9 L1923.7,1133.8 L1924.3,1133.7 L1924.8,1135.0 L1925.4,1135.5 L1925.9,1137.4 L1926.5,1136.5 L1927.0,1135.8 L1927.6,1134.3 L1928.1,1133.0 L1928.7,1134.4 L1929.2,1134.6 L1929.8,1136.8 L1930.3,1136.8 L1930.9,1138.8 L1931.4,1138.2 L1932.0,1137.8 L1932.5,1136.9 L1933.1,1136.7 L1933.6,1137.2 L1934.2,1136.9 L1934.7,1134.8 L1935.3,1136.4 L1935.8,1138.7 L1936.4,1135.2 L1936.9,1133.7 L1937.5,1132.6 L1938.0,1132.1 L1938.6,1135.1 L1939.1,1134.4 L1939.7,1134.8 L1940.2,1137.2 L1940.8,1137.4 L1941.3,1133.4 L1941.9,1134.7 L1942.4,1134.6 L1943.0,1134.1 L1943.5,1134.0 L1944.1,1133.8 L1944.6,1135.7 L1945.2,1134.8 L1945.7,1134.5 L1946.3,1135.6 L1946.8,1135.4 L1947.4,1134.7 L1947.9,1134.9 L1948.5,1136.5 L1949.0,1135.0 L1949.6,1133.4 L1950.1,1132.2 L1950.7,1132.4 L1951.2,1131.9 L1951.8,1133.3 L1952.3,1133.0 L1952.9,1130.5 L1953.4,1132.9 L1954.0,1134.5 L1954.5,1133.7 L1955.1,1132.9 L1955.6,1135.1 L1956.2,1133.1 L1956.7,1131.8 L1957.3,1132.3 L1957.8,1134.4 L1958.4,1136.3 L1958.9,1136.7 L1959.5,1135.0 L1960.0,1132.9 L1960.6,1133.2 L1961.1,1133.3 L1961.7,1133.8 L1962.2,1132.5 L1962.8,1134.8 L1963.3,1136.0 L1963.9,1135.3 L1964.4,1135.4 L1965.0,1133.5 L1965.5,1132.5 L1966.1,1134.1 L1966.6,1136.8 L1967.2,1136.7 L1967.7,1135.2 L1968.3,1136.4 L1968.8,1135.5 L1969.4,1137.1 L1969.9,1136.0 L1970.5,1134.7 L1971.0,1135.6 L1971.6,1133.8 L1972.1,1132.9 L1972.7,1132.7 L1973.2,1134.8 L1973.8,1134.9 L1974.3,1134.6 L1974.9,1134.7 L1975.4,1136.4 L1976.0,1134.3 L1976.5,1133.8 L1977.1,1136.3 L1977.6,1136.7 L1978.2,1134.4 L1978.7,1131.4 L1979.3,1132.5 L1979.8,1134.3 L1980.4,1134.3 L1980.9,1135.1 L1981.5,1132.3 L1982.0,1133.7 L1982.6,1133.4 L1983.1,1135.4 L1983.7,1134.7 L1984.2,1135.4 L1984.8,1133.4 L1985.3,1132.1 L1985.9,1132.6 L1986.4,1133.5 L1987.0,1133.9 L1987.5,1137.0 L1988.1,1137.6 L1988.6,1135.7 L1989.2,1133.8 L1989.7,1134.4 L1990.3,1134.6 L1990.8,1136.9 L1991.4,1136.0 L1991.9,1135.5 L1992.5,1133.7 L1993.0,1131.5 L1993.6,1132.4 L1994.1,1132.8 L1994.7,1134.5 L1995.2,1134.3 L1995.8,1133.0 L1996.3,1133.9 L1996.9,1135.9 L1997.4,1133.1 L1998.0,1132.5 L1998.5,1133.3 L1999.1,1133.0 L1999.6,1133.5 L2000.2,1135.4 L2000.7,1136.1 L2001.3,1132.3 L2001.8,1133.6 L2002.4,1134.3 L2002.9,1134.1 L2003.5,1133.9 L2004.0,1134.1 L2004.6,1135.4 L2005.1,1134.0 L2005.7,1134.0 L2006.2,1134.4 L2006.8,1134.5 L2007.3,1134.5 L2007.9,1135.7 L2008.4,1134.7 L2009.0,1134.6 L2009.5,1134.0 L2010.1,1132.6 L2010.6,1132.4 L2011.2,1132.5 L2011.7,1133.6 L2012.3,1132.5 L2012.8,1131.9 L2013.4,1133.4 L2013.9,1133.1 L2014.5,1130.8 L2015.0,1133.8 L2015.6,1132.2 L2016.1,1131.4 L2016.7,1132.2 L2017.2,1130.6 L2017.8,1130.0 L2018.3,1131.8 L2018.9,1129.0 L2019.4,1129.2 L2020.0,1129.4 L2020.5,1128.6 L2021.1,1128.8 L2021.6,1129.0 L2022.2,1129.4 L2022.7,1128.8 L2023.3,1129.1 L2023.8,1129.9 L2024.4,1129.5 L2024.9,1128.6 L2025.5,1130.2 L2026.0,1130.8 L2026.6,1131.7 L2027.1,1133.0 L2027.7,1133.3 L2028.2,1132.8 L2028.8,1132.4 L2029.3,1131.1 L2029.9,1132.4 L2030.4,1133.3 L2031.0,1133.1 L2031.5,1133.5 L2032.1,1133.4 L2032.6,1136.7 L2033.2,1137.6 L2033.7,1134.8 L2034.3,1134.9 L2034.8,1134.9 L2035.4,1136.5 L2035.9,1135.9 L2036.5,1135.1 L2037.0,1134.7 L2037.6,1134.7 L2038.1,1133.9 L2038.7,1135.2 L2039.2,1134.2 L2039.8,1135.1 L2040.3,1135.0 L2040.9,1135.6 L2041.4,1134.5 L2042.0,1134.7 L2042.5,1132.8 L2043.1,1133.8 L2043.6,1133.3 L2044.2,1133.5 L2044.7,1133.8 L2045.3,1134.0 L2045.8,1131.1 L2046.4,1132.8 L2046.9,1132.1 L2047.5,1134.2 L2048.0,1131.2 L2048.6,1131.4 L2049.1,1132.0 L2049.7,1135.4 L2050.2,1133.3 L2050.8,1134.1 L2051.3,1133.5 L2051.9,1132.4 L2052.4,1134.5 L2053.0,1136.2 L2053.5,1135.9 L2054.1,1136.8 L2054.6,1135.7 L2055.2,1135.6 L2055.7,1135.3 L2056.3,1136.5 L2056.8,1138.1 L2057.4,1136.3 L2057.9,1135.1 L2058.5,1133.7 L2059.0,1133.8 L2059.6,1135.7 L2060.1,1132.9 L2060.7,1132.5 L2061.2,1133.5 L2061.8,1134.1 L2062.3,1135.7 L2062.9,1131.6 L2063.4,1133.9 L2064.0,1134.7 L2064.5,1132.6 L2065.1,1133.0 L2065.6,1135.1 L2066.2,1136.2 L2066.7,1133.1 L2067.3,1132.2 L2067.8,1135.6 L2068.4,1136.6 L2068.9,1133.7 L2069.5,1131.8 L2070.0,1135.5 L2070.6,1135.0 L2071.1,1135.8 L2071.7,1134.6 L2072.2,1133.8 L2072.8,1134.3 L2073.3,1136.9 L2073.9,1136.4 L2074.4,1132.2 L2075.0,1133.7 L2075.5,1137.1 L2076.1,1135.0 L2076.6,1133.5 L2077.2,1135.0 L2077.7,1135.3 L2078.3,1135.1 L2078.8,1134.6 L2079.4,1134.5 L2079.9,1134.4 L2080.5,1134.9 L2081.0,1133.7 L2081.6,1133.9 L2082.1,1134.7 L2082.7,1136.4 L2083.2,1135.5 L2083.8,1134.9 L2084.3,1135.7 L2084.9,1136.1 L2085.4,1136.9 L2086.0,1137.0 L2086.5,1138.4 L2087.1,1137.9 L2087.6,1135.9 L2088.2,1135.4 L2088.7,1136.9 L2089.3,1136.6 L2089.8,1135.2 L2090.4,1133.0 L2090.9,1132.7 L2091.5,1135.5 L2092.0,1136.7 L2092.6,1136.2 L2093.1,1134.1 L2093.7,1135.9 L2094.2,1134.9 L2094.8,1135.5 L2095.3,1135.3 L2095.9,1133.6 L2096.4,1132.9 L2097.0,1131.2 L2097.5,1131.7 L2098.1,1131.4 L2098.6,1133.7 L2099.2,1134.0 L2099.7,1134.7 L2100.3,1133.8 L2100.8,1132.5 L2101.4,1133.2 L2101.9,1132.9 L2102.5,1133.9 L2103.0,1133.5 L2103.6,1132.2 L2104.1,1133.2 L2104.7,1133.7 L2105.2,1133.9 L2105.8,1135.8 L2106.3,1136.8 L2106.9,1134.7 L2107.4,1133.6 L2108.0,1132.0 L2108.5,1134.2 L2109.1,1134.7"/>
<path class="c" stroke="#0000ff" d="M179.1,707.6 L179.7,705.7 L180.2,711.0 L180.8,716.6 L181.3,720.2 L181.9,716.4 L182.4,712.9 L183.0,713.6 L183.5,721.8 L184.1,726.6 L184.6,720.4 L185.2,712.9 L185.7,715.6 L186.3,725.9 L186.8,720.4 L187.4,712.0 L187.9,715.7 L188.5,713.1 L189.0,714.1 L189.6,714.8 L190.1,715.2 L190.7,719.8 L191.2,718.0 L191.8,716.4 L192.3,721.2 L192.9,722.0 L193.4,713.6 L194.0,716.9 L194.5,716.8 L195.1,718.9 L195.6,716.7 L196.2,721.6 L196.7,722.7 L197.3,720.8 L197.8,718.0 L198.4,719.4 L198.9,716.9 L199.5,717.0 L200.0,722.6 L200.6,721.2 L201.1,729.8 L201.7,727.7 L202.2,718.2 L202.8,724.4 L203.3,722.7 L203.9,726.8 L204.4,726.4 L205.0,719.9 L205.5,726.0 L206.1,729.7 L206.6,733.1 L207.2,727.3 L207.7,731.6 L208.3,726.4 L208.8,727.1 L209.4,728.1 L209.9,736.4 L210.5,736.7 L211.0,741.7 L211.6,735.7 L212.1,734.2 L212.7,732.6 L213.2,726.6 L213.8,728.9 L214.3,733.8 L214.9,728.4 L215.4,729.0 L216.0,729.6 L216.5,731.3 L217.1,728.2 L217.6,728.9 L218.2,731.0 L218.7,730.1 L219.3,728.0 L219.8,732.7 L220.4,725.4 L220.9,723.6 L221.5,726.2 L222.0,735.0 L222.6,731.1 L223.1,727.0 L223.7,727.5 L224.2,732.7 L224.8,727.8 L225.3,727.3 L225.9,733.5 L226.4,728.7 L227.0,731.1 L227.5,733.2 L228.1,732.3 L228.6,735.4 L229.2,740.2 L229.7,732.9 L230.3,727.0 L230.8,725.5 L231.4,731.9 L231.9,733.7 L232.5,735.3 L233.0,732.6 L233.6,731.3 L234.1,730.4 L234.7,731.8 L235.2,734.6 L235.8,733.7 L236.3,737.5 L236.9,744.8 L237.4,738.5 L238.0,731.7 L238.5,742.8 L239.1,738.8 L239.6,733.5 L240.2,738.9 L240.7,735.9 L241.3,731.5 L241.8,729.7 L242.4,728.6 L242.9,733.3 L243.5,736.8 L244.0,731.9 L244.6,734.8 L245.1,738.2 L245.7,727.3 L246.2,729.4 L246.8,727.4 L247.3,723.4 L247.9,723.8 L248.4,729.0 L249.0,731.4 L249.5,728.7 L250.1,731.7 L250.6,735.7 L251.2,736.2 L251.7,738.9 L252.3,738.9 L252.8,741.1 L253.4,746.7 L253.9,743.1 L254.5,740.8 L255.0,741.3 L255.6,735.4 L256.1,737.3 L256.7,742.4 L257.2,743.5 L257.8,745.2 L258.3,737.2 L258.9,732.3 L259.4,744.4 L260.0,741.7 L260.5,733.6 L261.1,740.4 L261.6,734.9 L262.2,726.7 L262.7,730.7 L263.3,734.3 L263.8,741.0 L264.4,733.5 L264.9,733.4 L265.5,734.0 L266.0,733.2 L266.6,732.1 L267.1,737.5 L267.7,742.0 L268.2,739.1 L268.8,731.3 L269.3,729.8 L269.9,733.9 L270.4,731.6 L271.0,730.0 L271.5,729.7 L272.1,738.4 L272.6,733.6 L273.2,726.3 L273.7,723.1 L274.3,719.7 L274.8,718.5 L275.4,723.3 L275.9,729.1 L276.5,734.6 L277.0,735.1 L277.6,734.8 L278.1,737.2 L278.7,745.6 L279.2,745.8 L279.8,733.4 L280.3,732.0 L280.9,743.0 L281.4,730.7 L282.0,728.8 L282.5,732.3 L283.1,735.7 L283.6,738.1 L284.2,734.8 L284.7,730.5 L285.3,735.4 L285.8,738.2 L286.4,743.6 L286.9,736.0 L287.5,728.8 L288.0,731.8 L288.6,741.2 L289.1,733.5 L289.7,726.0 L290.2,731.4 L290.8,736.6 L291.3,739.5 L291.9,732.2 L292.4,736.6 L293.0,736.5 L293.5,729.8 L294.1,731.8 L294.6,740.4 L295.2,740.9 L295.7,736.0 L296.3,733.5 L296.8,735.0 L297.4,730.4 L297.9,728.5 L298.5,726.4 L299.0,729.5 L299.6,733.4 L300.1,742.8 L300.7,734.4 L301.2,737.5 L301.8,737.4 L302.3,731.9 L302.9,732.2 L303.4,721.0 L304.0,727.9 L304.5,730.0 L305.1,717.5 L305.6,721.8 L306.2,731.6 L306.7,727.4 L307.3,723.2 L307.8,725.6 L308.4,727.6 L308.9,733.3 L309.5,733.3 L310.0,730.1 L310.6,729.0 L311.1,733.7 L311.7,740.2 L312.2,738.4 L312.8,738.3 L313.3,734.3 L313.9,729.2 L314.4,732.0 L315.0,737.9 L315.5,735.6 L316.1,729.3 L316.6,726.5 L317.2,732.4 L317.7,731.9 L318.3,731.0 L318.8,731.4 L319.4,734.0 L319.9,735.3 L320.5,738.1 L321.0,739.0 L321.6,740.1 L322.1,736.9 L322.7,731.5 L323.2,732.0 L323.8,733.9 L324.3,731.9 L324.9,735.5 L325.4,737.0 L326.0,727.9 L326.5,724.6 L327.1,735.2 L327.6,733.7 L328.2,732.8 L328.7,727.4 L329.3,737.0 L329.8,734.4 L330.4,728.7 L330.9,726.7 L331.5,727.9 L332.0,726.9 L332.6,725.2 L333.1,724.2 L333.7,732.7 L334.2,730.1 L334.8,729.6 L335.3,727.4 L335.9,720.0 L336.4,729.3 L337.0,728.7 L337.5,728.1 L338.1,728.3 L338.6,725.6 L339.2,730.2 L339.7,724.6 L340.3,721.4 L340.8,722.0 L341.4,726.9 L341.9,728.9 L342.5,722.5 L343.0,719.9 L343.6,728.3 L344.1,724.7 L344.7,731.7 L345.2,728.8 L345.8,725.6 L346.3,727.3 L346.9,733.7 L347.4,736.6 L348.0,734.3 L348.5,740.1 L349.1,744.3 L349.6,734.6 L350.2,728.0 L350.7,727.0 L351.3,726.2 L351.8,728.9 L352.4,728.4 L352.9,727.5 L353.5,731.5 L354.0,720.9 L354.6,726.9 L355.1,742.0 L355.7,740.8 L356.2,737.2 L356.8,737.6 L357.3,741.7 L357.9,736.7 L358.4,731.4 L359.0,725.8 L359.5,728.1 L360.1,725.9 L360.6,724.7 L361.2,724.9 L361.7,727.0 L362.3,727.3 L362.8,729.5 L363.4,722.1 L363.9,726.8 L364.5,734.8 L365.0,730.1 L365.6,733.1 L366.1,734.2 L366.7,734.3 L367.2,729.5 L367.8,720.7 L368.3,723.2 L368.9,722.7 L369.4,718.7 L370.0,721.6 L370.5,719.2 L371.1,718.9 L371.6,726.9 L372.2,727.5 L372.7,724.5 L373.3,723.4 L373.8,725.3 L374.4,726.6 L374.9,727.3 L375.5,728.4 L376.0,727.9 L376.6,731.1 L377.1,732.2 L377.7,730.1 L378.2,725.0 L378.8,724.9 L379.3,728.6 L379.9,726.9 L380.4,724.0 L381.0,713.2 L381.5,713.2 L382.1,726.9 L382.6,732.1 L383.2,736.8 L383.7,735.4 L384.3,733.2 L384.8,731.1 L385.4,728.0 L385.9,735.9 L386.5,733.8 L387.0,737.4 L387.6,737.8 L388.1,738.9 L388.7,740.4 L389.2,735.3 L389.8,733.8 L390.3,732.4 L390.9,736.2 L391.4,743.4 L392.0,738.2 L392.5,742.0 L393.1,741.6 L393.6,740.3 L394.2,737.9 L394.7,730.8 L395.3,735.7 L395.8,739.6 L396.4,731.1 L396.9,730.3 L397.5,728.9 L398.0,730.9 L398.6,728.6 L399.1,736.6 L399.7,729.3 L400.2,725.4 L400.8,737.8 L401.3,737.2 L401.9,734.0 L402.4,732.3 L403.0,728.2 L403.5,728.6 L404.1,733.1 L404.6,735.0 L405.2,734.7 L405.7,731.1 L406.3,728.0 L406.8,730.5 L407.4,737.6 L407.9,739.1 L408.5,732.0 L409.0,731.9 L409.6,739.3 L410.1,739.1 L410.7,736.4 L411.2,728.7 L411.8,730.5 L412.3,731.8 L412.9,732.7 L413.4,728.3 L414.0,738.1 L414.5,737.1 L415.1,734.6 L415.6,728.6 L416.2,733.1 L416.7,736.8 L417.3,727.0 L417.8,732.1 L418.4,733.8 L418.9,729.1 L419.5,732.4 L420.0,730.2 L420.6,734.6 L421.1,732.5 L421.7,732.2 L422.2,738.6 L422.8,736.1 L423.3,734.6 L423.9,725.2 L424.4,727.1 L425.0,735.1 L425.5,736.6 L426.1,733.8 L426.6,734.8 L427.2,729.2 L427.7,731.3 L428.3,728.3 L428.8,732.4 L429.4,730.1 L429.9,729.1 L430.5,734.0 L431.0,739.5 L431.6,729.4 L432.1,730.1 L432.7,736.4 L433.2,734.2 L433.8,740.7 L434.3,736.1 L434.9,734.2 L435.4,736.7 L436.0,741.9 L436.5,738.5 L437.1,736.2 L437.6,732.7 L438.2,725.0 L438.7,727.8 L439.3,735.7 L439.8,732.8 L440.4,728.7 L440.9,725.3 L441.5,721.5 L442.0,720.4 L442.6,719.3 L443.1,720.1 L443.7,720.5 L444.2,722.6 L444.8,725.9 L445.3,726.9 L445.9,731.3 L446.4,733.0 L447.0,734.6 L447.5,736.4 L448.1,725.4 L448.6,724.3 L449.2,734.1 L449.7,739.0 L450.3,742.4 L450.8,737.8 L451.4,734.7 L451.9,729.0 L452.5,734.4 L453.0,734.2 L453.6,727.2 L454.1,727.5 L454.7,732.4 L455.2,732.3 L455.8,722.6 L456.3,733.5 L456.9,737.9 L457.4,737.4 L458.0,739.6 L458.5,739.6 L459.1,734.9 L459.6,738.8 L460.2,736.3 L460.7,733.2 L461.3,738.4 L461.8,741.3 L462.4,728.6 L462.9,723.7 L463.5,726.8 L464.0,739.8 L464.6,733.7 L465.1,730.9 L465.7,727.5 L466.2,724.8 L466.8,722.2 L467.3,731.0 L467.9,731.4 L468.4,722.6 L469.0,724.5 L469.5,727.5 L470.1,731.0 L470.6,733.6 L471.2,737.5 L471.7,738.6 L472.3,737.1 L472.8,734.4 L473.4,723.4 L473.9,724.5 L474.5,731.1 L475.0,728.3 L475.6,723.5 L476.1,714.2 L476.7,715.3 L477.2,726.7 L477.8,727.5 L478.3,724.8 L478.9,722.9 L479.4,720.2 L480.0,729.9 L480.5,736.9 L481.1,739.7 L481.6,734.0 L482.2,731.0 L482.7,729.9 L483.3,740.1 L483.8,742.3 L484.4,733.2 L484.9,733.9 L485.5,732.6 L486.0,726.5 L486.6,718.9 L487.1,726.7 L487.7,730.6 L488.2,723.0 L488.8,720.6 L489.3,715.7 L489.9,732.7 L490.4,734.2 L491.0,731.3 L491.5,729.4 L492.1,728.3 L492.6,730.3 L493.2,730.0 L493.7,730.2 L494.3,731.3 L494.8,733.6 L495.4,736.5 L495.9,726.3 L496.5,729.3 L497.0,726.4 L497.6,721.5 L498.1,718.6 L498.7,728.7 L499.2,725.1 L499.8,725.9 L500.3,730.0 L500.9,726.0 L501.4,729.3 L502.0,731.4 L502.5,735.6 L503.1,735.6 L503.6,729.6 L504.2,734.3 L504.7,731.9 L505.3,731.2 L505.8,730.8 L506.4,732.3 L506.9,726.0 L507.5,731.2 L508.0,735.3 L508.6,732.6 L509.1,738.5 L509.7,730.3 L510.2,731.3 L510.8,729.9 L511.3,728.7 L511.9,727.8 L512.4,731.1 L513.0,733.8 L513.5,733.6 L514.1,741.5 L514.6,743.4 L515.2,733.6 L515.7,740.4 L516.3,740.5 L516.8,742.8 L517.4,751.5 L517.9,747.5 L518.5,742.2 L519.0,738.1 L519.6,730.8 L520.1,739.4 L520.7,736.8 L521.2,738.8 L521.8,740.0 L522.3,744.4 L522.9,748.2 L523.4,744.3 L524.0,741.8 L524.5,735.3 L525.1,735.9 L525.6,734.3 L526.2,727.4 L526.7,735.7 L527.3,725.1 L527.8,720.9 L528.4,731.3 L528.9,731.1 L529.5,717.5 L530.0,716.4 L530.6,725.1 L531.1,713.3 L531.7,704.6 L532.2,707.5 L532.8,710.5 L533.3,708.0 L533.9,707.1 L534.4,707.1 L535.0,706.9 L535.5,705.1 L536.1,702.6 L536.6,705.8 L537.2,703.2 L537.7,706.9 L538.3,713.2 L538.8,708.5 L539.4,703.4 L539.9,700.8 L540.5,699.7 L541.0,694.7 L541.6,686.2 L542.1,685.1 L542.7,683.6 L543.2,680.5 L543.8,679.4 L544.3,679.8 L544.9,679.8 L545.4,683.9 L546.0,692.4 L546.5,692.9 L547.1,692.9 L547.6,697.3 L548.2,703.2 L548.7,707.2 L549.3,709.3 L549.8,712.0 L550.4,721.4 L550.9,727.1 L551.5,721.2 L552.0,722.7 L552.6,728.7 L553.1,721.1 L553.7,723.0 L554.2,726.1 L554.8,728.7 L555.3,727.1 L555.9,725.6 L556.4,728.9 L557.0,723.4 L557.5,719.4 L558.1,721.0 L558.6,730.6 L559.2,725.5 L559.7,733.0 L560.3,736.8 L560.8,736.7 L561.4,732.2 L561.9,730.2 L562.5,731.9 L563.0,728.8 L563.6,727.8 L564.1,735.9 L564.7,732.0 L565.2,740.0 L565.8,736.1 L566.3,731.1 L566.9,734.6 L567.4,735.8 L568.0,725.3 L568.5,723.9 L569.1,724.8 L569.6,730.1 L570.2,731.9 L570.7,729.7 L571.3,726.3 L571.8,728.5 L572.4,736.6 L572.9,737.5 L573.5,731.9 L574.0,727.0 L574.6,734.0 L575.1,735.0 L575.7,736.5 L576.2,742.4 L576.8,738.4 L577.3,729.8 L577.9,730.8 L578.4,740.3 L579.0,738.9 L579.5,739.9 L580.1,735.7 L580.6,732.6 L581.2,739.0 L581.7,745.1 L582.3,739.7 L582.8,733.0 L583.4,735.0 L583.9,736.0 L584.5,739.8 L585.0,745.3 L585.6,748.3 L586.1,740.6 L586.7,735.8 L587.2,736.6 L587.8,735.6 L588.3,733.2 L588.9,733.7 L589.4,731.7 L590.0,727.3 L590.5,731.2 L591.1,726.9 L591.6,723.0 L592.2,725.6 L592.7,723.0 L593.3,727.4 L593.8,720.9 L594.4,713.8 L594.9,707.0 L595.5,705.3 L596.0,705.0 L596.6,699.1 L597.1,697.1 L597.7,692.0 L598.2,693.0 L598.8,692.9 L599.3,692.6 L599.9,693.2 L600.4,695.3 L601.0,694.1 L601.5,695.0 L602.1,701.6 L602.6,709.1 L603.2,710.2 L603.7,710.8 L604.3,715.5 L604.8,717.7 L605.4,711.7 L605.9,707.3 L606.5,714.7 L607.0,717.4 L607.6,721.7 L608.1,721.7 L608.7,725.2 L609.2,732.1 L609.8,732.9 L610.3,734.7 L610.9,740.4 L611.4,733.5 L612.0,733.6 L612.5,738.4 L613.1,729.0 L613.6,726.9 L614.2,737.7 L614.7,736.3 L615.3,735.8 L615.8,735.8 L616.4,734.9 L616.9,729.0 L617.5,727.7 L618.0,724.6 L618.6,729.0 L619.1,730.1 L619.7,728.5 L620.2,735.6 L620.8,742.7 L621.3,729.7 L621.9,734.5 L622.4,737.7 L623.0,736.7 L623.5,731.3 L624.1,737.8 L624.6,737.2 L625.2,733.4 L625.7,732.6 L626.3,736.0 L626.8,739.9 L627.4,742.2 L627.9,745.6 L628.5,737.1 L629.0,737.3 L629.6,735.2 L630.1,738.3 L630.7,735.8 L631.2,730.9 L631.8,727.3 L632.3,729.6 L632.9,735.3 L633.4,740.5 L634.0,736.7 L634.5,728.5 L635.1,730.0 L635.6,732.7 L636.2,732.8 L636.7,734.1 L637.3,736.6 L637.8,734.2 L638.4,728.7 L638.9,724.5 L639.5,728.3 L640.0,726.2 L640.6,731.5 L641.1,733.4 L641.7,728.8 L642.2,731.8 L642.8,734.6 L643.3,741.8 L643.9,736.1 L644.4,727.8 L645.0,734.4 L645.5,735.8 L646.1,733.1 L646.6,732.7 L647.2,736.3 L647.7,737.3 L648.3,735.4 L648.8,730.7 L649.4,731.4 L649.9,727.6 L650.5,727.9 L651.0,731.3 L651.6,731.2 L652.1,735.8 L652.7,745.2 L653.2,739.2 L653.8,731.0 L654.3,726.1 L654.9,729.1 L655.4,727.3 L656.0,726.6 L656.5,735.3 L657.1,734.4 L657.6,738.8 L658.2,746.4 L658.7,738.3 L659.3,735.2 L659.8,735.0 L660.4,732.3 L660.9,730.1 L661.5,732.7 L662.0,736.7 L662.6,732.0 L663.1,727.2 L663.7,726.9 L664.2,728.8 L664.8,732.9 L665.3,735.4 L665.9,736.3 L666.4,737.3 L667.0,733.9 L667.5,735.6 L668.1,734.9 L668.6,733.5 L669.2,728.0 L669.7,733.9 L670.3,727.8 L670.8,728.8 L671.4,734.8 L671.9,734.6 L672.5,739.7 L673.0,735.5 L673.6,731.5 L674.1,733.9 L674.7,734.5 L675.2,740.1 L675.8,740.8 L676.3,736.8 L676.9,732.5 L677.4,733.6 L678.0,735.3 L678.5,730.1 L679.1,729.8 L679.6,734.7 L680.2,734.8 L680.7,731.7 L681.3,729.6 L681.8,726.9 L682.4,734.1 L682.9,731.7 L683.5,727.1 L684.0,727.4 L684.6,730.3 L685.1,737.4 L685.7,734.9 L686.2,730.6 L686.8,738.1 L687.3,737.1 L687.9,728.7 L688.4,725.1 L689.0,733.2 L689.5,731.8 L690.1,731.8 L690.6,732.5 L691.2,737.6 L691.7,739.2 L692.3,737.2 L692.8,734.7 L693.4,735.8 L693.9,735.9 L694.5,732.5 L695.0,737.9 L695.6,736.3 L696.1,736.9 L696.7,737.7 L697.2,739.9 L697.8,741.6 L698.3,743.0 L698.9,736.6 L699.4,734.0 L700.0,735.7 L700.5,735.1 L701.1,737.1 L701.6,734.0 L702.2,735.5 L702.7,737.9 L703.3,737.7 L703.8,736.1 L704.4,738.3 L704.9,736.6 L705.5,730.0 L706.0,733.3 L706.6,733.9 L707.1,732.5 L707.7,732.0 L708.2,734.1 L708.8,735.8 L709.3,736.9 L709.9,739.8 L710.4,738.9 L711.0,734.8 L711.5,734.7 L712.1,738.0 L712.6,735.8 L713.2,737.4 L713.7,739.2 L714.3,740.6 L714.8,740.3 L715.4,741.1 L715.9,737.5 L716.5,738.3 L717.0,736.1 L717.6,737.2 L718.1,736.8 L718.7,732.8 L719.2,730.0 L719.8,737.6 L720.3,738.2 L720.9,736.7 L721.4,734.7 L722.0,735.7 L722.5,737.8 L723.1,738.1 L723.6,740.1 L724.2,737.7 L724.7,735.7 L725.3,738.0 L725.8,736.4 L726.4,736.5 L726.9,732.9 L727.5,736.1 L728.0,738.7 L728.6,736.7 L729.1,738.1 L729.7,739.8 L730.2,740.0 L730.8,742.7 L731.3,738.6 L731.9,737.3 L732.4,736.1 L733.0,731.5 L733.5,732.5 L734.1,737.3 L734.6,737.3 L735.2,740.1 L735.7,737.4 L736.3,737.0 L736.8,739.6 L737.4,739.4 L737.9,740.7 L738.5,735.8 L739.0,738.2 L739.6,739.8 L740.1,740.1 L740.7,741.6 L741.2,741.3 L741.8,738.5 L742.3,737.5 L742.9,740.6 L743.4,739.9 L744.0,742.0 L744.5,742.9 L745.1,739.6 L745.6,736.5 L746.2,738.0 L746.7,740.2 L747.3,739.0 L747.8,741.0 L748.4,738.8 L748.9,737.6 L749.5,735.8 L750.0,737.1 L750.6,739.3 L751.1,736.2 L751.7,734.8 L752.2,734.6 L752.8,736.6 L753.3,732.4 L753.9,734.2 L754.4,739.1 L755.0,740.5 L755.5,737.6 L756.1,737.9 L756.6,733.1 L757.2,737.8 L757.7,737.4 L758.3,732.8 L758.8,730.8 L759.4,733.5 L759.9,735.5 L760.5,735.2 L761.0,734.1 L761.6,734.6 L762.1,732.7 L762.7,727.3 L763.2,727.6 L763.8,728.0 L764.3,729.9 L764.9,727.0 L765.4,728.1 L766.0,727.0 L766.5,729.1 L767.1,723.1 L767.6,719.8 L768.2,717.4 L768.7,716.5 L769.3,716.6 L769.8,706.1 L770.4,697.0 L770.9,684.6 L771.5,671.5 L772.0,658.3 L772.6,650.1 L773.1,639.4 L773.7,626.9 L774.2,615.3 L774.8,603.3 L775.3,592.9 L775.9,586.1 L776.4,585.0 L777.0,589.3 L777.5,593.9 L778.1,598.8 L778.6,602.9 L779.2,610.0 L779.7,618.5 L780.3,626.7 L780.8,639.2 L781.4,646.0 L781.9,646.7 L782.5,647.6 L783.0,650.7 L783.6,646.9 L784.1,648.3 L784.7,650.8 L785.2,652.3 L785.8,653.7 L786.3,655.8 L786.9,656.5 L787.4,658.9 L788.0,661.3 L788.5,661.8 L789.1,662.8 L789.6,662.9 L790.2,665.3 L790.7,670.5 L791.3,676.3 L791.8,679.6 L792.4,684.3 L792.9,688.0 L793.5,690.5 L794.0,690.6 L794.6,696.6 L795.1,700.4 L795.7,705.2 L796.2,706.0 L796.8,708.3 L797.3,711.2 L797.9,713.7 L798.4,712.3 L799.0,715.9 L799.5,718.9 L800.1,721.5 L800.6,719.7 L801.2,722.5 L801.7,726.6 L802.3,724.0 L802.8,726.2 L803.4,725.3 L803.9,727.0 L804.5,730.0 L805.0,731.6 L805.6,729.3 L806.1,729.5 L806.7,735.2 L807.2,734.5 L807.8,735.8 L808.3,736.9 L808.9,736.4 L809.4,734.3 L810.0,733.5 L810.5,731.5 L811.1,734.7 L811.6,734.7 L812.2,736.8 L812.7,741.1 L813.3,739.3 L813.8,736.4 L814.4,734.1 L814.9,738.9 L815.5,740.8 L816.0,736.7 L816.6,737.9 L817.1,736.8 L817.7,737.2 L818.2,736.3 L818.8,734.1 L819.3,735.4 L819.9,735.3 L820.4,741.5 L821.0,741.8 L821.5,739.2 L822.1,738.7 L822.6,737.8 L823.2,737.2 L823.7,736.1 L824.3,734.2 L824.8,732.4 L825.4,728.8 L825.9,728.2 L826.5,728.9 L827.0,729.8 L827.6,729.5 L828.1,732.3 L828.7,727.6 L829.2,725.0 L829.8,724.3 L830.3,722.6 L830.9,720.1 L831.4,714.1 L832.0,707.2 L832.5,704.9 L833.1,704.0 L833.6,699.5 L834.2,695.2 L834.7,689.2 L835.3,683.1 L835.8,671.7 L836.4,667.7 L836.9,665.0 L837.5,664.0 L838.0,664.2 L838.6,665.6 L839.1,666.6 L839.7,664.5 L840.2,669.4 L840.8,676.5 L841.3,678.7 L841.9,676.2 L842.4,675.3 L843.0,671.7 L843.5,668.5 L844.1,666.8 L844.6,661.6 L845.2,651.6 L845.7,638.9 L846.3,626.8 L846.8,622.8 L847.4,622.7 L847.9,624.2 L848.5,625.7 L849.0,628.9 L849.6,633.2 L850.1,640.2 L850.7,648.1 L851.2,654.4 L851.8,660.3 L852.3,665.0 L852.9,673.3 L853.4,682.8 L854.0,687.7 L854.5,691.3 L855.1,691.5 L855.6,692.5 L856.2,693.8 L856.7,694.9 L857.3,694.4 L857.8,693.8 L858.4,695.9 L858.9,699.5 L859.5,699.3 L860.0,698.7 L860.6,700.0 L861.1,703.7 L861.7,706.3 L862.2,708.1 L862.8,707.7 L863.3,712.8 L863.9,717.2 L864.4,721.1 L865.0,724.9 L865.5,730.5 L866.1,733.7 L866.6,732.7 L867.2,731.5 L867.7,730.4 L868.3,733.7 L868.8,733.9 L869.4,733.9 L869.9,733.1 L870.5,733.0 L871.0,734.9 L871.6,738.0 L872.1,739.7 L872.7,738.4 L873.2,738.6 L873.8,737.6 L874.3,736.6 L874.9,734.9 L875.4,738.9 L876.0,739.8 L876.5,740.2 L877.1,736.2 L877.6,735.8 L878.2,733.8 L878.7,734.7 L879.3,734.0 L879.8,734.3 L880.4,732.9 L880.9,733.3 L881.5,731.7 L882.0,732.8 L882.6,731.3 L883.1,730.6 L883.7,731.7 L884.2,731.4 L884.8,727.3 L885.3,726.6 L885.9,729.5 L886.4,728.0 L887.0,722.8 L887.5,721.9 L888.1,723.4 L888.6,724.7 L889.2,723.4 L889.7,722.3 L890.3,720.3 L890.8,717.2 L891.4,707.2 L891.9,704.8 L892.5,701.1 L893.0,685.9 L893.6,677.3 L894.1,673.5 L894.7,657.9 L895.2,633.8 L895.8,608.1 L896.3,591.1 L896.9,570.0 L897.4,545.5 L898.0,532.3 L898.5,520.6 L899.1,510.7 L899.6,509.9 L900.2,519.5 L900.7,531.5 L901.3,545.4 L901.8,567.6 L902.4,592.5 L902.9,608.7 L903.5,624.4 L904.0,643.0 L904.6,658.3 L905.1,672.2 L905.7,679.8 L906.2,686.9 L906.8,693.4 L907.3,700.2 L907.9,705.6 L908.4,713.6 L909.0,715.6 L909.5,723.3 L910.1,725.3 L910.6,728.1 L911.2,728.0 L911.7,729.3 L912.3,731.3 L912.8,728.7 L913.4,726.5 L913.9,728.9 L914.5,729.1 L915.0,725.0 L915.6,731.4 L916.1,732.7 L916.7,728.2 L917.2,731.5 L917.8,734.2 L918.3,731.5 L918.9,732.8 L919.4,734.3 L920.0,737.1 L920.5,738.6 L921.1,736.9 L921.6,737.4 L922.2,739.7 L922.7,739.4 L923.3,739.1 L923.8,740.8 L924.4,736.8 L924.9,738.7 L925.5,738.6 L926.0,738.7 L926.6,740.3 L927.1,741.7 L927.7,746.0 L928.2,743.2 L928.8,742.4 L929.3,744.8 L929.9,742.6 L930.4,737.1 L931.0,740.3 L931.5,742.1 L932.1,740.1 L932.6,740.9 L933.2,740.2 L933.7,740.4 L934.3,736.1 L934.8,734.9 L935.4,737.9 L935.9,740.5 L936.5,742.0 L937.0,738.4 L937.6,736.9 L938.1,738.3 L938.7,737.3 L939.2,737.3 L939.8,735.2 L940.3,734.2 L940.9,734.4 L941.4,734.3 L942.0,733.7 L942.5,733.7 L943.1,733.8 L943.6,734.1 L944.2,734.1 L944.7,735.9 L945.3,736.5 L945.8,736.2 L946.4,735.2 L946.9,731.0 L947.5,730.9 L948.0,733.5 L948.6,735.6 L949.1,733.2 L949.7,735.1 L950.2,738.2 L950.8,741.6 L951.3,738.7 L951.9,737.1 L952.4,739.9 L953.0,738.8 L953.5,738.1 L954.1,739.8 L954.6,736.7 L955.2,737.7 L955.7,738.3 L956.3,738.6 L956.8,734.3 L957.4,733.1 L957.9,734.8 L958.5,735.5 L959.0,735.8 L959.6,735.3 L960.1,736.9 L960.7,737.6 L961.2,736.0 L961.8,734.0 L962.3,736.4 L962.9,732.3 L963.4,734.0 L964.0,735.9 L964.5,734.0 L965.1,737.3 L965.6,739.2 L966.2,738.1 L966.7,735.7 L967.3,735.7 L967.8,733.5 L968.4,735.1 L968.9,736.0 L969.5,735.9 L970.0,736.3 L970.6,735.2 L971.1,733.1 L971.7,737.7 L972.2,740.1 L972.8,743.5 L973.3,741.5 L973.9,740.0 L974.4,741.4 L975.0,740.9 L975.5,739.2 L976.1,737.3 L976.6,735.4 L977.2,738.6 L977.7,740.2 L978.3,733.4 L978.8,733.4 L979.4,735.5 L979.9,733.6 L980.5,731.1 L981.0,727.7 L981.6,727.4 L982.1,727.2 L982.7,726.9 L983.2,727.2 L983.8,727.6 L984.3,729.3 L984.9,728.9 L985.4,729.3 L986.0,730.8 L986.5,735.4 L987.1,733.8 L987.6,732.9 L988.2,730.2 L988.7,735.6 L989.3,734.9 L989.8,730.0 L990.4,730.6 L990.9,736.1 L991.5,733.7 L992.0,737.0 L992.6,732.5 L993.1,729.1 L993.7,735.4 L994.2,736.3 L994.8,736.0 L995.3,734.1 L995.9,734.9 L996.4,736.9 L997.0,733.3 L997.5,731.6 L998.1,736.2 L998.6,735.4 L999.2,737.4 L999.7,734.6 L1000.3,733.6 L1000.8,732.8 L1001.4,730.2 L1001.9,735.6 L1002.5,734.1 L1003.0,735.1 L1003.6,738.4 L1004.1,737.2 L1004.7,738.2 L1005.2,737.9 L1005.8,738.5 L1006.3,738.3 L1006.9,739.2 L1007.4,737.1 L1008.0,737.1 L1008.5,735.7 L1009.1,737.1 L1009.6,731.9 L1010.2,734.9 L1010.7,736.2 L1011.3,735.8 L1011.8,735.5 L1012.4,738.4 L1012.9,739.2 L1013.5,733.2 L1014.0,729.6 L1014.6,730.9 L1015.1,732.5 L1015.7,734.4 L1016.2,735.9 L1016.8,737.9 L1017.3,735.9 L1017.9,736.4 L1018.4,736.6 L1019.0,735.2 L1019.5,737.6 L1020.1,742.9 L1020.6,738.1 L1021.2,734.1 L1021.7,732.7 L1022.3,737.9 L1022.8,736.3 L1023.4,736.3 L1023.9,741.8 L1024.5,739.4 L1025.0,732.7 L1025.6,734.3 L1026.1,737.3 L1026.7,736.3 L1027.2,733.4 L1027.8,738.1 L1028.3,738.0 L1028.9,731.3 L1029.4,728.5 L1030.0,730.0 L1030.5,734.7 L1031.1,736.3 L1031.6,734.4 L1032.2,732.8 L1032.7,733.9 L1033.3,734.8 L1033.8,731.3 L1034.4,730.3 L1034.9,734.1 L1035.5,737.2 L1036.0,735.7 L1036.6,734.8 L1037.1,733.8 L1037.7,735.4 L1038.2,731.7 L1038.8,733.6 L1039.3,733.7 L1039.9,734.0 L1040.4,733.6 L1041.0,736.4 L1041.5,735.4 L1042.1,734.7 L1042.6,736.5 L1043.2,735.9 L1043.7,734.7 L1044.3,735.2 L1044.8,737.2 L1045.4,734.8 L1045.9,735.4 L1046.5,736.0 L1047.0,736.9 L1047.6,737.3 L1048.1,739.8 L1048.7,734.1 L1049.2,736.5 L1049.8,737.0 L1050.3,737.6 L1050.9,734.0 L1051.4,737.1 L1052.0,734.2 L1052.5,737.0 L1053.1,737.5 L1053.6,735.9 L1054.2,734.0 L1054.7,733.8 L1055.3,735.1 L1055.8,733.1 L1056.4,730.1 L1056.9,731.0 L1057.5,736.2 L1058.0,737.3 L1058.6,736.1 L1059.1,734.8 L1059.7,735.0 L1060.2,734.8 L1060.8,733.3 L1061.3,730.4 L1061.9,729.2 L1062.4,728.3 L1063.0,729.4 L1063.5,727.6 L1064.1,728.5 L1064.6,729.4 L1065.2,727.6 L1065.7,727.8 L1066.3,727.2 L1066.8,726.1 L1067.4,726.1 L1067.9,727.1 L1068.5,727.4 L1069.0,729.3 L1069.6,730.7 L1070.1,730.5 L1070.7,733.9 L1071.2,737.1 L1071.8,735.9 L1072.3,732.9 L1072.9,733.7 L1073.4,734.6 L1074.0,738.0 L1074.5,735.3 L1075.1,733.7 L1075.6,735.2 L1076.2,736.1 L1076.7,734.8 L1077.3,735.3 L1077.8,735.8 L1078.4,737.5 L1078.9,738.2 L1079.5,736.7 L1080.0,735.5 L1080.6,736.4 L1081.1,735.4 L1081.7,738.5 L1082.2,738.1 L1082.8,736.3 L1083.3,733.3 L1083.9,741.3 L1084.4,741.8 L1085.0,740.3 L1085.5,738.0 L1086.1,739.5 L1086.6,742.2 L1087.2,736.6 L1087.7,737.4 L1088.3,737.4 L1088.8,736.3 L1089.4,735.7 L1089.9,733.8 L1090.5,735.5 L1091.0,733.9 L1091.6,738.9 L1092.1,737.6 L1092.7,733.0 L1093.2,730.7 L1093.8,734.7 L1094.3,735.8 L1094.9,734.1 L1095.4,738.0 L1096.0,735.9 L1096.5,733.1 L1097.1,731.4 L1097.6,733.4 L1098.2,734.3 L1098.7,736.2 L1099.3,737.0 L1099.8,735.4 L1100.4,736.3 L1100.9,738.2 L1101.5,736.7 L1102.0,735.1 L1102.6,736.0 L1103.1,734.7 L1103.7,736.0 L1104.2,735.2 L1104.8,733.5 L1105.3,736.1 L1105.9,736.2 L1106.4,736.1 L1107.0,733.3 L1107.5,737.0 L1108.1,737.3 L1108.6,734.1 L1109.2,733.6 L1109.7,733.7 L1110.3,733.8 L1110.8,734.5 L1111.4,731.4 L1111.9,730.0 L1112.5,732.6 L1113.0,736.2 L1113.6,732.4 L1114.1,730.2 L1114.7,730.8 L1115.2,733.9 L1115.8,735.8 L1116.3,733.3 L1116.9,734.6 L1117.4,735.6 L1118.0,736.3 L1118.5,736.5 L1119.1,738.2 L1119.6,737.5 L1120.2,736.3 L1120.7,740.0 L1121.3,734.0 L1121.8,733.3 L1122.4,737.7 L1122.9,736.9 L1123.5,735.8 L1124.0,736.7 L1124.6,737.2 L1125.1,735.1 L1125.7,733.8 L1126.2,732.8 L1126.8,732.9 L1127.3,734.0 L1127.9,737.4 L1128.4,736.7 L1129.0,736.1 L1129.5,734.7 L1130.1,736.0 L1130.6,732.6 L1131.2,735.5 L1131.7,736.5 L1132.3,733.9 L1132.8,733.4 L1133.4,735.9 L1133.9,734.3 L1134.5,734.0 L1135.0,735.2 L1135.6,734.0 L1136.1,736.5 L1136.7,740.0 L1137.2,736.6 L1137.8,736.8 L1138.3,733.8 L1138.9,734.7 L1139.4,734.3 L1140.0,734.6 L1140.5,737.1 L1141.1,739.3 L1141.6,736.2 L1142.2,737.7 L1142.7,736.9 L1143.3,736.8 L1143.8,734.7 L1144.4,734.1 L1144.9,734.9 L1145.5,734.4 L1146.0,735.2 L1146.6,734.0 L1147.1,735.6 L1147.7,737.2 L1148.2,740.4 L1148.8,740.3 L1149.3,737.2 L1149.9,734.9 L1150.4,736.5 L1151.0,736.7 L1151.5,734.2 L1152.1,731.7 L1152.6,730.1 L1153.2,733.9 L1153.7,737.5 L1154.3,734.4 L1154.8,734.4 L1155.4,734.7 L1155.9,735.2 L1156.5,734.6 L1157.0,730.3 L1157.6,733.1 L1158.1,735.1 L1158.7,735.3 L1159.2,737.2 L1159.8,735.6 L1160.3,738.0 L1160.9,739.6 L1161.4,736.3 L1162.0,735.9 L1162.5,736.1 L1163.1,736.8 L1163.6,731.9 L1164.2,732.5 L1164.7,735.8 L1165.3,738.6 L1165.8,737.9 L1166.4,736.2 L1166.9,739.6 L1167.5,737.6 L1168.0,736.0 L1168.6,738.5 L1169.1,740.0 L1169.7,737.1 L1170.2,734.2 L1170.8,735.9 L1171.3,738.2 L1171.9,739.4 L1172.4,736.6 L1173.0,737.4 L1173.5,735.7 L1174.1,736.6 L1174.6,734.6 L1175.2,734.9 L1175.7,733.1 L1176.3,733.1 L1176.8,731.6 L1177.4,731.8 L1177.9,737.7 L1178.5,738.7 L1179.0,736.7 L1179.6,735.5 L1180.1,737.8 L1180.7,735.7 L1181.2,736.7 L1181.8,738.1 L1182.3,737.3 L1182.9,738.6 L1183.4,736.0 L1184.0,735.2 L1184.5,734.9 L1185.1,732.3 L1185.6,732.4 L1186.2,734.4 L1186.7,731.3 L1187.3,734.8 L1187.8,734.4 L1188.4,735.1 L1188.9,734.1 L1189.5,733.5 L1190.0,734.2 L1190.6,730.5 L1191.1,729.5 L1191.7,730.1 L1192.2,727.4 L1192.8,728.5 L1193.3,726.9 L1193.9,724.0 L1194.4,722.3 L1195.0,722.0 L1195.5,722.7 L1196.1,721.5 L1196.6,721.1 L1197.2,721.8 L1197.7,721.9 L1198.3,721.5 L1198.8,720.9 L1199.4,719.4 L1199.9,717.8 L1200.5,717.7 L1201.0,719.5 L1201.6,719.8 L1202.1,718.1 L1202.7,713.0 L1203.2,707.4 L1203.8,708.5 L1204.3,704.5 L1204.9,698.4 L1205.4,700.4 L1206.0,696.3 L1206.5,691.7 L1207.1,688.2 L1207.6,684.7 L1208.2,681.7 L1208.7,679.2 L1209.3,677.6 L1209.8,677.0 L1210.4,677.5 L1210.9,679.5 L1211.5,680.7 L1212.0,682.4 L1212.6,685.6 L1213.1,690.4 L1213.7,694.5 L1214.2,698.5 L1214.8,701.8 L1215.3,705.8 L1215.9,711.2 L1216.4,715.5 L1217.0,716.4 L1217.5,716.8 L1218.1,716.4 L1218.6,717.7 L1219.2,720.5 L1219.7,720.9 L1220.3,720.4 L1220.8,718.8 L1221.4,718.7 L1221.9,716.2 L1222.5,716.5 L1223.0,717.3 L1223.6,717.8 L1224.1,717.5 L1224.7,717.6 L1225.2,718.1 L1225.8,718.5 L1226.3,719.7 L1226.9,720.0 L1227.4,720.4 L1228.0,721.0 L1228.5,722.8 L1229.1,721.5 L1229.6,721.7 L1230.2,726.5 L1230.7,726.5 L1231.3,728.3 L1231.8,730.8 L1232.4,730.9 L1232.9,725.1 L1233.5,728.4 L1234.0,732.7 L1234.6,729.5 L1235.1,732.1 L1235.7,731.4 L1236.2,730.4 L1236.8,730.9 L1237.3,729.3 L1237.9,733.0 L1238.4,734.3 L1239.0,730.0 L1239.5,731.3 L1240.1,735.0 L1240.6,734.2 L1241.2,733.5 L1241.7,735.4 L1242.3,731.2 L1242.8,732.9 L1243.4,734.5 L1243.9,734.7 L1244.5,735.8 L1245.0,732.5 L1245.6,734.4 L1246.1,734.6 L1246.7,738.0 L1247.2,737.6 L1247.8,733.7 L1248.3,732.5 L1248.9,733.8 L1249.4,732.6 L1250.0,733.1 L1250.5,734.7 L1251.1,734.5 L1251.6,737.6 L1252.2,735.1 L1252.7,733.0 L1253.3,732.1 L1253.8,734.1 L1254.4,737.6 L1254.9,738.1 L1255.5,739.9 L1256.0,740.1 L1256.6,738.3 L1257.1,736.1 L1257.7,736.9 L1258.2,737.0 L1258.8,734.9 L1259.3,737.4 L1259.9,736.2 L1260.4,737.3 L1261.0,737.4 L1261.5,740.3 L1262.1,742.9 L1262.6,736.9 L1263.2,738.2 L1263.7,741.2 L1264.3,736.5 L1264.8,736.3 L1265.4,736.8 L1265.9,736.5 L1266.5,733.7 L1267.0,736.4 L1267.6,738.8 L1268.1,741.4 L1268.7,737.0 L1269.2,735.2 L1269.8,735.2 L1270.3,731.8 L1270.9,737.1 L1271.4,740.3 L1272.0,738.1 L1272.5,737.4 L1273.1,737.4 L1273.6,737.5 L1274.2,736.5 L1274.7,740.3 L1275.3,737.7 L1275.8,737.8 L1276.4,741.1 L1276.9,738.7 L1277.5,738.1 L1278.0,741.3 L1278.6,740.0 L1279.1,740.2 L1279.7,737.2 L1280.2,735.3 L1280.8,739.2 L1281.3,741.8 L1281.9,739.1 L1282.4,739.9 L1283.0,740.6 L1283.5,739.5 L1284.1,739.0 L1284.6,739.7 L1285.2,738.2 L1285.7,736.8 L1286.3,739.0 L1286.8,738.7 L1287.4,737.6 L1287.9,736.1 L1288.5,730.9 L1289.0,734.7 L1289.6,734.6 L1290.1,732.5 L1290.7,738.6 L1291.2,737.0 L1291.8,734.8 L1292.3,735.0 L1292.9,736.3 L1293.4,735.5 L1294.0,733.0 L1294.5,735.1 L1295.1,737.4 L1295.6,738.3 L1296.2,737.8 L1296.7,734.2 L1297.3,734.3 L1297.8,735.7 L1298.4,734.3 L1298.9,734.4 L1299.5,733.1 L1300.0,734.7 L1300.6,734.3 L1301.1,734.5 L1301.7,733.2 L1302.2,731.0 L1302.8,730.4 L1303.3,732.4 L1303.9,731.3 L1304.4,729.9 L1305.0,731.9 L1305.5,735.2 L1306.1,736.5 L1306.6,736.0 L1307.2,736.1 L1307.7,733.1 L1308.3,732.3 L1308.8,731.0 L1309.4,732.1 L1309.9,736.2 L1310.5,735.3 L1311.0,736.2 L1311.6,739.8 L1312.1,738.2 L1312.7,733.5 L1313.2,735.0 L1313.8,733.5 L1314.3,734.7 L1314.9,730.6 L1315.4,731.1 L1316.0,733.0 L1316.5,736.8 L1317.1,732.4 L1317.6,736.0 L1318.2,736.8 L1318.7,735.1 L1319.3,736.7 L1319.8,739.1 L1320.4,735.0 L1320.9,733.4 L1321.5,735.7 L1322.0,734.2 L1322.6,730.7 L1323.1,732.1 L1323.7,732.0 L1324.2,729.2 L1324.8,728.8 L1325.3,728.9 L1325.9,728.6 L1326.4,731.2 L1327.0,730.2 L1327.5,725.9 L1328.1,728.2 L1328.6,729.2 L1329.2,727.0 L1329.7,728.4 L1330.3,729.0 L1330.8,726.3 L1331.4,727.0 L1331.9,725.7 L1332.5,729.0 L1333.0,727.9 L1333.6,727.1 L1334.1,727.2 L1334.7,727.7 L1335.2,728.4 L1335.8,728.0 L1336.3,727.7 L1336.9,727.3 L1337.4,726.3 L1338.0,727.6 L1338.5,724.3 L1339.1,727.8 L1339.6,726.6 L1340.2,727.5 L1340.7,728.7 L1341.3,729.0 L1341.8,726.4 L1342.4,728.9 L1342.9,728.8 L1343.5,728.7 L1344.0,729.5 L1344.6,732.3 L1345.1,732.6 L1345.7,734.1 L1346.2,733.0 L1346.8,728.7 L1347.3,731.8 L1347.9,734.2 L1348.4,731.1 L1349.0,728.6 L1349.5,729.3 L1350.1,736.0 L1350.6,733.1 L1351.2,733.4 L1351.7,732.4 L1352.3,735.4 L1352.8,737.1 L1353.4,732.5 L1353.9,733.5 L1354.5,732.5 L1355.0,730.6 L1355.6,732.6 L1356.1,735.5 L1356.7,738.3 L1357.2,738.4 L1357.8,735.2 L1358.3,732.5 L1358.9,735.8 L1359.4,735.5 L1360.0,734.5 L1360.5,732.7 L1361.1,735.0 L1361.6,739.3 L1362.2,739.2 L1362.7,738.3 L1363.3,736.5 L1363.8,734.4 L1364.4,734.8 L1364.9,735.4 L1365.5,735.7 L1366.0,734.3 L1366.6,734.1 L1367.1,737.1 L1367.7,736.0 L1368.2,737.3 L1368.8,736.6 L1369.3,737.9 L1369.9,738.3 L1370.4,738.8 L1371.0,738.3 L1371.5,735.1 L1372.1,734.4 L1372.6,737.7 L1373.2,740.5 L1373.7,736.6 L1374.3,736.7 L1374.8,741.0 L1375.4,735.6 L1375.9,735.7 L1376.5,736.3 L1377.0,735.9 L1377.6,736.6 L1378.1,739.5 L1378.7,738.6 L1379.2,737.3 L1379.8,735.0 L1380.3,738.4 L1380.9,738.3 L1381.4,738.2 L1382.0,739.1 L1382.5,738.0 L1383.1,737.0 L1383.6,736.8 L1384.2,734.3 L1384.7,732.7 L1385.3,732.4 L1385.8,735.4 L1386.4,733.4 L1386.9,734.3 L1387.5,736.6 L1388.0,737.2 L1388.6,733.6 L1389.1,733.6 L1389.7,733.2 L1390.2,731.1 L1390.8,733.8 L1391.3,739.3 L1391.9,736.5 L1392.4,738.4 L1393.0,738.0 L1393.5,739.3 L1394.1,738.5 L1394.6,735.4 L1395.2,733.3 L1395.7,737.2 L1396.3,736.8 L1396.8,736.1 L1397.4,735.7 L1397.9,733.1 L1398.5,733.9 L1399.0,733.4 L1399.6,730.7 L1400.1,731.2 L1400.7,732.6 L1401.2,730.8 L1401.8,735.6 L1402.3,737.0 L1402.9,735.8 L1403.4,735.4 L1404.0,732.7 L1404.5,736.0 L1405.1,738.0 L1405.6,738.2 L1406.2,738.5 L1406.7,737.9 L1407.3,740.7 L1407.8,739.1 L1408.4,739.3 L1408.9,739.2 L1409.5,735.8 L1410.0,735.2 L1410.6,737.6 L1411.1,734.9 L1411.7,735.8 L1412.2,737.9 L1412.8,734.6 L1413.3,733.5 L1413.9,732.9 L1414.4,734.4 L1415.0,739.3 L1415.5,738.3 L1416.1,737.1 L1416.6,731.6 L1417.2,729.9 L1417.7,733.0 L1418.3,737.6 L1418.8,737.2 L1419.4,731.2 L1419.9,730.9 L1420.5,735.0 L1421.0,735.1 L1421.6,735.1 L1422.1,734.7 L1422.7,732.2 L1423.2,733.4 L1423.8,734.2 L1424.3,736.5 L1424.9,734.1 L1425.4,732.4 L1426.0,738.4 L1426.5,741.1 L1427.1,739.7 L1427.6,737.0 L1428.2,736.5 L1428.7,739.3 L1429.3,738.0 L1429.8,739.4 L1430.4,739.9 L1430.9,737.3 L1431.5,734.4 L1432.0,737.4 L1432.6,735.3 L1433.1,734.0 L1433.7,736.5 L1434.2,737.3 L1434.8,737.1 L1435.3,737.0 L1435.9,733.6 L1436.4,737.3 L1437.0,739.4 L1437.5,736.2 L1438.1,734.4 L1438.6,735.1 L1439.2,736.7 L1439.7,733.9 L1440.3,731.2 L1440.8,730.1 L1441.4,734.9 L1441.9,735.2 L1442.5,733.1 L1443.0,734.7 L1443.6,731.3 L1444.1,730.9 L1444.7,727.6 L1445.2,727.4 L1445.8,729.2 L1446.3,730.2 L1446.9,729.4 L1447.4,726.2 L1448.0,725.5 L1448.5,725.2 L1449.1,723.7 L1449.6,722.5 L1450.2,722.5 L1450.7,719.9 L1451.3,713.5 L1451.8,714.0 L1452.4,710.0 L1452.9,705.9 L1453.5,702.1 L1454.0,698.4 L1454.6,692.8 L1455.1,685.8 L1455.7,683.0 L1456.2,677.9 L1456.8,675.1 L1457.3,672.3 L1457.9,670.5 L1458.4,670.6 L1459.0,671.5 L1459.5,673.5 L1460.1,677.9 L1460.6,680.6 L1461.2,684.2 L1461.7,690.7 L1462.3,693.4 L1462.8,696.3 L1463.4,698.5 L1463.9,706.1 L1464.5,711.9 L1465.0,715.8 L1465.6,715.1 L1466.1,720.1 L1466.7,723.7 L1467.2,724.4 L1467.8,723.9 L1468.3,723.0 L1468.9,726.6 L1469.4,726.7 L1470.0,726.3 L1470.5,730.5 L1471.1,730.9 L1471.6,732.0 L1472.2,735.3 L1472.7,731.5 L1473.3,727.9 L1473.8,728.5 L1474.4,733.4 L1474.9,733.3 L1475.5,731.6 L1476.0,729.7 L1476.6,731.3 L1477.1,731.8 L1477.7,733.1 L1478.2,732.0 L1478.8,731.7 L1479.3,732.5 L1479.9,731.7 L1480.4,731.4 L1481.0,725.9 L1481.5,729.0 L1482.1,733.9 L1482.6,732.6 L1483.2,730.3 L1483.7,731.3 L1484.3,731.3 L1484.8,732.5 L1485.4,735.3 L1485.9,733.4 L1486.5,733.5 L1487.0,732.1 L1487.6,731.7 L1488.1,730.9 L1488.7,732.4 L1489.2,733.4 L1489.8,733.9 L1490.3,734.7 L1490.9,735.1 L1491.4,735.7 L1492.0,735.0 L1492.5,737.0 L1493.1,736.7 L1493.6,737.0 L1494.2,735.3 L1494.7,736.4 L1495.3,734.2 L1495.8,731.3 L1496.4,733.5 L1496.9,733.4 L1497.5,731.4 L1498.0,731.9 L1498.6,734.3 L1499.1,738.9 L1499.7,737.5 L1500.2,739.1 L1500.8,738.5 L1501.3,738.5 L1501.9,737.2 L1502.4,734.4 L1503.0,737.5 L1503.5,735.5 L1504.1,736.9 L1504.6,737.5 L1505.2,740.2 L1505.7,740.4 L1506.3,740.7 L1506.8,738.3 L1507.4,737.0 L1507.9,738.7 L1508.5,740.9 L1509.0,737.8 L1509.6,735.4 L1510.1,732.9 L1510.7,733.3 L1511.2,734.8 L1511.8,736.2 L1512.3,736.0 L1512.9,734.6 L1513.4,735.2 L1514.0,737.8 L1514.5,738.6 L1515.1,737.7 L1515.6,737.9 L1516.2,737.9 L1516.7,737.6 L1517.3,732.8 L1517.8,733.3 L1518.4,735.3 L1518.9,736.6 L1519.5,737.3 L1520.0,733.3 L1520.6,735.8 L1521.1,736.8 L1521.7,735.8 L1522.2,737.1 L1522.8,739.4 L1523.3,739.0 L1523.9,738.0 L1524.4,738.2 L1525.0,738.3 L1525.5,739.5 L1526.1,738.4 L1526.6,739.0 L1527.2,736.7 L1527.7,736.2 L1528.3,734.5 L1528.8,735.8 L1529.4,736.9 L1529.9,734.1 L1530.5,734.4 L1531.0,735.2 L1531.6,735.0 L1532.1,736.0 L1532.7,733.8 L1533.2,736.9 L1533.8,739.0 L1534.3,739.2 L1534.9,736.2 L1535.4,734.0 L1536.0,733.5 L1536.5,737.4 L1537.1,738.5 L1537.6,737.8 L1538.2,737.8 L1538.7,738.0 L1539.3,735.9 L1539.8,733.6 L1540.4,733.5 L1540.9,734.6 L1541.5,734.4 L1542.0,733.6 L1542.6,735.1 L1543.1,735.3 L1543.7,737.7 L1544.2,737.4 L1544.8,737.7 L1545.3,734.3 L1545.9,733.5 L1546.4,733.5 L1547.0,737.7 L1547.5,742.2 L1548.1,738.1 L1548.6,736.0 L1549.2,736.8 L1549.7,737.2 L1550.3,738.5 L1550.8,737.0 L1551.4,734.7 L1551.9,733.6 L1552.5,737.5 L1553.0,739.2 L1553.6,737.5 L1554.1,735.5 L1554.7,735.8 L1555.2,736.5 L1555.8,737.7 L1556.3,737.3 L1556.9,738.4 L1557.4,736.2 L1558.0,735.7 L1558.5,738.5 L1559.1,734.6 L1559.6,734.8 L1560.2,739.1 L1560.7,737.8 L1561.3,737.8 L1561.8,732.8 L1562.4,737.0 L1562.9,736.7 L1563.5,736.7 L1564.0,736.2 L1564.6,731.7 L1565.1,734.3 L1565.7,738.8 L1566.2,742.6 L1566.8,738.3 L1567.3,741.3 L1567.9,739.9 L1568.4,739.0 L1569.0,736.3 L1569.5,737.5 L1570.1,735.4 L1570.6,735.2 L1571.2,738.4 L1571.7,736.1 L1572.3,736.1 L1572.8,737.6 L1573.4,735.3 L1573.9,734.5 L1574.5,737.0 L1575.0,738.2 L1575.6,739.2 L1576.1,736.0 L1576.7,737.9 L1577.2,738.1 L1577.8,736.1 L1578.3,736.0 L1578.9,735.9 L1579.4,733.9 L1580.0,733.7 L1580.5,736.3 L1581.1,734.0 L1581.6,734.2 L1582.2,736.7 L1582.7,735.2 L1583.3,734.5 L1583.8,733.1 L1584.4,733.0 L1584.9,733.1 L1585.5,734.4 L1586.0,738.2 L1586.6,735.2 L1587.1,732.7 L1587.7,735.1 L1588.2,738.1 L1588.8,736.2 L1589.3,736.8 L1589.9,735.3 L1590.4,733.8 L1591.0,735.1 L1591.5,735.1 L1592.1,736.9 L1592.6,737.8 L1593.2,737.6 L1593.7,740.2 L1594.3,736.0 L1594.8,738.0 L1595.4,737.9 L1595.9,738.8 L1596.5,736.6 L1597.0,732.3 L1597.6,735.0 L1598.1,737.7 L1598.7,735.9 L1599.2,733.5 L1599.8,734.4 L1600.3,736.5 L1600.9,737.4 L1601.4,734.7 L1602.0,734.4 L1602.5,732.5 L1603.1,731.7 L1603.6,733.3 L1604.2,736.3 L1604.7,735.4 L1605.3,733.5 L1605.8,733.7 L1606.4,734.5 L1606.9,733.6 L1607.5,732.9 L1608.0,733.6 L1608.6,734.9 L1609.1,734.2 L1609.7,734.8 L1610.2,731.4 L1610.8,732.4 L1611.3,733.9 L1611.9,735.2 L1612.4,733.2 L1613.0,733.5 L1613.5,734.8 L1614.1,734.0 L1614.6,732.7 L1615.2,732.4 L1615.7,731.9 L1616.3,734.1 L1616.8,734.0 L1617.4,734.9 L1617.9,736.7 L1618.5,735.1 L1619.0,733.0 L1619.6,732.5 L1620.1,735.0 L1620.7,732.0 L1621.2,730.3 L1621.8,731.4 L1622.3,729.1 L1622.9,726.3 L1623.4,725.8 L1624.0,725.5 L1624.5,720.7 L1625.1,716.8 L1625.6,711.8 L1626.2,709.0 L1626.7,707.0 L1627.3,702.3 L1627.8,698.6 L1628.4,695.6 L1628.9,691.5 L1629.5,689.2 L1630.0,686.4 L1630.6,685.3 L1631.1,685.3 L1631.7,685.9 L1632.2,688.2 L1632.8,690.7 L1633.3,694.2 L1633.9,695.7 L1634.4,700.4 L1635.0,704.6 L1635.5,706.0 L1636.1,707.8 L1636.6,709.1 L1637.2,717.1 L1637.7,718.7 L1638.3,721.1 L1638.8,722.1 L1639.4,724.3 L1639.9,724.7 L1640.5,728.3 L1641.0,729.0 L1641.6,729.2 L1642.1,730.2 L1642.7,728.3 L1643.2,730.8 L1643.8,731.8 L1644.3,734.8 L1644.9,734.4 L1645.4,732.9 L1646.0,734.0 L1646.5,738.0 L1647.1,734.3 L1647.6,737.3 L1648.2,737.0 L1648.7,735.5 L1649.3,732.2 L1649.8,735.1 L1650.4,733.9 L1650.9,733.2 L1651.5,734.9 L1652.0,733.8 L1652.6,734.6 L1653.1,733.2 L1653.7,734.9 L1654.2,734.7 L1654.8,732.5 L1655.3,731.9 L1655.9,732.4 L1656.4,732.8 L1657.0,733.9 L1657.5,737.3 L1658.1,735.7 L1658.6,733.8 L1659.2,733.3 L1659.7,732.8 L1660.3,734.2 L1660.8,733.6 L1661.4,732.3 L1661.9,732.0 L1662.5,732.2 L1663.0,731.7 L1663.6,732.9 L1664.1,732.4 L1664.7,734.2 L1665.2,733.8 L1665.8,734.6 L1666.3,732.7 L1666.9,730.5 L1667.4,731.4 L1668.0,733.6 L1668.5,735.1 L1669.1,735.5 L1669.6,735.7 L1670.2,735.9 L1670.7,735.5 L1671.3,735.3 L1671.8,734.7 L1672.4,735.5 L1672.9,734.9 L1673.5,735.0 L1674.0,736.5 L1674.6,738.8 L1675.1,734.1 L1675.7,734.5 L1676.2,735.7 L1676.8,736.9 L1677.3,737.2 L1677.9,738.4 L1678.4,735.2 L1679.0,738.1 L1679.5,734.6 L1680.1,734.6 L1680.6,736.5 L1681.2,736.0 L1681.7,735.5 L1682.3,735.6 L1682.8,736.3 L1683.4,737.0 L1683.9,735.6 L1684.5,732.9 L1685.0,733.9 L1685.6,737.8 L1686.1,739.2 L1686.7,737.9 L1687.2,737.5 L1687.8,737.2 L1688.3,738.8 L1688.9,735.4 L1689.4,734.6 L1690.0,735.1 L1690.5,738.0 L1691.1,736.0 L1691.6,736.2 L1692.2,733.6 L1692.7,733.7 L1693.3,737.5 L1693.8,738.1 L1694.4,737.9 L1694.9,736.7 L1695.5,735.5 L1696.0,734.8 L1696.6,733.8 L1697.1,735.4 L1697.7,737.9 L1698.2,735.7 L1698.8,733.7 L1699.3,734.8 L1699.9,734.0 L1700.4,734.0 L1701.0,735.4 L1701.5,734.6 L1702.1,734.8 L1702.6,739.2 L1703.2,740.1 L1703.7,738.2 L1704.3,738.9 L1704.8,736.5 L1705.4,736.9 L1705.9,738.8 L1706.5,737.8 L1707.0,736.8 L1707.6,732.4 L1708.1,735.5 L1708.7,735.7 L1709.2,735.4 L1709.8,733.6 L1710.3,734.8 L1710.9,737.4 L1711.4,738.1 L1712.0,738.6 L1712.5,739.0 L1713.1,739.3 L1713.6,738.1 L1714.2,736.8 L1714.7,736.2 L1715.3,736.1 L1715.8,735.2 L1716.4,735.3 L1716.9,735.7 L1717.5,732.9 L1718.0,733.6 L1718.6,735.0 L1719.1,737.2 L1719.7,738.0 L1720.2,736.4 L1720.8,734.9 L1721.3,734.2 L1721.9,735.8 L1722.4,734.6 L1723.0,731.9 L1723.5,731.7 L1724.1,732.0 L1724.6,731.5 L1725.2,730.0 L1725.7,730.4 L1726.3,729.5 L1726.8,728.6 L1727.4,728.4 L1727.9,728.3 L1728.5,728.5 L1729.0,729.9 L1729.6,732.1 L1730.1,733.2 L1730.7,732.4 L1731.2,731.8 L1731.8,732.1 L1732.3,733.7 L1732.9,733.6 L1733.4,735.1 L1734.0,734.7 L1734.5,734.9 L1735.1,734.9 L1735.6,738.5 L1736.2,737.8 L1736.7,735.6 L1737.3,734.4 L1737.8,736.5 L1738.4,736.8 L1738.9,734.5 L1739.5,736.5 L1740.0,739.4 L1740.6,737.0 L1741.1,735.7 L1741.7,737.5 L1742.2,738.8 L1742.8,735.6 L1743.3,734.6 L1743.9,734.9 L1744.4,735.7 L1745.0,737.1 L1745.5,735.0 L1746.1,731.5 L1746.6,734.5 L1747.2,735.4 L1747.7,735.6 L1748.3,734.9 L1748.8,734.3 L1749.4,734.7 L1749.9,732.7 L1750.5,731.2 L1751.0,732.7 L1751.6,733.1 L1752.1,736.5 L1752.7,735.4 L1753.2,736.2 L1753.8,732.3 L1754.3,732.0 L1754.9,733.7 L1755.4,731.3 L1756.0,731.5 L1756.5,730.7 L1757.1,732.8 L1757.6,730.8 L1758.2,731.6 L1758.7,730.3 L1759.3,733.1 L1759.8,734.2 L1760.4,732.2 L1760.9,730.2 L1761.5,731.6 L1762.0,732.2 L1762.6,731.3 L1763.1,731.1 L1763.7,730.3 L1764.2,726.3 L1764.8,723.0 L1765.3,720.5 L1765.9,719.0 L1766.4,716.4 L1767.0,713.7 L1767.5,712.8 L1768.1,711.6 L1768.6,705.9 L1769.2,703.0 L1769.7,700.8 L1770.3,698.9 L1770.8,698.3 L1771.4,696.8 L1771.9,696.2 L1772.5,695.9 L1773.0,696.8 L1773.6,697.7 L1774.1,698.6 L1774.7,702.4 L1775.2,705.5 L1775.8,707.5 L1776.3,709.8 L1776.9,711.2 L1777.4,715.6 L1778.0,717.1 L1778.5,719.8 L1779.1,722.2 L1779.6,723.4 L1780.2,723.6 L1780.7,726.0 L1781.3,727.8 L1781.8,729.7 L1782.4,728.9 L1782.9,731.4 L1783.5,732.0 L1784.0,732.5 L1784.6,735.3 L1785.1,734.3 L1785.7,732.5 L1786.2,733.2 L1786.8,732.0 L1787.3,731.3 L1787.9,732.2 L1788.4,733.4 L1789.0,736.4 L1789.5,734.5 L1790.1,730.0 L1790.6,731.9 L1791.2,732.1 L1791.7,732.7 L1792.3,733.3 L1792.8,733.2 L1793.4,733.2 L1793.9,732.2 L1794.5,734.3 L1795.0,733.1 L1795.6,733.8 L1796.1,732.2 L1796.7,731.6 L1797.2,729.8 L1797.8,731.2 L1798.3,729.5 L1798.9,727.3 L1799.4,726.7 L1800.0,724.8 L1800.5,721.2 L1801.1,719.8 L1801.6,718.6 L1802.2,717.9 L1802.7,717.1 L1803.3,716.9 L1803.8,717.3 L1804.4,718.1 L1804.9,717.8 L1805.5,720.7 L1806.0,723.8 L1806.6,722.2 L1807.1,722.8 L1807.7,724.9 L1808.2,728.2 L1808.8,729.2 L1809.3,733.1 L1809.9,732.0 L1810.4,731.5 L1811.0,732.0 L1811.5,735.3 L1812.1,736.8 L1812.6,736.5 L1813.2,738.2 L1813.7,738.5 L1814.3,737.2 L1814.8,736.2 L1815.4,735.4 L1815.9,736.1 L1816.5,736.0 L1817.0,738.2 L1817.6,737.3 L1818.1,735.4 L1818.7,734.9 L1819.2,736.2 L1819.8,737.2 L1820.3,736.5 L1820.9,736.8 L1821.4,735.1 L1822.0,735.8 L1822.5,736.5 L1823.1,736.1 L1823.6,736.4 L1824.2,737.1 L1824.7,736.2 L1825.3,736.7 L1825.8,735.2 L1826.4,735.8 L1826.9,734.9 L1827.5,735.0 L1828.0,736.8 L1828.6,737.7 L1829.1,736.0 L1829.7,736.3 L1830.2,737.6 L1830.8,735.6 L1831.3,736.8 L1831.9,734.2 L1832.4,733.3 L1833.0,736.3 L1833.5,736.3 L1834.1,735.1 L1834.6,733.3 L1835.2,736.6 L1835.7,736.2 L1836.3,735.2 L1836.8,736.2 L1837.4,735.1 L1837.9,735.2 L1838.5,735.8 L1839.0,737.8 L1839.6,737.1 L1840.1,737.7 L1840.7,734.7 L1841.2,734.1 L1841.8,737.0 L1842.3,734.1 L1842.9,735.8 L1843.4,733.8 L1844.0,735.0 L1844.5,734.4 L1845.1,737.5 L1845.6,738.8 L1846.2,737.6 L1846.7,736.3 L1847.3,735.7 L1847.8,738.0 L1848.4,739.8 L1848.9,736.5 L1849.5,735.8 L1850.0,739.2 L1850.6,737.7 L1851.1,738.0 L1851.7,737.5 L1852.2,737.0 L1852.8,736.0 L1853.3,735.3 L1853.9,733.3 L1854.4,734.1 L1855.0,734.8 L1855.5,737.2 L1856.1,736.0 L1856.6,735.5 L1857.2,733.8 L1857.7,736.4 L1858.3,738.9 L1858.8,737.8 L1859.4,738.0 L1859.9,736.5 L1860.5,736.2 L1861.0,737.9 L1861.6,736.2 L1862.1,735.1 L1862.7,736.1 L1863.2,736.5 L1863.8,738.4 L1864.3,737.6 L1864.9,734.9 L1865.4,736.3 L1866.0,734.8 L1866.5,736.6 L1867.1,737.4 L1867.6,735.9 L1868.2,736.1 L1868.7,737.6 L1869.3,736.3 L1869.8,735.8 L1870.4,739.3 L1870.9,739.1 L1871.5,738.2 L1872.0,738.0 L1872.6,738.6 L1873.1,737.6 L1873.7,738.0 L1874.2,737.0 L1874.8,735.8 L1875.3,737.5 L1875.9,736.3 L1876.4,734.5 L1877.0,733.9 L1877.5,731.4 L1878.1,731.9 L1878.6,733.4 L1879.2,736.9 L1879.7,738.0 L1880.3,738.8 L1880.8,738.6 L1881.4,739.7 L1881.9,737.0 L1882.5,735.8 L1883.0,735.8 L1883.6,737.1 L1884.1,736.1 L1884.7,735.5 L1885.2,736.2 L1885.8,736.8 L1886.3,735.4 L1886.9,736.8 L1887.4,738.0 L1888.0,740.0 L1888.5,738.0 L1889.1,736.0 L1889.6,737.9 L1890.2,738.0 L1890.7,735.3 L1891.3,733.7 L1891.8,738.3 L1892.4,738.2 L1892.9,737.3 L1893.5,738.4 L1894.0,740.9 L1894.6,741.2 L1895.1,738.8 L1895.7,740.3 L1896.2,738.6 L1896.8,738.0 L1897.3,737.7 L1897.9,737.5 L1898.4,737.1 L1899.0,736.3 L1899.5,736.5 L1900.1,735.6 L1900.6,736.8 L1901.2,735.8 L1901.7,736.5 L1902.3,735.2 L1902.8,733.4 L1903.4,736.6 L1903.9,736.1 L1904.5,735.1 L1905.0,735.3 L1905.6,737.5 L1906.1,735.8 L1906.7,736.6 L1907.2,735.5 L1907.8,734.0 L1908.3,735.8 L1908.9,734.2 L1909.4,736.5 L1910.0,737.3 L1910.5,736.9 L1911.1,736.4 L1911.6,739.4 L1912.2,739.8 L1912.7,736.2 L1913.3,736.7 L1913.8,739.0 L1914.4,737.1 L1914.9,737.6 L1915.5,735.3 L1916.0,735.3 L1916.6,736.7 L1917.1,736.6 L1917.7,734.0 L1918.2,734.4 L1918.8,737.1 L1919.3,738.5 L1919.9,737.6 L1920.4,737.0 L1921.0,736.4 L1921.5,734.6 L1922.1,736.4 L1922.6,737.5 L1923.2,736.6 L1923.7,734.1 L1924.3,734.5 L1924.8,736.8 L1925.4,734.1 L1925.9,734.8 L1926.5,738.0 L1927.0,735.5 L1927.6,735.5 L1928.1,737.7 L1928.7,738.1 L1929.2,736.4 L1929.8,734.6 L1930.3,735.7 L1930.9,736.6 L1931.4,735.2 L1932.0,735.5 L1932.5,738.4 L1933.1,738.2 L1933.6,738.4 L1934.2,737.9 L1934.7,735.8 L1935.3,737.6 L1935.8,739.0 L1936.4,737.9 L1936.9,735.0 L1937.5,734.0 L1938.0,735.5 L1938.6,737.4 L1939.1,736.9 L1939.7,736.7 L1940.2,735.3 L1940.8,737.1 L1941.3,736.1 L1941.9,737.7 L1942.4,735.6 L1943.0,731.9 L1943.5,734.5 L1944.1,734.5 L1944.6,734.6 L1945.2,736.0 L1945.7,738.0 L1946.3,738.4 L1946.8,738.7 L1947.4,736.3 L1947.9,733.8 L1948.5,735.0 L1949.0,735.2 L1949.6,736.8 L1950.1,741.2 L1950.7,739.3 L1951.2,737.0 L1951.8,739.1 L1952.3,737.5 L1952.9,736.4 L1953.4,738.9 L1954.0,737.6 L1954.5,738.6 L1955.1,740.5 L1955.6,737.2 L1956.2,738.3 L1956.7,736.8 L1957.3,735.4 L1957.8,736.4 L1958.4,737.3 L1958.9,736.8 L1959.5,735.2 L1960.0,737.3 L1960.6,736.1 L1961.1,737.0 L1961.7,736.9 L1962.2,736.1 L1962.8,737.0 L1963.3,735.4 L1963.9,734.4 L1964.4,733.5 L1965.0,733.2 L1965.5,734.2 L1966.1,733.3 L1966.6,735.4 L1967.2,736.7 L1967.7,738.8 L1968.3,736.6 L1968.8,738.7 L1969.4,738.4 L1969.9,737.8 L1970.5,736.4 L1971.0,736.0 L1971.6,736.7 L1972.1,737.4 L1972.7,738.0 L1973.2,737.4 L1973.8,740.0 L1974.3,739.5 L1974.9,734.6 L1975.4,736.7 L1976.0,736.9 L1976.5,735.0 L1977.1,732.5 L1977.6,733.7 L1978.2,736.3 L1978.7,737.8 L1979.3,737.7 L1979.8,737.2 L1980.4,736.5 L1980.9,737.7 L1981.5,737.5 L1982.0,737.8 L1982.6,736.1 L1983.1,734.7 L1983.7,734.6 L1984.2,738.0 L1984.8,736.2 L1985.3,734.6 L1985.9,734.1 L1986.4,736.9 L1987.0,735.7 L1987.5,737.2 L1988.1,738.4 L1988.6,739.2 L1989.2,736.1 L1989.7,734.5 L1990.3,737.6 L1990.8,737.2 L1991.4,735.7 L1991.9,736.7 L1992.5,738.7 L1993.0,736.4 L1993.6,734.8 L1994.1,735.5 L1994.7,736.5 L1995.2,736.5 L1995.8,736.4 L1996.3,736.0 L1996.9,734.7 L1997.4,736.9 L1998.0,738.1 L1998.5,737.5 L1999.1,736.5 L1999.6,736.4 L2000.2,736.8 L2000.7,736.2 L2001.3,734.4 L2001.8,736.6 L2002.4,738.6 L2002.9,737.0 L2003.5,736.8 L2004.0,738.4 L2004.6,738.0 L2005.1,737.3 L2005.7,739.0 L2006.2,741.6 L2006.8,741.9 L2007.3,739.5 L2007.9,739.0 L2008.4,740.4 L2009.0,739.7 L2009.5,739.2 L2010.1,737.7 L2010.6,735.5 L2011.2,735.0 L2011.7,736.2 L2012.3,735.6 L2012.8,737.5 L2013.4,738.2 L2013.9,738.2 L2014.5,736.8 L2015.0,738.2 L2015.6,737.1 L2016.1,735.3 L2016.7,734.5 L2017.2,731.9 L2017.8,729.8 L2018.3,732.3 L2018.9,732.1 L2019.4,731.8 L2020.0,731.2 L2020.5,731.0 L2021.1,731.0 L2021.6,731.1 L2022.2,731.5 L2022.7,730.2 L2023.3,731.0 L2023.8,732.9 L2024.4,730.3 L2024.9,730.6 L2025.5,732.3 L2026.0,733.3 L2026.6,734.5 L2027.1,735.8 L2027.7,735.7 L2028.2,735.8 L2028.8,734.8 L2029.3,735.3 L2029.9,734.9 L2030.4,736.0 L2031.0,737.4 L2031.5,736.9 L2032.1,734.1 L2032.6,735.6 L2033.2,738.8 L2033.7,735.3 L2034.3,736.4 L2034.8,735.9 L2035.4,736.7 L2035.9,736.7 L2036.5,737.0 L2037.0,736.3 L2037.6,739.2 L2038.1,739.7 L2038.7,734.3 L2039.2,734.6 L2039.8,734.6 L2040.3,737.0 L2040.9,739.3 L2041.4,739.6 L2042.0,739.2 L2042.5,737.5 L2043.1,736.7 L2043.6,738.2 L2044.2,736.3 L2044.7,735.8 L2045.3,736.4 L2045.8,735.2 L2046.4,735.8 L2046.9,735.3 L2047.5,736.6 L2048.0,737.5 L2048.6,736.0 L2049.1,736.9 L2049.7,737.3 L2050.2,735.3 L2050.8,735.6 L2051.3,736.2 L2051.9,738.3 L2052.4,736.2 L2053.0,735.8 L2053.5,734.3 L2054.1,735.0 L2054.6,737.0 L2055.2,736.8 L2055.7,737.6 L2056.3,737.9 L2056.8,740.1 L2057.4,737.4 L2057.9,737.4 L2058.5,735.5 L2059.0,734.8 L2059.6,734.8 L2060.1,738.3 L2060.7,734.1 L2061.2,735.3 L2061.8,735.8 L2062.3,736.9 L2062.9,736.4 L2063.4,739.0 L2064.0,738.7 L2064.5,737.6 L2065.1,737.6 L2065.6,738.1 L2066.2,737.8 L2066.7,738.8 L2067.3,737.9 L2067.8,736.5 L2068.4,736.7 L2068.9,736.9 L2069.5,737.6 L2070.0,736.1 L2070.6,735.7 L2071.1,734.7 L2071.7,736.7 L2072.2,736.5 L2072.8,736.0 L2073.3,738.4 L2073.9,736.6 L2074.4,735.3 L2075.0,737.5 L2075.5,735.5 L2076.1,732.3 L2076.6,735.7 L2077.2,736.4 L2077.7,736.2 L2078.3,735.6 L2078.8,734.9 L2079.4,735.2 L2079.9,733.5 L2080.5,735.1 L2081.0,736.8 L2081.6,736.7 L2082.1,735.4 L2082.7,737.4 L2083.2,735.7 L2083.8,734.2 L2084.3,734.4 L2084.9,734.0 L2085.4,735.1 L2086.0,733.4 L2086.5,733.1 L2087.1,732.9 L2087.6,733.7 L2088.2,735.5 L2088.7,738.2 L2089.3,737.4 L2089.8,738.0 L2090.4,737.3 L2090.9,737.6 L2091.5,735.3 L2092.0,735.6 L2092.6,738.9 L2093.1,737.2 L2093.7,734.8 L2094.2,736.7 L2094.8,736.3 L2095.3,736.3 L2095.9,737.1 L2096.4,735.6 L2097.0,738.0 L2097.5,737.5 L2098.1,736.1 L2098.6,736.0 L2099.2,739.3 L2099.7,737.3 L2100.3,735.8 L2100.8,737.3 L2101.4,738.6 L2101.9,739.2 L2102.5,740.0 L2103.0,738.8 L2103.6,738.3 L2104.1,740.9 L2104.7,740.3 L2105.2,736.8 L2105.8,738.1 L2106.3,737.5 L2106.9,739.0 L2107.4,737.0 L2108.0,738.3 L2108.5,740.1 L2109.1,738.8"/>
<path class="c" stroke="#ff0000" d="M179.1,358.2 L179.7,347.8 L180.2,352.6 L180.8,352.1 L181.3,352.0 L181.9,351.4 L182.4,347.4 L183.0,351.0 L183.5,353.6 L184.1,363.6 L184.6,357.0 L185.2,353.0 L185.7,352.7 L186.3,351.6 L186.8,350.8 L187.4,353.6 L187.9,356.8 L188.5,356.8 L189.0,359.7 L189.6,358.0 L190.1,359.7 L190.7,364.5 L191.2,362.5 L191.8,359.4 L192.3,360.8 L192.9,364.8 L193.4,368.4 L194.0,363.0 L194.5,362.6 L195.1,365.2 L195.6,360.7 L196.2,361.9 L196.7,365.5 L197.3,364.9 L197.8,363.3 L198.4,361.8 L198.9,354.2 L199.5,361.6 L200.0,357.8 L200.6,355.5 L201.1,361.3 L201.7,363.3 L202.2,359.8 L202.8,358.1 L203.3,361.2 L203.9,363.2 L204.4,367.4 L205.0,366.2 L205.5,364.8 L206.1,366.1 L206.6,362.0 L207.2,359.6 L207.7,363.2 L208.3,363.3 L208.8,359.8 L209.4,357.7 L209.9,357.7 L210.5,352.1 L211.0,359.3 L211.6,359.2 L212.1,353.7 L212.7,356.4 L213.2,356.0 L213.8,358.5 L214.3,352.4 L214.9,355.2 L215.4,361.8 L216.0,362.2 L216.5,354.0 L217.1,357.5 L217.6,360.8 L218.2,360.5 L218.7,364.5 L219.3,358.9 L219.8,360.4 L220.4,359.1 L220.9,364.4 L221.5,361.5 L222.0,358.2 L222.6,356.4 L223.1,365.1 L223.7,364.9 L224.2,364.5 L224.8,365.3 L225.3,362.6 L225.9,359.1 L226.4,358.1 L227.0,360.0 L227.5,364.7 L228.1,358.6 L228.6,359.4 L229.2,361.4 L229.7,363.5 L230.3,363.5 L230.8,357.7 L231.4,356.0 L231.9,361.7 L232.5,366.3 L233.0,365.4 L233.6,363.0 L234.1,361.5 L234.7,362.8 L235.2,362.6 L235.8,364.4 L236.3,361.1 L236.9,362.6 L237.4,363.0 L238.0,364.4 L238.5,365.4 L239.1,371.2 L239.6,369.4 L240.2,365.5 L240.7,355.6 L241.3,357.6 L241.8,358.8 L242.4,359.7 L242.9,354.6 L243.5,362.9 L244.0,363.4 L244.6,356.3 L245.1,355.6 L245.7,357.1 L246.2,360.2 L246.8,363.6 L247.3,366.5 L247.9,361.2 L248.4,361.8 L249.0,361.7 L249.5,365.2 L250.1,363.7 L250.6,362.9 L251.2,356.6 L251.7,357.1 L252.3,357.8 L252.8,364.1 L253.4,362.8 L253.9,359.3 L254.5,359.0 L255.0,360.9 L255.6,357.8 L256.1,357.2 L256.7,362.7 L257.2,367.6 L257.8,360.3 L258.3,356.5 L258.9,353.9 L259.4,354.1 L260.0,359.7 L260.5,361.3 L261.1,359.0 L261.6,359.1 L262.2,358.6 L262.7,357.2 L263.3,352.9 L263.8,355.4 L264.4,357.4 L264.9,355.4 L265.5,355.6 L266.0,355.5 L266.6,358.0 L267.1,361.5 L267.7,359.2 L268.2,360.3 L268.8,363.8 L269.3,365.3 L269.9,365.9 L270.4,357.6 L271.0,362.9 L271.5,361.7 L272.1,363.1 L272.6,366.0 L273.2,367.3 L273.7,366.7 L274.3,365.1 L274.8,367.6 L275.4,363.2 L275.9,363.1 L276.5,365.2 L277.0,364.0 L277.6,370.6 L278.1,370.1 L278.7,371.1 L279.2,364.8 L279.8,362.2 L280.3,363.7 L280.9,364.4 L281.4,361.1 L282.0,362.2 L282.5,362.4 L283.1,364.9 L283.6,360.0 L284.2,361.7 L284.7,357.3 L285.3,355.0 L285.8,355.0 L286.4,354.7 L286.9,359.2 L287.5,362.4 L288.0,360.9 L288.6,362.6 L289.1,365.2 L289.7,361.8 L290.2,360.2 L290.8,357.7 L291.3,355.0 L291.9,359.2 L292.4,355.0 L293.0,359.8 L293.5,360.3 L294.1,362.2 L294.6,358.8 L295.2,356.5 L295.7,359.1 L296.3,357.8 L296.8,358.8 L297.4,360.2 L297.9,360.4 L298.5,360.2 L299.0,359.3 L299.6,359.8 L300.1,356.2 L300.7,360.3 L301.2,360.6 L301.8,367.0 L302.3,366.6 L302.9,358.2 L303.4,361.6 L304.0,361.2 L304.5,358.9 L305.1,361.7 L305.6,358.1 L306.2,353.8 L306.7,356.7 L307.3,357.7 L307.8,356.8 L308.4,353.6 L308.9,357.7 L309.5,357.5 L310.0,351.8 L310.6,352.0 L311.1,353.7 L311.7,354.5 L312.2,360.3 L312.8,356.8 L313.3,352.6 L313.9,353.6 L314.4,358.6 L315.0,365.3 L315.5,360.5 L316.1,360.6 L316.6,362.3 L317.2,363.2 L317.7,368.1 L318.3,362.5 L318.8,363.9 L319.4,363.4 L319.9,362.9 L320.5,359.8 L321.0,365.8 L321.6,362.2 L322.1,360.3 L322.7,357.4 L323.2,358.2 L323.8,362.5 L324.3,364.6 L324.9,364.6 L325.4,365.5 L326.0,364.0 L326.5,362.3 L327.1,364.3 L327.6,364.0 L328.2,362.6 L328.7,365.2 L329.3,367.0 L329.8,363.8 L330.4,362.0 L330.9,365.6 L331.5,368.1 L332.0,362.2 L332.6,360.5 L333.1,361.0 L333.7,362.4 L334.2,355.4 L334.8,360.2 L335.3,362.7 L335.9,359.0 L336.4,364.0 L337.0,362.3 L337.5,359.3 L338.1,360.0 L338.6,356.6 L339.2,360.6 L339.7,367.2 L340.3,363.2 L340.8,368.3 L341.4,365.5 L341.9,366.7 L342.5,362.8 L343.0,356.1 L343.6,359.9 L344.1,362.2 L344.7,358.2 L345.2,357.5 L345.8,361.5 L346.3,358.7 L346.9,355.2 L347.4,358.5 L348.0,362.9 L348.5,361.0 L349.1,364.7 L349.6,366.5 L350.2,361.6 L350.7,356.9 L351.3,356.6 L351.8,361.2 L352.4,364.7 L352.9,363.9 L353.5,363.7 L354.0,361.5 L354.6,362.4 L355.1,360.7 L355.7,359.7 L356.2,356.4 L356.8,355.4 L357.3,357.9 L357.9,356.7 L358.4,357.8 L359.0,362.3 L359.5,363.5 L360.1,370.7 L360.6,365.9 L361.2,360.8 L361.7,363.8 L362.3,363.0 L362.8,361.0 L363.4,364.3 L363.9,358.2 L364.5,352.6 L365.0,361.5 L365.6,361.6 L366.1,365.1 L366.7,359.6 L367.2,358.2 L367.8,364.0 L368.3,358.9 L368.9,361.7 L369.4,365.6 L370.0,362.4 L370.5,361.1 L371.1,362.4 L371.6,363.8 L372.2,360.7 L372.7,364.1 L373.3,366.6 L373.8,370.0 L374.4,362.7 L374.9,360.1 L375.5,363.6 L376.0,361.7 L376.6,362.7 L377.1,363.3 L377.7,364.9 L378.2,360.6 L378.8,359.2 L379.3,353.6 L379.9,359.1 L380.4,366.5 L381.0,362.0 L381.5,360.3 L382.1,360.4 L382.6,365.5 L383.2,364.7 L383.7,361.5 L384.3,365.6 L384.8,365.7 L385.4,365.3 L385.9,362.6 L386.5,367.2 L387.0,364.0 L387.6,360.5 L388.1,358.6 L388.7,359.6 L389.2,362.1 L389.8,360.3 L390.3,363.2 L390.9,363.3 L391.4,365.0 L392.0,363.4 L392.5,359.2 L393.1,354.9 L393.6,361.0 L394.2,364.1 L394.7,363.2 L395.3,363.5 L395.8,361.0 L396.4,360.3 L396.9,360.6 L397.5,366.5 L398.0,364.2 L398.6,360.6 L399.1,358.5 L399.7,362.7 L400.2,367.7 L400.8,365.0 L401.3,362.2 L401.9,367.9 L402.4,369.2 L403.0,367.6 L403.5,367.0 L404.1,367.6 L404.6,366.2 L405.2,365.3 L405.7,362.4 L406.3,367.2 L406.8,366.3 L407.4,367.6 L407.9,358.4 L408.5,363.7 L409.0,365.5 L409.6,362.1 L410.1,363.6 L410.7,365.0 L411.2,363.9 L411.8,360.8 L412.3,362.2 L412.9,366.5 L413.4,367.4 L414.0,364.1 L414.5,363.3 L415.1,364.3 L415.6,365.4 L416.2,359.4 L416.7,358.0 L417.3,361.3 L417.8,359.0 L418.4,360.1 L418.9,362.9 L419.5,363.4 L420.0,360.3 L420.6,362.8 L421.1,358.1 L421.7,361.6 L422.2,357.1 L422.8,357.9 L423.3,362.5 L423.9,359.8 L424.4,356.5 L425.0,354.0 L425.5,349.8 L426.1,343.3 L426.6,338.7 L427.2,337.9 L427.7,340.6 L428.3,346.3 L428.8,352.9 L429.4,361.0 L429.9,365.6 L430.5,367.6 L431.0,365.0 L431.6,364.6 L432.1,366.6 L432.7,364.5 L433.2,367.1 L433.8,366.6 L434.3,362.6 L434.9,363.4 L435.4,365.2 L436.0,371.5 L436.5,373.4 L437.1,365.8 L437.6,362.1 L438.2,356.7 L438.7,362.0 L439.3,362.0 L439.8,359.6 L440.4,362.3 L440.9,357.2 L441.5,359.6 L442.0,360.6 L442.6,358.3 L443.1,363.9 L443.7,364.4 L444.2,357.3 L444.8,357.0 L445.3,362.8 L445.9,361.4 L446.4,357.9 L447.0,359.7 L447.5,360.7 L448.1,361.1 L448.6,363.3 L449.2,363.4 L449.7,366.6 L450.3,365.5 L450.8,363.0 L451.4,363.5 L451.9,363.7 L452.5,360.1 L453.0,354.9 L453.6,358.9 L454.1,359.0 L454.7,361.8 L455.2,358.4 L455.8,358.4 L456.3,359.1 L456.9,362.1 L457.4,358.3 L458.0,356.5 L458.5,357.7 L459.1,356.6 L459.6,358.2 L460.2,358.7 L460.7,361.1 L461.3,364.9 L461.8,359.7 L462.4,359.4 L462.9,360.0 L463.5,361.3 L464.0,356.8 L464.6,357.5 L465.1,360.4 L465.7,362.4 L466.2,360.7 L466.8,358.7 L467.3,358.4 L467.9,363.2 L468.4,366.5 L469.0,363.9 L469.5,363.0 L470.1,362.9 L470.6,359.5 L471.2,360.6 L471.7,361.8 L472.3,363.3 L472.8,361.8 L473.4,359.5 L473.9,366.0 L474.5,367.8 L475.0,362.5 L475.6,362.7 L476.1,362.9 L476.7,362.5 L477.2,358.1 L477.8,364.2 L478.3,361.5 L478.9,364.4 L479.4,361.9 L480.0,360.0 L480.5,361.6 L481.1,364.0 L481.6,360.3 L482.2,360.8 L482.7,360.3 L483.3,359.1 L483.8,367.0 L484.4,366.7 L484.9,365.1 L485.5,366.3 L486.0,361.0 L486.6,363.0 L487.1,368.1 L487.7,364.3 L488.2,352.7 L488.8,348.3 L489.3,356.0 L489.9,363.0 L490.4,360.2 L491.0,360.7 L491.5,362.5 L492.1,359.6 L492.6,362.5 L493.2,365.1 L493.7,364.6 L494.3,363.5 L494.8,361.2 L495.4,363.1 L495.9,362.2 L496.5,367.5 L497.0,369.8 L497.6,359.1 L498.1,353.0 L498.7,357.4 L499.2,361.1 L499.8,363.3 L500.3,362.0 L500.9,356.0 L501.4,355.9 L502.0,360.3 L502.5,356.3 L503.1,360.3 L503.6,358.9 L504.2,361.2 L504.7,362.1 L505.3,362.7 L505.8,361.9 L506.4,357.7 L506.9,360.5 L507.5,361.2 L508.0,363.1 L508.6,365.5 L509.1,361.8 L509.7,359.9 L510.2,360.4 L510.8,363.1 L511.3,365.9 L511.9,363.9 L512.4,368.3 L513.0,366.9 L513.5,363.7 L514.1,360.9 L514.6,364.9 L515.2,365.1 L515.7,359.7 L516.3,366.7 L516.8,368.9 L517.4,365.0 L517.9,365.7 L518.5,370.8 L519.0,367.0 L519.6,360.4 L520.1,361.5 L520.7,362.0 L521.2,360.3 L521.8,356.0 L522.3,362.7 L522.9,361.2 L523.4,362.0 L524.0,362.0 L524.5,363.4 L525.1,359.5 L525.6,357.5 L526.2,361.3 L526.7,363.1 L527.3,359.4 L527.8,362.0 L528.4,358.9 L528.9,356.8 L529.5,360.1 L530.0,355.4 L530.6,357.2 L531.1,353.7 L531.7,353.0 L532.2,347.7 L532.8,347.6 L533.3,350.6 L533.9,347.7 L534.4,345.1 L535.0,343.3 L535.5,342.4 L536.1,340.4 L536.6,339.4 L537.2,338.5 L537.7,336.7 L538.3,335.0 L538.8,334.0 L539.4,332.0 L539.9,330.2 L540.5,330.9 L541.0,326.5 L541.6,321.0 L542.1,313.5 L542.7,307.4 L543.2,303.0 L543.8,300.9 L544.3,299.9 L544.9,301.7 L545.4,306.2 L546.0,312.3 L546.5,317.2 L547.1,320.0 L547.6,326.9 L548.2,330.8 L548.7,338.4 L549.3,341.9 L549.8,349.0 L550.4,356.6 L550.9,356.7 L551.5,360.2 L552.0,356.2 L552.6,355.7 L553.1,361.8 L553.7,363.5 L554.2,358.1 L554.8,357.9 L555.3,355.3 L555.9,359.2 L556.4,363.1 L557.0,360.8 L557.5,358.2 L558.1,356.8 L558.6,362.1 L559.2,364.8 L559.7,364.4 L560.3,362.3 L560.8,360.0 L561.4,367.0 L561.9,364.0 L562.5,363.4 L563.0,364.1 L563.6,357.7 L564.1,362.0 L564.7,363.8 L565.2,365.9 L565.8,368.4 L566.3,364.4 L566.9,357.4 L567.4,360.3 L568.0,362.7 L568.5,361.5 L569.1,356.5 L569.6,355.8 L570.2,362.1 L570.7,362.9 L571.3,360.5 L571.8,358.0 L572.4,364.1 L572.9,354.7 L573.5,361.0 L574.0,369.0 L574.6,364.5 L575.1,362.9 L575.7,360.8 L576.2,365.4 L576.8,360.3 L577.3,362.8 L577.9,362.5 L578.4,360.1 L579.0,363.0 L579.5,357.7 L580.1,358.3 L580.6,360.0 L581.2,359.4 L581.7,361.5 L582.3,362.0 L582.8,357.8 L583.4,355.5 L583.9,355.1 L584.5,356.2 L585.0,359.0 L585.6,357.2 L586.1,358.1 L586.7,356.7 L587.2,355.6 L587.8,359.0 L588.3,355.3 L588.9,358.0 L589.4,360.7 L590.0,353.9 L590.5,352.4 L591.1,347.3 L591.6,345.6 L592.2,340.6 L592.7,338.0 L593.3,332.8 L593.8,328.0 L594.4,322.4 L594.9,313.5 L595.5,306.9 L596.0,302.5 L596.6,301.5 L597.1,302.9 L597.7,306.2 L598.2,313.7 L598.8,323.2 L599.3,328.4 L599.9,333.1 L600.4,342.5 L601.0,343.3 L601.5,345.0 L602.1,346.6 L602.6,350.0 L603.2,355.9 L603.7,363.0 L604.3,358.5 L604.8,355.4 L605.4,356.9 L605.9,357.7 L606.5,355.2 L607.0,360.4 L607.6,363.6 L608.1,363.3 L608.7,362.7 L609.2,357.0 L609.8,356.7 L610.3,365.3 L610.9,365.0 L611.4,358.0 L612.0,361.0 L612.5,361.9 L613.1,362.9 L613.6,361.5 L614.2,359.3 L614.7,360.7 L615.3,360.8 L615.8,358.6 L616.4,351.9 L616.9,348.6 L617.5,353.7 L618.0,354.1 L618.6,359.5 L619.1,361.8 L619.7,360.2 L620.2,358.1 L620.8,359.8 L621.3,362.0 L621.9,358.4 L622.4,361.9 L623.0,362.4 L623.5,362.1 L624.1,364.1 L624.6,360.1 L625.2,362.5 L625.7,358.6 L626.3,357.9 L626.8,358.7 L627.4,362.3 L627.9,360.3 L628.5,361.5 L629.0,360.3 L629.6,366.6 L630.1,369.3 L630.7,366.0 L631.2,368.0 L631.8,366.9 L632.3,369.2 L632.9,362.9 L633.4,358.6 L634.0,365.2 L634.5,361.9 L635.1,358.3 L635.6,358.0 L636.2,356.5 L636.7,359.3 L637.3,359.4 L637.8,365.5 L638.4,362.9 L638.9,355.2 L639.5,354.1 L640.0,355.6 L640.6,353.2 L641.1,357.3 L641.7,358.1 L642.2,356.2 L642.8,357.3 L643.3,361.7 L643.9,365.8 L644.4,366.3 L645.0,363.5 L645.5,364.4 L646.1,361.9 L646.6,363.8 L647.2,362.4 L647.7,365.2 L648.3,361.3 L648.8,361.6 L649.4,365.1 L649.9,366.2 L650.5,361.6 L651.0,363.3 L651.6,365.9 L652.1,365.9 L652.7,363.5 L653.2,365.1 L653.8,365.9 L654.3,369.8 L654.9,367.3 L655.4,360.8 L656.0,358.8 L656.5,365.6 L657.1,369.7 L657.6,368.3 L658.2,368.7 L658.7,364.7 L659.3,362.7 L659.8,367.4 L660.4,367.2 L660.9,366.7 L661.5,362.2 L662.0,364.4 L662.6,364.1 L663.1,366.5 L663.7,363.7 L664.2,362.8 L664.8,364.2 L665.3,368.6 L665.9,365.9 L666.4,362.6 L667.0,361.2 L667.5,362.3 L668.1,366.6 L668.6,359.6 L669.2,360.5 L669.7,365.0 L670.3,365.9 L670.8,362.5 L671.4,363.1 L671.9,362.4 L672.5,360.6 L673.0,357.4 L673.6,356.7 L674.1,352.9 L674.7,350.7 L675.2,348.0 L675.8,347.7 L676.3,347.4 L676.9,348.3 L677.4,351.6 L678.0,353.3 L678.5,356.5 L679.1,357.5 L679.6,363.6 L680.2,361.9 L680.7,359.7 L681.3,363.3 L681.8,365.3 L682.4,362.5 L682.9,366.1 L683.5,370.4 L684.0,368.0 L684.6,364.9 L685.1,364.0 L685.7,365.7 L686.2,360.4 L686.8,356.9 L687.3,362.1 L687.9,364.6 L688.4,370.8 L689.0,367.8 L689.5,363.8 L690.1,363.6 L690.6,366.9 L691.2,364.6 L691.7,364.5 L692.3,365.8 L692.8,366.4 L693.4,366.2 L693.9,366.7 L694.5,369.6 L695.0,368.7 L695.6,362.6 L696.1,368.8 L696.7,364.9 L697.2,363.6 L697.8,358.5 L698.3,357.6 L698.9,355.4 L699.4,352.8 L700.0,350.9 L700.5,348.1 L701.1,346.0 L701.6,346.0 L702.2,347.2 L702.7,349.1 L703.3,350.6 L703.8,353.0 L704.4,355.5 L704.9,355.9 L705.5,358.5 L706.0,365.7 L706.6,364.3 L707.1,364.7 L707.7,364.6 L708.2,369.5 L708.8,370.6 L709.3,366.1 L709.9,365.5 L710.4,364.0 L711.0,368.5 L711.5,366.5 L712.1,362.5 L712.6,365.9 L713.2,364.9 L713.7,364.4 L714.3,363.7 L714.8,361.4 L715.4,362.0 L715.9,364.8 L716.5,363.6 L717.0,363.0 L717.6,368.8 L718.1,365.1 L718.7,362.9 L719.2,363.3 L719.8,366.9 L720.3,367.9 L720.9,366.5 L721.4,365.9 L722.0,360.8 L722.5,361.8 L723.1,362.3 L723.6,363.5 L724.2,363.4 L724.7,360.7 L725.3,369.5 L725.8,363.9 L726.4,365.1 L726.9,367.5 L727.5,367.9 L728.0,364.8 L728.6,358.2 L729.1,362.2 L729.7,367.1 L730.2,364.2 L730.8,362.1 L731.3,361.1 L731.9,368.6 L732.4,368.1 L733.0,364.5 L733.5,365.4 L734.1,365.0 L734.6,362.8 L735.2,364.2 L735.7,365.9 L736.3,367.0 L736.8,367.9 L737.4,364.7 L737.9,363.0 L738.5,364.1 L739.0,361.6 L739.6,361.0 L740.1,365.6 L740.7,363.7 L741.2,364.5 L741.8,365.2 L742.3,362.4 L742.9,365.6 L743.4,366.0 L744.0,364.9 L744.5,365.2 L745.1,361.8 L745.6,358.9 L746.2,362.3 L746.7,363.2 L747.3,366.8 L747.8,366.0 L748.4,364.1 L748.9,365.8 L749.5,369.2 L750.0,368.9 L750.6,366.9 L751.1,366.1 L751.7,364.4 L752.2,364.8 L752.8,366.2 L753.3,365.1 L753.9,364.9 L754.4,361.5 L755.0,359.3 L755.5,359.7 L756.1,363.9 L756.6,368.9 L757.2,368.3 L757.7,362.5 L758.3,361.2 L758.8,366.2 L759.4,365.5 L759.9,362.2 L760.5,366.1 L761.0,365.9 L761.6,367.3 L762.1,365.7 L762.7,365.9 L763.2,364.0 L763.8,360.8 L764.3,361.3 L764.9,361.3 L765.4,363.2 L766.0,358.9 L766.5,357.2 L767.1,360.2 L767.6,358.9 L768.2,354.8 L768.7,347.8 L769.3,337.2 L769.8,331.9 L770.4,326.2 L770.9,318.4 L771.5,306.5 L772.0,300.4 L772.6,291.0 L773.1,278.4 L773.7,268.9 L774.2,256.9 L774.8,238.8 L775.3,221.9 L775.9,202.0 L776.4,182.4 L777.0,168.5 L777.5,157.7 L778.1,148.9 L778.6,146.0 L779.2,152.0 L779.7,162.7 L780.3,174.7 L780.8,189.6 L781.4,201.0 L781.9,210.3 L782.5,222.5 L783.0,235.5 L783.6,244.4 L784.1,248.9 L784.7,255.9 L785.2,264.8 L785.8,267.0 L786.3,266.4 L786.9,272.0 L787.4,279.9 L788.0,284.8 L788.5,292.2 L789.1,297.7 L789.6,302.8 L790.2,306.0 L790.7,314.8 L791.3,322.4 L791.8,323.8 L792.4,332.3 L792.9,339.3 L793.5,345.5 L794.0,349.0 L794.6,351.3 L795.1,355.6 L795.7,361.5 L796.2,364.6 L796.8,366.3 L797.3,366.6 L797.9,366.3 L798.4,363.2 L799.0,361.9 L799.5,365.3 L800.1,367.0 L800.6,365.5 L801.2,362.2 L801.7,363.2 L802.3,362.5 L802.8,365.0 L803.4,363.5 L803.9,364.9 L804.5,366.3 L805.0,366.8 L805.6,368.1 L806.1,362.5 L806.7,360.5 L807.2,367.6 L807.8,370.7 L808.3,370.6 L808.9,368.3 L809.4,368.3 L810.0,366.9 L810.5,364.0 L811.1,365.7 L811.6,368.2 L812.2,368.0 L812.7,371.4 L813.3,365.7 L813.8,367.5 L814.4,371.1 L814.9,368.0 L815.5,366.0 L816.0,365.9 L816.6,368.8 L817.1,373.9 L817.7,372.8 L818.2,371.7 L818.8,370.1 L819.3,371.9 L819.9,369.9 L820.4,366.7 L821.0,366.8 L821.5,368.3 L822.1,369.1 L822.6,366.1 L823.2,366.4 L823.7,367.4 L824.3,360.4 L824.8,357.9 L825.4,361.2 L825.9,359.7 L826.5,357.1 L827.0,355.9 L827.6,353.8 L828.1,353.4 L828.7,350.7 L829.2,349.1 L829.8,342.4 L830.3,339.0 L830.9,336.8 L831.4,331.3 L832.0,327.4 L832.5,320.6 L833.1,314.7 L833.6,313.5 L834.2,311.7 L834.7,310.4 L835.3,310.3 L835.8,310.4 L836.4,310.9 L836.9,312.4 L837.5,314.8 L838.0,317.2 L838.6,321.7 L839.1,325.4 L839.7,327.6 L840.2,333.0 L840.8,334.8 L841.3,333.9 L841.9,336.8 L842.4,339.2 L843.0,338.1 L843.5,338.3 L844.1,336.6 L844.6,335.1 L845.2,330.3 L845.7,320.1 L846.3,307.3 L846.8,293.7 L847.4,276.9 L847.9,267.3 L848.5,258.4 L849.0,248.4 L849.6,240.0 L850.1,233.9 L850.7,228.5 L851.2,224.5 L851.8,222.3 L852.3,223.0 L852.9,227.2 L853.4,232.4 L854.0,240.9 L854.5,249.3 L855.1,261.4 L855.6,275.3 L856.2,289.0 L856.7,297.3 L857.3,305.9 L857.8,318.5 L858.4,324.3 L858.9,327.0 L859.5,332.1 L860.0,339.2 L860.6,346.6 L861.1,350.7 L861.7,351.6 L862.2,359.9 L862.8,358.7 L863.3,358.6 L863.9,361.6 L864.4,363.1 L865.0,367.9 L865.5,366.4 L866.1,363.0 L866.6,362.5 L867.2,362.6 L867.7,363.6 L868.3,365.2 L868.8,364.1 L869.4,367.4 L869.9,364.9 L870.5,364.5 L871.0,365.5 L871.6,360.4 L872.1,362.2 L872.7,366.2 L873.2,366.0 L873.8,366.2 L874.3,366.7 L874.9,365.1 L875.4,364.9 L876.0,362.3 L876.5,362.3 L877.1,367.7 L877.6,364.6 L878.2,365.0 L878.7,369.5 L879.3,368.9 L879.8,365.0 L880.4,364.2 L880.9,364.3 L881.5,362.8 L882.0,364.6 L882.6,363.4 L883.1,362.3 L883.7,362.4 L884.2,362.1 L884.8,363.3 L885.3,360.5 L885.9,354.0 L886.4,356.0 L887.0,352.2 L887.5,350.8 L888.1,353.5 L888.6,350.9 L889.2,350.5 L889.7,351.1 L890.3,345.8 L890.8,342.1 L891.4,341.4 L891.9,339.6 L892.5,332.8 L893.0,322.7 L893.6,314.6 L894.1,304.1 L894.7,294.3 L895.2,279.3 L895.8,265.2 L896.3,251.5 L896.9,235.1 L897.4,219.8 L898.0,203.6 L898.5,186.4 L899.1,172.2 L899.6,159.0 L900.2,148.1 L900.7,139.8 L901.3,137.1 L901.8,142.3 L902.4,151.7 L902.9,163.0 L903.5,178.7 L904.0,195.9 L904.6,212.9 L905.1,230.3 L905.7,247.0 L906.2,259.0 L906.8,274.0 L907.3,293.6 L907.9,304.3 L908.4,312.0 L909.0,317.9 L909.5,325.6 L910.1,335.1 L910.6,337.6 L911.2,339.1 L911.7,343.0 L912.3,348.6 L912.8,352.5 L913.4,352.4 L913.9,355.0 L914.5,354.6 L915.0,356.5 L915.6,358.0 L916.1,358.4 L916.7,356.9 L917.2,357.9 L917.8,359.2 L918.3,357.3 L918.9,360.6 L919.4,363.3 L920.0,365.1 L920.5,364.0 L921.1,364.3 L921.6,365.4 L922.2,364.8 L922.7,366.6 L923.3,368.8 L923.8,368.6 L924.4,366.4 L924.9,366.5 L925.5,364.8 L926.0,369.5 L926.6,368.7 L927.1,368.9 L927.7,367.0 L928.2,368.7 L928.8,370.6 L929.3,370.7 L929.9,367.0 L930.4,369.7 L931.0,368.2 L931.5,366.8 L932.1,368.5 L932.6,367.3 L933.2,366.5 L933.7,365.9 L934.3,367.4 L934.8,367.2 L935.4,366.1 L935.9,364.4 L936.5,365.3 L937.0,367.9 L937.6,369.6 L938.1,368.1 L938.7,369.7 L939.2,367.0 L939.8,365.1 L940.3,367.5 L940.9,365.9 L941.4,368.5 L942.0,370.0 L942.5,367.7 L943.1,368.8 L943.6,373.2 L944.2,369.8 L944.7,368.9 L945.3,369.5 L945.8,367.8 L946.4,367.5 L946.9,367.0 L947.5,363.4 L948.0,368.7 L948.6,365.5 L949.1,365.1 L949.7,368.2 L950.2,367.4 L950.8,365.2 L951.3,366.9 L951.9,365.0 L952.4,364.6 L953.0,363.4 L953.5,364.9 L954.1,367.5 L954.6,367.5 L955.2,367.9 L955.7,368.7 L956.3,366.8 L956.8,365.3 L957.4,366.9 L957.9,370.4 L958.5,368.2 L959.0,367.8 L959.6,367.2 L960.1,367.6 L960.7,367.8 L961.2,366.6 L961.8,365.2 L962.3,363.3 L962.9,362.7 L963.4,364.3 L964.0,364.3 L964.5,362.8 L965.1,359.5 L965.6,357.2 L966.2,356.9 L966.7,355.6 L967.3,354.6 L967.8,355.3 L968.4,356.5 L968.9,358.3 L969.5,357.2 L970.0,357.9 L970.6,361.3 L971.1,359.2 L971.7,360.5 L972.2,360.9 L972.8,360.8 L973.3,360.0 L973.9,363.7 L974.4,366.8 L975.0,366.2 L975.5,365.5 L976.1,364.6 L976.6,367.3 L977.2,366.4 L977.7,365.5 L978.3,361.3 L978.8,363.0 L979.4,361.5 L979.9,363.7 L980.5,363.5 L981.0,361.4 L981.6,364.0 L982.1,366.5 L982.7,365.7 L983.2,364.9 L983.8,362.1 L984.3,361.5 L984.9,361.2 L985.4,364.0 L986.0,366.3 L986.5,365.1 L987.1,363.2 L987.6,361.6 L988.2,364.1 L988.7,362.9 L989.3,359.6 L989.8,360.2 L990.4,363.2 L990.9,364.4 L991.5,368.7 L992.0,366.4 L992.6,363.8 L993.1,365.4 L993.7,368.6 L994.2,365.3 L994.8,367.3 L995.3,367.9 L995.9,369.2 L996.4,367.3 L997.0,365.4 L997.5,366.6 L998.1,366.7 L998.6,367.8 L999.2,367.3 L999.7,370.0 L1000.3,367.2 L1000.8,366.8 L1001.4,365.3 L1001.9,366.4 L1002.5,366.7 L1003.0,367.3 L1003.6,368.2 L1004.1,365.5 L1004.7,365.1 L1005.2,368.2 L1005.8,366.1 L1006.3,365.6 L1006.9,368.9 L1007.4,367.3 L1008.0,361.4 L1008.5,364.8 L1009.1,368.2 L1009.6,368.2 L1010.2,366.4 L1010.7,368.6 L1011.3,365.1 L1011.8,365.1 L1012.4,366.0 L1012.9,366.3 L1013.5,367.9 L1014.0,368.3 L1014.6,367.0 L1015.1,368.4 L1015.7,365.3 L1016.2,366.3 L1016.8,369.6 L1017.3,367.9 L1017.9,368.3 L1018.4,365.9 L1019.0,365.6 L1019.5,366.1 L1020.1,366.6 L1020.6,365.9 L1021.2,366.8 L1021.7,368.6 L1022.3,369.5 L1022.8,367.9 L1023.4,368.7 L1023.9,368.5 L1024.5,364.4 L1025.0,364.0 L1025.6,369.8 L1026.1,370.0 L1026.7,367.3 L1027.2,366.3 L1027.8,363.4 L1028.3,362.5 L1028.9,364.5 L1029.4,362.7 L1030.0,365.7 L1030.5,364.1 L1031.1,366.0 L1031.6,369.7 L1032.2,369.4 L1032.7,365.8 L1033.3,366.4 L1033.8,363.2 L1034.4,363.5 L1034.9,366.2 L1035.5,367.7 L1036.0,364.9 L1036.6,366.0 L1037.1,365.0 L1037.7,362.7 L1038.2,365.0 L1038.8,368.0 L1039.3,366.0 L1039.9,366.5 L1040.4,366.6 L1041.0,364.6 L1041.5,367.8 L1042.1,369.4 L1042.6,369.6 L1043.2,368.3 L1043.7,364.7 L1044.3,363.6 L1044.8,363.2 L1045.4,363.0 L1045.9,364.0 L1046.5,367.8 L1047.0,368.5 L1047.6,365.1 L1048.1,365.6 L1048.7,362.4 L1049.2,362.6 L1049.8,361.1 L1050.3,360.1 L1050.9,362.9 L1051.4,363.4 L1052.0,362.2 L1052.5,361.4 L1053.1,360.8 L1053.6,361.8 L1054.2,361.5 L1054.7,361.7 L1055.3,359.6 L1055.8,360.8 L1056.4,361.1 L1056.9,360.7 L1057.5,359.2 L1058.0,357.6 L1058.6,356.7 L1059.1,356.4 L1059.7,356.9 L1060.2,358.1 L1060.8,358.3 L1061.3,354.3 L1061.9,355.3 L1062.4,356.7 L1063.0,356.8 L1063.5,359.4 L1064.1,360.3 L1064.6,360.2 L1065.2,360.9 L1065.7,359.2 L1066.3,360.3 L1066.8,362.1 L1067.4,364.8 L1067.9,361.7 L1068.5,363.9 L1069.0,366.2 L1069.6,365.4 L1070.1,365.9 L1070.7,363.9 L1071.2,365.5 L1071.8,367.5 L1072.3,369.6 L1072.9,367.7 L1073.4,367.7 L1074.0,365.4 L1074.5,365.7 L1075.1,368.2 L1075.6,367.6 L1076.2,368.5 L1076.7,368.3 L1077.3,371.0 L1077.8,370.7 L1078.4,366.0 L1078.9,369.1 L1079.5,367.8 L1080.0,367.0 L1080.6,366.5 L1081.1,367.0 L1081.7,364.2 L1082.2,364.2 L1082.8,364.9 L1083.3,367.4 L1083.9,369.2 L1084.4,369.0 L1085.0,367.8 L1085.5,365.2 L1086.1,363.5 L1086.6,367.0 L1087.2,367.6 L1087.7,368.3 L1088.3,369.5 L1088.8,366.8 L1089.4,364.8 L1089.9,362.0 L1090.5,366.1 L1091.0,365.9 L1091.6,364.7 L1092.1,365.8 L1092.7,363.7 L1093.2,365.1 L1093.8,369.6 L1094.3,368.4 L1094.9,368.1 L1095.4,367.8 L1096.0,367.3 L1096.5,367.5 L1097.1,370.4 L1097.6,367.4 L1098.2,367.6 L1098.7,366.2 L1099.3,364.7 L1099.8,360.9 L1100.4,362.6 L1100.9,369.5 L1101.5,370.1 L1102.0,366.4 L1102.6,366.4 L1103.1,366.8 L1103.7,365.1 L1104.2,368.0 L1104.8,363.8 L1105.3,361.8 L1105.9,359.9 L1106.4,366.2 L1107.0,366.0 L1107.5,366.9 L1108.1,363.1 L1108.6,364.1 L1109.2,364.2 L1109.7,365.1 L1110.3,368.8 L1110.8,369.7 L1111.4,367.2 L1111.9,364.1 L1112.5,366.2 L1113.0,367.5 L1113.6,366.6 L1114.1,366.5 L1114.7,366.0 L1115.2,364.2 L1115.8,366.6 L1116.3,368.6 L1116.9,364.8 L1117.4,366.0 L1118.0,366.7 L1118.5,363.2 L1119.1,363.5 L1119.6,361.3 L1120.2,362.0 L1120.7,361.0 L1121.3,361.7 L1121.8,362.7 L1122.4,363.3 L1122.9,362.5 L1123.5,360.3 L1124.0,366.1 L1124.6,364.0 L1125.1,361.8 L1125.7,362.8 L1126.2,364.2 L1126.8,362.4 L1127.3,362.9 L1127.9,363.6 L1128.4,364.9 L1129.0,363.6 L1129.5,365.2 L1130.1,365.3 L1130.6,364.9 L1131.2,366.7 L1131.7,364.3 L1132.3,362.0 L1132.8,364.1 L1133.4,364.3 L1133.9,364.0 L1134.5,365.5 L1135.0,368.7 L1135.6,366.0 L1136.1,365.2 L1136.7,365.0 L1137.2,367.2 L1137.8,365.2 L1138.3,363.0 L1138.9,362.8 L1139.4,366.0 L1140.0,366.1 L1140.5,362.0 L1141.1,363.1 L1141.6,366.1 L1142.2,366.2 L1142.7,362.2 L1143.3,363.3 L1143.8,365.4 L1144.4,363.5 L1144.9,362.9 L1145.5,362.4 L1146.0,361.5 L1146.6,363.8 L1147.1,364.0 L1147.7,361.4 L1148.2,363.7 L1148.8,365.6 L1149.3,364.4 L1149.9,364.4 L1150.4,362.6 L1151.0,364.2 L1151.5,362.1 L1152.1,364.9 L1152.6,361.5 L1153.2,359.7 L1153.7,359.4 L1154.3,360.1 L1154.8,360.0 L1155.4,359.6 L1155.9,360.5 L1156.5,362.4 L1157.0,362.5 L1157.6,360.9 L1158.1,361.7 L1158.7,359.1 L1159.2,358.5 L1159.8,359.0 L1160.3,359.5 L1160.9,359.0 L1161.4,359.0 L1162.0,360.4 L1162.5,361.8 L1163.1,361.9 L1163.6,359.3 L1164.2,360.9 L1164.7,362.9 L1165.3,361.5 L1165.8,358.9 L1166.4,359.9 L1166.9,358.4 L1167.5,360.4 L1168.0,366.4 L1168.6,364.4 L1169.1,359.9 L1169.7,359.9 L1170.2,363.3 L1170.8,362.9 L1171.3,364.3 L1171.9,362.9 L1172.4,363.5 L1173.0,364.1 L1173.5,361.6 L1174.1,359.8 L1174.6,361.1 L1175.2,362.6 L1175.7,363.9 L1176.3,364.4 L1176.8,364.7 L1177.4,365.2 L1177.9,364.0 L1178.5,367.9 L1179.0,369.5 L1179.6,366.7 L1180.1,366.3 L1180.7,368.0 L1181.2,367.3 L1181.8,366.1 L1182.3,365.0 L1182.9,363.6 L1183.4,363.3 L1184.0,366.8 L1184.5,367.5 L1185.1,363.9 L1185.6,364.6 L1186.2,365.1 L1186.7,363.6 L1187.3,362.6 L1187.8,362.0 L1188.4,359.7 L1188.9,362.0 L1189.5,363.0 L1190.0,366.3 L1190.6,364.0 L1191.1,360.5 L1191.7,360.5 L1192.2,362.9 L1192.8,361.7 L1193.3,357.7 L1193.9,354.4 L1194.4,350.8 L1195.0,350.3 L1195.5,348.8 L1196.1,346.7 L1196.6,346.2 L1197.2,341.7 L1197.7,340.9 L1198.3,340.1 L1198.8,339.5 L1199.4,339.7 L1199.9,339.3 L1200.5,340.2 L1201.0,342.4 L1201.6,344.1 L1202.1,344.8 L1202.7,346.1 L1203.2,349.2 L1203.8,347.2 L1204.3,348.2 L1204.9,351.7 L1205.4,351.8 L1206.0,348.2 L1206.5,342.7 L1207.1,339.4 L1207.6,336.1 L1208.2,332.5 L1208.7,330.3 L1209.3,328.4 L1209.8,322.7 L1210.4,316.9 L1210.9,312.7 L1211.5,309.7 L1212.0,307.8 L1212.6,306.0 L1213.1,306.2 L1213.7,306.4 L1214.2,307.1 L1214.8,308.6 L1215.3,312.6 L1215.9,315.5 L1216.4,320.5 L1217.0,318.9 L1217.5,320.8 L1218.1,326.3 L1218.6,329.4 L1219.2,330.1 L1219.7,330.9 L1220.3,338.1 L1220.8,340.4 L1221.4,341.7 L1221.9,342.6 L1222.5,345.8 L1223.0,346.5 L1223.6,348.7 L1224.1,350.9 L1224.7,354.1 L1225.2,353.1 L1225.8,354.4 L1226.3,357.8 L1226.9,357.7 L1227.4,357.6 L1228.0,358.3 L1228.5,360.1 L1229.1,358.8 L1229.6,361.2 L1230.2,364.0 L1230.7,361.5 L1231.3,358.7 L1231.8,358.1 L1232.4,359.8 L1232.9,357.8 L1233.5,356.9 L1234.0,358.0 L1234.6,358.6 L1235.1,360.9 L1235.7,358.9 L1236.2,362.3 L1236.8,359.8 L1237.3,360.5 L1237.9,361.8 L1238.4,361.5 L1239.0,361.4 L1239.5,358.0 L1240.1,355.9 L1240.6,358.3 L1241.2,357.0 L1241.7,358.5 L1242.3,360.1 L1242.8,358.0 L1243.4,356.3 L1243.9,355.2 L1244.5,354.9 L1245.0,354.5 L1245.6,354.4 L1246.1,355.3 L1246.7,355.8 L1247.2,357.3 L1247.8,358.2 L1248.3,360.7 L1248.9,361.6 L1249.4,360.6 L1250.0,360.8 L1250.5,362.6 L1251.1,365.0 L1251.6,365.0 L1252.2,363.8 L1252.7,364.8 L1253.3,366.3 L1253.8,362.6 L1254.4,364.8 L1254.9,364.6 L1255.5,367.4 L1256.0,365.5 L1256.6,365.0 L1257.1,363.9 L1257.7,365.7 L1258.2,368.0 L1258.8,368.5 L1259.3,363.9 L1259.9,365.9 L1260.4,372.7 L1261.0,368.9 L1261.5,366.1 L1262.1,365.2 L1262.6,361.7 L1263.2,367.5 L1263.7,366.2 L1264.3,364.0 L1264.8,367.3 L1265.4,365.2 L1265.9,364.5 L1266.5,367.1 L1267.0,367.2 L1267.6,365.7 L1268.1,365.4 L1268.7,363.2 L1269.2,363.3 L1269.8,367.6 L1270.3,368.9 L1270.9,367.3 L1271.4,366.3 L1272.0,364.9 L1272.5,364.7 L1273.1,364.5 L1273.6,368.0 L1274.2,365.6 L1274.7,366.2 L1275.3,365.5 L1275.8,364.4 L1276.4,369.0 L1276.9,366.3 L1277.5,365.1 L1278.0,366.2 L1278.6,365.2 L1279.1,366.0 L1279.7,365.4 L1280.2,367.4 L1280.8,366.5 L1281.3,364.7 L1281.9,368.0 L1282.4,366.9 L1283.0,364.8 L1283.5,366.9 L1284.1,368.3 L1284.6,369.7 L1285.2,366.2 L1285.7,367.7 L1286.3,367.0 L1286.8,367.4 L1287.4,366.2 L1287.9,366.4 L1288.5,366.7 L1289.0,363.6 L1289.6,362.2 L1290.1,365.4 L1290.7,365.8 L1291.2,366.9 L1291.8,367.7 L1292.3,367.1 L1292.9,368.6 L1293.4,367.0 L1294.0,366.9 L1294.5,367.9 L1295.1,367.4 L1295.6,366.0 L1296.2,365.6 L1296.7,364.2 L1297.3,364.4 L1297.8,366.2 L1298.4,367.5 L1298.9,366.4 L1299.5,368.9 L1300.0,371.8 L1300.6,371.9 L1301.1,368.9 L1301.7,369.7 L1302.2,369.4 L1302.8,369.5 L1303.3,369.4 L1303.9,368.7 L1304.4,368.6 L1305.0,367.0 L1305.5,365.8 L1306.1,366.3 L1306.6,366.8 L1307.2,367.4 L1307.7,366.0 L1308.3,366.1 L1308.8,366.1 L1309.4,362.2 L1309.9,362.5 L1310.5,363.8 L1311.0,362.8 L1311.6,361.7 L1312.1,364.5 L1312.7,363.3 L1313.2,362.8 L1313.8,366.5 L1314.3,363.1 L1314.9,363.9 L1315.4,364.0 L1316.0,365.5 L1316.5,366.1 L1317.1,364.2 L1317.6,364.8 L1318.2,364.5 L1318.7,363.6 L1319.3,366.1 L1319.8,364.5 L1320.4,362.3 L1320.9,360.6 L1321.5,360.2 L1322.0,359.6 L1322.6,358.3 L1323.1,357.7 L1323.7,353.4 L1324.2,353.0 L1324.8,353.5 L1325.3,353.1 L1325.9,353.4 L1326.4,353.6 L1327.0,354.7 L1327.5,355.9 L1328.1,357.9 L1328.6,359.2 L1329.2,360.5 L1329.7,360.8 L1330.3,362.2 L1330.8,361.9 L1331.4,360.2 L1331.9,359.3 L1332.5,360.4 L1333.0,362.5 L1333.6,359.7 L1334.1,362.8 L1334.7,363.2 L1335.2,365.3 L1335.8,364.8 L1336.3,363.5 L1336.9,363.6 L1337.4,361.4 L1338.0,365.2 L1338.5,366.0 L1339.1,363.6 L1339.6,367.1 L1340.2,367.0 L1340.7,366.6 L1341.3,364.9 L1341.8,367.8 L1342.4,368.3 L1342.9,366.8 L1343.5,365.5 L1344.0,368.2 L1344.6,369.3 L1345.1,368.1 L1345.7,368.0 L1346.2,365.7 L1346.8,366.2 L1347.3,366.7 L1347.9,367.5 L1348.4,370.9 L1349.0,367.4 L1349.5,365.2 L1350.1,366.3 L1350.6,364.1 L1351.2,365.8 L1351.7,366.4 L1352.3,364.3 L1352.8,363.6 L1353.4,362.9 L1353.9,364.0 L1354.5,363.9 L1355.0,367.1 L1355.6,365.7 L1356.1,363.1 L1356.7,362.1 L1357.2,367.2 L1357.8,367.0 L1358.3,365.1 L1358.9,364.3 L1359.4,363.9 L1360.0,364.0 L1360.5,367.2 L1361.1,364.9 L1361.6,362.0 L1362.2,362.1 L1362.7,360.9 L1363.3,366.0 L1363.8,368.3 L1364.4,370.4 L1364.9,370.3 L1365.5,366.0 L1366.0,367.1 L1366.6,368.3 L1367.1,367.4 L1367.7,365.3 L1368.2,366.6 L1368.8,366.7 L1369.3,367.1 L1369.9,364.8 L1370.4,363.6 L1371.0,362.9 L1371.5,362.8 L1372.1,362.4 L1372.6,363.4 L1373.2,365.0 L1373.7,365.8 L1374.3,367.3 L1374.8,367.1 L1375.4,365.6 L1375.9,363.2 L1376.5,365.7 L1377.0,366.4 L1377.6,362.5 L1378.1,361.7 L1378.7,361.9 L1379.2,362.0 L1379.8,362.8 L1380.3,362.3 L1380.9,363.4 L1381.4,361.4 L1382.0,362.1 L1382.5,361.5 L1383.1,361.2 L1383.6,363.9 L1384.2,363.3 L1384.7,363.5 L1385.3,362.9 L1385.8,364.6 L1386.4,365.0 L1386.9,363.5 L1387.5,362.0 L1388.0,366.2 L1388.6,367.3 L1389.1,366.7 L1389.7,366.8 L1390.2,366.7 L1390.8,366.3 L1391.3,364.5 L1391.9,365.5 L1392.4,365.9 L1393.0,364.0 L1393.5,363.8 L1394.1,367.6 L1394.6,366.0 L1395.2,363.5 L1395.7,361.7 L1396.3,358.3 L1396.8,359.9 L1397.4,363.0 L1397.9,364.7 L1398.5,360.3 L1399.0,362.4 L1399.6,367.1 L1400.1,366.2 L1400.7,365.7 L1401.2,366.5 L1401.8,364.8 L1402.3,364.6 L1402.9,366.2 L1403.4,365.9 L1404.0,363.8 L1404.5,365.8 L1405.1,361.7 L1405.6,363.5 L1406.2,368.6 L1406.7,364.5 L1407.3,364.2 L1407.8,362.1 L1408.4,362.5 L1408.9,362.4 L1409.5,363.4 L1410.0,365.9 L1410.6,368.1 L1411.1,367.6 L1411.7,367.7 L1412.2,365.6 L1412.8,367.9 L1413.3,367.7 L1413.9,368.1 L1414.4,365.6 L1415.0,366.0 L1415.5,368.6 L1416.1,367.9 L1416.6,366.5 L1417.2,365.3 L1417.7,366.3 L1418.3,367.8 L1418.8,368.0 L1419.4,366.1 L1419.9,366.3 L1420.5,367.1 L1421.0,365.7 L1421.6,368.1 L1422.1,367.3 L1422.7,365.6 L1423.2,361.9 L1423.8,362.3 L1424.3,363.5 L1424.9,364.0 L1425.4,363.6 L1426.0,365.4 L1426.5,365.2 L1427.1,363.5 L1427.6,361.7 L1428.2,365.9 L1428.7,364.9 L1429.3,365.1 L1429.8,363.6 L1430.4,364.4 L1430.9,365.6 L1431.5,365.4 L1432.0,365.8 L1432.6,365.0 L1433.1,366.3 L1433.7,361.2 L1434.2,362.3 L1434.8,364.8 L1435.3,363.3 L1435.9,361.9 L1436.4,360.9 L1437.0,364.0 L1437.5,361.2 L1438.1,363.8 L1438.6,364.6 L1439.2,365.9 L1439.7,366.3 L1440.3,363.0 L1440.8,362.2 L1441.4,362.4 L1441.9,361.4 L1442.5,364.4 L1443.0,363.6 L1443.6,363.4 L1444.1,361.8 L1444.7,362.7 L1445.2,362.2 L1445.8,362.2 L1446.3,361.4 L1446.9,363.5 L1447.4,360.6 L1448.0,357.9 L1448.5,361.7 L1449.1,360.9 L1449.6,360.5 L1450.2,364.2 L1450.7,360.2 L1451.3,356.4 L1451.8,356.2 L1452.4,356.3 L1452.9,354.4 L1453.5,354.2 L1454.0,351.1 L1454.6,345.4 L1455.1,342.7 L1455.7,339.6 L1456.2,333.9 L1456.8,329.1 L1457.3,325.6 L1457.9,319.3 L1458.4,311.2 L1459.0,306.0 L1459.5,300.8 L1460.1,295.6 L1460.6,290.8 L1461.2,287.5 L1461.7,284.1 L1462.3,282.8 L1462.8,283.3 L1463.4,284.2 L1463.9,287.1 L1464.5,291.7 L1465.0,294.8 L1465.6,300.2 L1466.1,307.7 L1466.7,312.8 L1467.2,317.4 L1467.8,322.3 L1468.3,326.3 L1468.9,331.7 L1469.4,336.5 L1470.0,343.5 L1470.5,344.6 L1471.1,345.6 L1471.6,348.4 L1472.2,350.4 L1472.7,350.3 L1473.3,353.2 L1473.8,357.4 L1474.4,355.2 L1474.9,356.9 L1475.5,360.9 L1476.0,361.9 L1476.6,359.6 L1477.1,362.3 L1477.7,361.6 L1478.2,363.9 L1478.8,362.8 L1479.3,361.6 L1479.9,363.1 L1480.4,362.9 L1481.0,362.1 L1481.5,365.6 L1482.1,363.6 L1482.6,364.8 L1483.2,362.6 L1483.7,360.4 L1484.3,361.8 L1484.8,364.4 L1485.4,366.8 L1485.9,368.4 L1486.5,366.1 L1487.0,364.5 L1487.6,363.4 L1488.1,365.0 L1488.7,365.0 L1489.2,362.5 L1489.8,367.0 L1490.3,368.5 L1490.9,368.9 L1491.4,364.5 L1492.0,364.6 L1492.5,364.3 L1493.1,362.2 L1493.6,362.2 L1494.2,362.7 L1494.7,365.0 L1495.3,365.8 L1495.8,366.5 L1496.4,363.6 L1496.9,362.0 L1497.5,364.5 L1498.0,365.1 L1498.6,365.6 L1499.1,365.8 L1499.7,363.4 L1500.2,364.0 L1500.8,362.0 L1501.3,363.3 L1501.9,364.2 L1502.4,363.2 L1503.0,362.8 L1503.5,360.7 L1504.1,361.7 L1504.6,362.8 L1505.2,361.2 L1505.7,362.6 L1506.3,367.3 L1506.8,364.7 L1507.4,362.1 L1507.9,362.3 L1508.5,364.5 L1509.0,359.8 L1509.6,362.5 L1510.1,364.6 L1510.7,363.6 L1511.2,364.4 L1511.8,362.8 L1512.3,363.9 L1512.9,364.5 L1513.4,364.6 L1514.0,364.8 L1514.5,365.2 L1515.1,366.3 L1515.6,364.4 L1516.2,363.5 L1516.7,363.9 L1517.3,363.5 L1517.8,361.4 L1518.4,360.5 L1518.9,361.9 L1519.5,364.3 L1520.0,363.5 L1520.6,364.8 L1521.1,369.3 L1521.7,367.2 L1522.2,364.1 L1522.8,363.5 L1523.3,365.6 L1523.9,363.6 L1524.4,365.6 L1525.0,365.6 L1525.5,365.7 L1526.1,363.2 L1526.6,363.8 L1527.2,360.8 L1527.7,362.9 L1528.3,365.6 L1528.8,364.6 L1529.4,361.7 L1529.9,364.9 L1530.5,365.6 L1531.0,364.8 L1531.6,364.0 L1532.1,364.5 L1532.7,365.0 L1533.2,367.2 L1533.8,367.4 L1534.3,368.0 L1534.9,366.9 L1535.4,364.2 L1536.0,366.4 L1536.5,368.8 L1537.1,364.9 L1537.6,365.3 L1538.2,363.9 L1538.7,363.5 L1539.3,364.6 L1539.8,364.6 L1540.4,363.0 L1540.9,361.0 L1541.5,359.2 L1542.0,357.6 L1542.6,357.7 L1543.1,358.5 L1543.7,359.4 L1544.2,360.5 L1544.8,361.2 L1545.3,363.4 L1545.9,361.8 L1546.4,360.7 L1547.0,362.6 L1547.5,362.6 L1548.1,364.0 L1548.6,366.3 L1549.2,364.7 L1549.7,365.6 L1550.3,367.9 L1550.8,364.0 L1551.4,365.9 L1551.9,368.2 L1552.5,369.5 L1553.0,369.8 L1553.6,366.1 L1554.1,366.6 L1554.7,365.8 L1555.2,364.8 L1555.8,363.8 L1556.3,363.0 L1556.9,365.5 L1557.4,365.9 L1558.0,363.7 L1558.5,365.0 L1559.1,363.2 L1559.6,361.1 L1560.2,359.6 L1560.7,364.5 L1561.3,364.7 L1561.8,362.8 L1562.4,361.8 L1562.9,361.0 L1563.5,363.2 L1564.0,363.3 L1564.6,363.9 L1565.1,363.0 L1565.7,360.5 L1566.2,360.5 L1566.8,362.9 L1567.3,361.3 L1567.9,363.9 L1568.4,365.0 L1569.0,362.7 L1569.5,364.9 L1570.1,365.0 L1570.6,365.2 L1571.2,364.0 L1571.7,364.9 L1572.3,366.5 L1572.8,368.6 L1573.4,367.5 L1573.9,366.1 L1574.5,363.9 L1575.0,365.4 L1575.6,364.7 L1576.1,365.5 L1576.7,366.5 L1577.2,367.6 L1577.8,367.2 L1578.3,366.3 L1578.9,366.2 L1579.4,367.4 L1580.0,364.7 L1580.5,365.7 L1581.1,367.4 L1581.6,365.8 L1582.2,366.7 L1582.7,367.5 L1583.3,368.9 L1583.8,366.8 L1584.4,362.8 L1584.9,364.3 L1585.5,365.6 L1586.0,366.3 L1586.6,366.3 L1587.1,368.1 L1587.7,366.4 L1588.2,362.7 L1588.8,362.0 L1589.3,361.3 L1589.9,365.8 L1590.4,364.4 L1591.0,363.1 L1591.5,361.3 L1592.1,363.0 L1592.6,364.6 L1593.2,363.9 L1593.7,363.8 L1594.3,364.7 L1594.8,368.0 L1595.4,365.1 L1595.9,363.4 L1596.5,364.8 L1597.0,365.8 L1597.6,366.3 L1598.1,365.9 L1598.7,364.9 L1599.2,366.1 L1599.8,366.6 L1600.3,365.2 L1600.9,369.4 L1601.4,368.7 L1602.0,363.4 L1602.5,364.6 L1603.1,367.1 L1603.6,368.1 L1604.2,367.3 L1604.7,362.0 L1605.3,361.9 L1605.8,363.4 L1606.4,364.6 L1606.9,363.1 L1607.5,364.8 L1608.0,365.6 L1608.6,365.3 L1609.1,362.9 L1609.7,364.4 L1610.2,364.6 L1610.8,364.4 L1611.3,366.2 L1611.9,365.0 L1612.4,366.1 L1613.0,364.4 L1613.5,367.0 L1614.1,366.7 L1614.6,363.1 L1615.2,363.7 L1615.7,363.4 L1616.3,361.8 L1616.8,363.7 L1617.4,363.4 L1617.9,361.2 L1618.5,362.3 L1619.0,363.3 L1619.6,361.6 L1620.1,361.0 L1620.7,363.2 L1621.2,360.4 L1621.8,361.4 L1622.3,362.6 L1622.9,361.0 L1623.4,356.9 L1624.0,357.6 L1624.5,357.7 L1625.1,357.0 L1625.6,357.0 L1626.2,355.6 L1626.7,353.4 L1627.3,351.7 L1627.8,350.7 L1628.4,347.6 L1628.9,341.7 L1629.5,342.1 L1630.0,336.6 L1630.6,332.9 L1631.1,326.6 L1631.7,323.0 L1632.2,319.2 L1632.8,317.5 L1633.3,313.8 L1633.9,309.8 L1634.4,307.2 L1635.0,305.6 L1635.5,304.9 L1636.1,305.3 L1636.6,306.7 L1637.2,309.5 L1637.7,311.9 L1638.3,314.0 L1638.8,318.8 L1639.4,323.4 L1639.9,327.6 L1640.5,329.2 L1641.0,333.8 L1641.6,338.9 L1642.1,339.2 L1642.7,341.4 L1643.2,344.8 L1643.8,346.1 L1644.3,348.3 L1644.9,349.4 L1645.4,351.0 L1646.0,354.2 L1646.5,353.9 L1647.1,353.9 L1647.6,355.7 L1648.2,357.2 L1648.7,358.9 L1649.3,361.0 L1649.8,362.1 L1650.4,358.9 L1650.9,359.2 L1651.5,358.5 L1652.0,361.5 L1652.6,362.7 L1653.1,361.4 L1653.7,360.9 L1654.2,360.8 L1654.8,361.1 L1655.3,364.8 L1655.9,366.5 L1656.4,363.6 L1657.0,366.0 L1657.5,363.9 L1658.1,362.0 L1658.6,364.5 L1659.2,365.2 L1659.7,364.4 L1660.3,363.8 L1660.8,365.6 L1661.4,363.6 L1661.9,364.2 L1662.5,364.0 L1663.0,361.3 L1663.6,359.4 L1664.1,359.8 L1664.7,362.3 L1665.2,363.3 L1665.8,360.9 L1666.3,362.7 L1666.9,365.4 L1667.4,362.3 L1668.0,364.5 L1668.5,365.4 L1669.1,365.1 L1669.6,362.6 L1670.2,363.7 L1670.7,362.8 L1671.3,365.4 L1671.8,363.6 L1672.4,364.2 L1672.9,363.3 L1673.5,363.8 L1674.0,362.5 L1674.6,364.9 L1675.1,366.0 L1675.7,366.1 L1676.2,368.0 L1676.8,367.1 L1677.3,367.4 L1677.9,367.8 L1678.4,368.9 L1679.0,365.9 L1679.5,365.6 L1680.1,366.2 L1680.6,367.4 L1681.2,367.4 L1681.7,368.0 L1682.3,367.1 L1682.8,365.9 L1683.4,366.5 L1683.9,366.4 L1684.5,364.0 L1685.0,367.8 L1685.6,366.5 L1686.1,366.4 L1686.7,367.4 L1687.2,366.6 L1687.8,365.2 L1688.3,367.4 L1688.9,370.2 L1689.4,370.5 L1690.0,370.0 L1690.5,367.5 L1691.1,367.8 L1691.6,369.8 L1692.2,370.2 L1692.7,367.6 L1693.3,365.0 L1693.8,364.2 L1694.4,367.5 L1694.9,364.9 L1695.5,366.8 L1696.0,368.9 L1696.6,371.3 L1697.1,367.4 L1697.7,366.0 L1698.2,366.7 L1698.8,367.2 L1699.3,368.2 L1699.9,367.0 L1700.4,364.1 L1701.0,362.5 L1701.5,365.2 L1702.1,365.5 L1702.6,367.2 L1703.2,364.4 L1703.7,365.3 L1704.3,364.3 L1704.8,364.5 L1705.4,367.6 L1705.9,366.0 L1706.5,365.1 L1707.0,365.7 L1707.6,363.8 L1708.1,363.7 L1708.7,364.5 L1709.2,367.7 L1709.8,366.4 L1710.3,366.5 L1710.9,367.0 L1711.4,365.3 L1712.0,364.4 L1712.5,363.1 L1713.1,365.7 L1713.6,365.9 L1714.2,365.4 L1714.7,366.4 L1715.3,363.2 L1715.8,364.5 L1716.4,362.5 L1716.9,362.3 L1717.5,364.1 L1718.0,365.7 L1718.6,362.4 L1719.1,361.5 L1719.7,362.4 L1720.2,366.5 L1720.8,365.5 L1721.3,365.3 L1721.9,367.1 L1722.4,364.1 L1723.0,360.4 L1723.5,361.5 L1724.1,362.1 L1724.6,365.1 L1725.2,361.5 L1725.7,362.1 L1726.3,361.1 L1726.8,360.7 L1727.4,360.9 L1727.9,360.3 L1728.5,359.1 L1729.0,358.5 L1729.6,358.9 L1730.1,359.0 L1730.7,359.3 L1731.2,359.6 L1731.8,359.7 L1732.3,359.8 L1732.9,359.9 L1733.4,361.1 L1734.0,359.5 L1734.5,359.0 L1735.1,361.1 L1735.6,360.0 L1736.2,361.2 L1736.7,362.7 L1737.3,361.7 L1737.8,361.7 L1738.4,363.7 L1738.9,363.2 L1739.5,361.8 L1740.0,361.0 L1740.6,361.8 L1741.1,360.7 L1741.7,361.6 L1742.2,362.2 L1742.8,364.6 L1743.3,365.4 L1743.9,363.7 L1744.4,363.3 L1745.0,362.4 L1745.5,362.2 L1746.1,363.9 L1746.6,365.7 L1747.2,366.0 L1747.7,365.9 L1748.3,363.8 L1748.8,361.2 L1749.4,365.9 L1749.9,367.7 L1750.5,367.2 L1751.0,367.0 L1751.6,367.8 L1752.1,369.3 L1752.7,366.7 L1753.2,367.2 L1753.8,366.3 L1754.3,365.3 L1754.9,363.8 L1755.4,362.6 L1756.0,361.8 L1756.5,363.5 L1757.1,362.3 L1757.6,360.6 L1758.2,360.6 L1758.7,361.0 L1759.3,364.0 L1759.8,362.2 L1760.4,361.4 L1760.9,359.3 L1761.5,359.6 L1762.0,361.8 L1762.6,360.4 L1763.1,360.6 L1763.7,362.5 L1764.2,362.1 L1764.8,359.1 L1765.3,357.0 L1765.9,354.9 L1766.4,353.2 L1767.0,353.2 L1767.5,347.6 L1768.1,344.8 L1768.6,340.0 L1769.2,337.7 L1769.7,336.8 L1770.3,333.8 L1770.8,329.7 L1771.4,325.3 L1771.9,321.6 L1772.5,318.9 L1773.0,317.0 L1773.6,315.9 L1774.1,315.1 L1774.7,315.0 L1775.2,315.4 L1775.8,316.5 L1776.3,319.0 L1776.9,320.9 L1777.4,322.6 L1778.0,328.3 L1778.5,330.7 L1779.1,332.9 L1779.6,335.2 L1780.2,338.6 L1780.7,343.3 L1781.3,344.4 L1781.8,347.9 L1782.4,351.6 L1782.9,355.0 L1783.5,355.2 L1784.0,355.1 L1784.6,356.0 L1785.1,358.8 L1785.7,359.8 L1786.2,358.8 L1786.8,360.1 L1787.3,359.4 L1787.9,357.6 L1788.4,359.0 L1789.0,362.4 L1789.5,364.0 L1790.1,363.1 L1790.6,361.5 L1791.2,361.1 L1791.7,362.7 L1792.3,362.2 L1792.8,360.1 L1793.4,362.0 L1793.9,361.2 L1794.5,362.4 L1795.0,362.4 L1795.6,362.3 L1796.1,362.3 L1796.7,360.6 L1797.2,357.3 L1797.8,356.6 L1798.3,358.4 L1798.9,356.4 L1799.4,351.9 L1800.0,350.3 L1800.5,352.9 L1801.1,353.3 L1801.6,350.0 L1802.2,347.4 L1802.7,346.0 L1803.3,344.4 L1803.8,344.6 L1804.4,345.1 L1804.9,345.3 L1805.5,345.0 L1806.0,347.1 L1806.6,348.7 L1807.1,350.2 L1807.7,350.6 L1808.2,351.6 L1808.8,352.2 L1809.3,355.4 L1809.9,357.5 L1810.4,356.8 L1811.0,358.8 L1811.5,359.6 L1812.1,362.4 L1812.6,362.4 L1813.2,359.3 L1813.7,362.8 L1814.3,364.6 L1814.8,363.0 L1815.4,363.2 L1815.9,363.4 L1816.5,362.6 L1817.0,364.5 L1817.6,367.1 L1818.1,366.6 L1818.7,367.7 L1819.2,367.5 L1819.8,367.2 L1820.3,366.0 L1820.9,367.0 L1821.4,368.9 L1822.0,368.1 L1822.5,365.8 L1823.1,363.7 L1823.6,363.3 L1824.2,364.9 L1824.7,364.6 L1825.3,362.0 L1825.8,364.0 L1826.4,364.8 L1826.9,364.4 L1827.5,364.1 L1828.0,367.4 L1828.6,365.5 L1829.1,362.0 L1829.7,362.7 L1830.2,365.1 L1830.8,365.2 L1831.3,364.6 L1831.9,364.2 L1832.4,363.9 L1833.0,363.3 L1833.5,363.1 L1834.1,364.2 L1834.6,360.8 L1835.2,363.5 L1835.7,366.6 L1836.3,364.5 L1836.8,364.6 L1837.4,368.8 L1837.9,368.4 L1838.5,366.3 L1839.0,365.4 L1839.6,365.7 L1840.1,365.6 L1840.7,365.3 L1841.2,364.9 L1841.8,366.0 L1842.3,364.2 L1842.9,362.1 L1843.4,362.7 L1844.0,364.4 L1844.5,362.8 L1845.1,361.9 L1845.6,366.8 L1846.2,366.6 L1846.7,365.0 L1847.3,365.1 L1847.8,367.0 L1848.4,368.0 L1848.9,366.0 L1849.5,366.5 L1850.0,365.8 L1850.6,366.3 L1851.1,364.3 L1851.7,363.5 L1852.2,366.0 L1852.8,366.8 L1853.3,367.4 L1853.9,366.4 L1854.4,368.3 L1855.0,367.7 L1855.5,368.7 L1856.1,367.1 L1856.6,368.5 L1857.2,367.0 L1857.7,367.0 L1858.3,367.3 L1858.8,364.0 L1859.4,365.2 L1859.9,368.5 L1860.5,365.1 L1861.0,365.8 L1861.6,368.0 L1862.1,369.0 L1862.7,366.6 L1863.2,366.2 L1863.8,364.7 L1864.3,365.7 L1864.9,367.5 L1865.4,366.7 L1866.0,365.9 L1866.5,366.2 L1867.1,365.9 L1867.6,365.7 L1868.2,364.7 L1868.7,364.3 L1869.3,365.9 L1869.8,364.7 L1870.4,367.7 L1870.9,369.9 L1871.5,369.7 L1872.0,369.4 L1872.6,365.3 L1873.1,365.5 L1873.7,364.3 L1874.2,363.6 L1874.8,362.3 L1875.3,363.3 L1875.9,366.3 L1876.4,366.9 L1877.0,367.5 L1877.5,367.5 L1878.1,366.4 L1878.6,364.4 L1879.2,365.3 L1879.7,367.1 L1880.3,367.7 L1880.8,365.7 L1881.4,365.2 L1881.9,366.1 L1882.5,368.8 L1883.0,367.8 L1883.6,366.1 L1884.1,365.6 L1884.7,366.4 L1885.2,364.3 L1885.8,365.4 L1886.3,365.3 L1886.9,365.3 L1887.4,366.3 L1888.0,367.7 L1888.5,370.3 L1889.1,367.1 L1889.6,366.3 L1890.2,364.0 L1890.7,363.2 L1891.3,367.1 L1891.8,368.3 L1892.4,364.7 L1892.9,365.4 L1893.5,367.0 L1894.0,365.1 L1894.6,362.2 L1895.1,365.4 L1895.7,364.9 L1896.2,364.5 L1896.8,362.6 L1897.3,363.4 L1897.9,362.6 L1898.4,360.9 L1899.0,360.6 L1899.5,360.1 L1900.1,360.0 L1900.6,359.9 L1901.2,360.0 L1901.7,360.2 L1902.3,361.7 L1902.8,361.0 L1903.4,360.7 L1903.9,363.9 L1904.5,364.5 L1905.0,365.1 L1905.6,364.6 L1906.1,365.6 L1906.7,364.8 L1907.2,364.0 L1907.8,365.5 L1908.3,366.1 L1908.9,366.5 L1909.4,366.7 L1910.0,364.1 L1910.5,365.7 L1911.1,365.2 L1911.6,365.9 L1912.2,367.1 L1912.7,366.6 L1913.3,366.0 L1913.8,367.5 L1914.4,367.3 L1914.9,368.5 L1915.5,368.7 L1916.0,366.2 L1916.6,365.0 L1917.1,366.5 L1917.7,367.7 L1918.2,366.6 L1918.8,364.1 L1919.3,363.0 L1919.9,363.8 L1920.4,364.6 L1921.0,366.6 L1921.5,366.6 L1922.1,367.3 L1922.6,367.0 L1923.2,368.6 L1923.7,367.2 L1924.3,367.1 L1924.8,366.4 L1925.4,367.5 L1925.9,368.6 L1926.5,368.5 L1927.0,368.4 L1927.6,366.2 L1928.1,367.3 L1928.7,368.8 L1929.2,366.9 L1929.8,365.7 L1930.3,365.2 L1930.9,364.9 L1931.4,366.1 L1932.0,367.7 L1932.5,366.6 L1933.1,365.4 L1933.6,364.1 L1934.2,364.6 L1934.7,368.5 L1935.3,366.1 L1935.8,365.9 L1936.4,365.7 L1936.9,366.4 L1937.5,366.1 L1938.0,367.3 L1938.6,368.7 L1939.1,366.7 L1939.7,367.5 L1940.2,367.4 L1940.8,367.8 L1941.3,366.4 L1941.9,366.7 L1942.4,364.7 L1943.0,363.0 L1943.5,363.3 L1944.1,363.6 L1944.6,363.5 L1945.2,364.8 L1945.7,366.1 L1946.3,363.8 L1946.8,365.0 L1947.4,364.7 L1947.9,363.2 L1948.5,363.0 L1949.0,364.8 L1949.6,365.1 L1950.1,364.1 L1950.7,364.1 L1951.2,363.9 L1951.8,362.7 L1952.3,364.3 L1952.9,365.5 L1953.4,366.5 L1954.0,363.0 L1954.5,362.8 L1955.1,364.0 L1955.6,363.5 L1956.2,363.7 L1956.7,364.2 L1957.3,364.1 L1957.8,364.7 L1958.4,364.8 L1958.9,363.1 L1959.5,364.6 L1960.0,363.0 L1960.6,367.3 L1961.1,367.2 L1961.7,365.5 L1962.2,366.8 L1962.8,366.0 L1963.3,366.4 L1963.9,366.9 L1964.4,366.3 L1965.0,365.8 L1965.5,366.3 L1966.1,365.3 L1966.6,364.7 L1967.2,363.6 L1967.7,363.5 L1968.3,367.6 L1968.8,367.0 L1969.4,364.4 L1969.9,366.1 L1970.5,365.6 L1971.0,362.7 L1971.6,363.9 L1972.1,365.9 L1972.7,368.4 L1973.2,368.2 L1973.8,367.9 L1974.3,367.0 L1974.9,366.9 L1975.4,364.9 L1976.0,366.8 L1976.5,367.0 L1977.1,364.9 L1977.6,366.8 L1978.2,369.3 L1978.7,370.2 L1979.3,369.0 L1979.8,366.3 L1980.4,366.4 L1980.9,366.7 L1981.5,368.3 L1982.0,366.1 L1982.6,365.0 L1983.1,364.8 L1983.7,367.2 L1984.2,367.9 L1984.8,366.6 L1985.3,366.3 L1985.9,367.6 L1986.4,369.0 L1987.0,366.4 L1987.5,367.4 L1988.1,368.3 L1988.6,368.9 L1989.2,370.0 L1989.7,369.6 L1990.3,369.1 L1990.8,370.4 L1991.4,370.1 L1991.9,368.8 L1992.5,368.0 L1993.0,366.5 L1993.6,367.5 L1994.1,366.6 L1994.7,366.1 L1995.2,366.7 L1995.8,365.3 L1996.3,366.1 L1996.9,367.1 L1997.4,368.1 L1998.0,367.7 L1998.5,368.8 L1999.1,370.2 L1999.6,368.9 L2000.2,365.7 L2000.7,364.4 L2001.3,365.3 L2001.8,365.3 L2002.4,363.9 L2002.9,363.9 L2003.5,364.3 L2004.0,366.4 L2004.6,369.6 L2005.1,369.7 L2005.7,366.2 L2006.2,365.7 L2006.8,364.6 L2007.3,364.4 L2007.9,366.4 L2008.4,366.9 L2009.0,366.4 L2009.5,367.5 L2010.1,367.0 L2010.6,367.9 L2011.2,366.6 L2011.7,367.3 L2012.3,366.2 L2012.8,366.2 L2013.4,366.0 L2013.9,363.5 L2014.5,363.5 L2015.0,364.1 L2015.6,363.8 L2016.1,363.8 L2016.7,362.1 L2017.2,361.3 L2017.8,362.5 L2018.3,362.7 L2018.9,362.2 L2019.4,363.1 L2020.0,362.8 L2020.5,362.5 L2021.1,362.4 L2021.6,362.2 L2022.2,363.1 L2022.7,362.4 L2023.3,363.0 L2023.8,363.7 L2024.4,363.6 L2024.9,363.2 L2025.5,362.2 L2026.0,362.8 L2026.6,364.1 L2027.1,365.6 L2027.7,364.2 L2028.2,365.6 L2028.8,365.9 L2029.3,365.5 L2029.9,365.0 L2030.4,365.1 L2031.0,364.0 L2031.5,366.1 L2032.1,366.9 L2032.6,366.3 L2033.2,367.4 L2033.7,367.1 L2034.3,366.2 L2034.8,367.5 L2035.4,367.2 L2035.9,369.6 L2036.5,366.2 L2037.0,365.5 L2037.6,366.2 L2038.1,367.9 L2038.7,369.2 L2039.2,368.1 L2039.8,367.9 L2040.3,370.6 L2040.9,369.9 L2041.4,367.9 L2042.0,367.2 L2042.5,365.8 L2043.1,367.8 L2043.6,369.4 L2044.2,365.9 L2044.7,365.0 L2045.3,366.0 L2045.8,364.4 L2046.4,367.5 L2046.9,365.2 L2047.5,365.5 L2048.0,367.0 L2048.6,368.8 L2049.1,367.5 L2049.7,364.3 L2050.2,364.5 L2050.8,366.4 L2051.3,364.6 L2051.9,366.1 L2052.4,366.5 L2053.0,368.6 L2053.5,368.5 L2054.1,364.7 L2054.6,367.4 L2055.2,368.2 L2055.7,366.4 L2056.3,366.0 L2056.8,365.5 L2057.4,366.7 L2057.9,368.2 L2058.5,369.7 L2059.0,369.5 L2059.6,367.0 L2060.1,366.2 L2060.7,367.1 L2061.2,363.0 L2061.8,364.1 L2062.3,367.6 L2062.9,369.2 L2063.4,365.9 L2064.0,365.6 L2064.5,364.5 L2065.1,365.4 L2065.6,365.4 L2066.2,364.9 L2066.7,365.9 L2067.3,365.8 L2067.8,366.3 L2068.4,365.3 L2068.9,364.3 L2069.5,366.1 L2070.0,367.1 L2070.6,366.0 L2071.1,368.1 L2071.7,367.5 L2072.2,366.5 L2072.8,366.7 L2073.3,366.3 L2073.9,366.3 L2074.4,368.6 L2075.0,368.9 L2075.5,367.3 L2076.1,367.2 L2076.6,367.6 L2077.2,369.0 L2077.7,369.5 L2078.3,367.2 L2078.8,367.5 L2079.4,367.3 L2079.9,368.0 L2080.5,368.3 L2081.0,364.9 L2081.6,362.9 L2082.1,364.3 L2082.7,363.9 L2083.2,366.8 L2083.8,364.8 L2084.3,364.7 L2084.9,365.5 L2085.4,365.5 L2086.0,364.9 L2086.5,365.6 L2087.1,366.7 L2087.6,366.1 L2088.2,368.1 L2088.7,366.1 L2089.3,363.2 L2089.8,365.7 L2090.4,364.1 L2090.9,366.6 L2091.5,369.5 L2092.0,367.9 L2092.6,364.8 L2093.1,364.9 L2093.7,366.5 L2094.2,368.0 L2094.8,366.2 L2095.3,367.6 L2095.9,366.9 L2096.4,366.1 L2097.0,366.4 L2097.5,367.7 L2098.1,364.3 L2098.6,364.4 L2099.2,367.2 L2099.7,367.3 L2100.3,364.5 L2100.8,364.2 L2101.4,364.6 L2101.9,366.4 L2102.5,366.1 L2103.0,368.2 L2103.6,367.8 L2104.1,366.8 L2104.7,366.6 L2105.2,367.0 L2105.8,367.1 L2106.3,366.1 L2106.9,366.2 L2107.4,366.6 L2108.0,366.0 L2108.5,366.6 L2109.1,365.5"/>
<path class="tk" d="M180.0,1509.0 V1535.9"/>
<path class="tk" d="M248.8,1509.0 V1523.1"/>
<path class="tk" d="M317.7,1509.0 V1535.9"/>
<path class="tk" d="M386.5,1509.0 V1523.1"/>
<path class="tk" d="M455.4,1509.0 V1535.9"/>
<path class="tk" d="M524.2,1509.0 V1523.1"/>
<path class="tk" d="M593.0,1509.0 V1535.9"/>
<path class="tk" d="M661.9,1509.0 V1523.1"/>
<path class="tk" d="M730.7,1509.0 V1535.9"/>
<path class="tk" d="M799.6,1509.0 V1523.1"/>
<path class="tk" d="M868.4,1509.0 V1535.9"/>
<path class="tk" d="M937.2,1509.0 V1523.1"/>
<path class="tk" d="M1006.1,1509.0 V1535.9"/>
<path class="tk" d="M1074.9,1509.0 V1523.1"/>
<path class="tk" d="M1143.8,1509.0 V1535.9"/>
<path class="tk" d="M1212.6,1509.0 V1523.1"/>
<path class="tk" d="M1281.4,1509.0 V1535.9"/>
<path class="tk" d="M1350.3,1509.0 V1523.1"/>
<path class="tk" d="M1419.1,1509.0 V1535.9"/>
<path class="tk" d="M1487.9,1509.0 V1523.1"/>
<path class="tk" d="M1556.8,1509.0 V1535.9"/>
<path class="tk" d="M1625.6,1509.0 V1523.1"/>
<path class="tk" d="M1694.5,1509.0 V1535.9"/>
<path class="tk" d="M1763.3,1509.0 V1523.1"/>
<path class="tk" d="M1832.1,1509.0 V1535.9"/>
<path class="tk" d="M1901.0,1509.0 V1523.1"/>
<path class="tk" d="M1969.8,1509.0 V1535.9"/>
<path class="tk" d="M2038.7,1509.0 V1523.1"/>
<path class="tk" d="M2107.5,1509.0 V1535.9"/>
<text transform="translate(180.0,1594.6) scale(1,1.01)" font-size="53" text-anchor="middle" stroke="#000">10</text>
<text transform="translate(317.7,1594.6) scale(1,1.01)" font-size="53" text-anchor="middle" stroke="#000">15</text>
<text transform="translate(455.4,1594.6) scale(1,1.01)" font-size="53" text-anchor="middle" stroke="#000">20</text>
<text transform="translate(593.0,1594.6) scale(1,1.01)" font-size="53" text-anchor="middle" stroke="#000">25</text>
<text transform="translate(730.7,1594.6) scale(1,1.01)" font-size="53" text-anchor="middle" stroke="#000">30</text>
<text transform="translate(868.4,1594.6) scale(1,1.01)" font-size="53" text-anchor="middle" stroke="#000">35</text>
<text transform="translate(1006.1,1594.6) scale(1,1.01)" font-size="53" text-anchor="middle" stroke="#000">40</text>
<text transform="translate(1143.8,1594.6) scale(1,1.01)" font-size="53" text-anchor="middle" stroke="#000">45</text>
<text transform="translate(1281.4,1594.6) scale(1,1.01)" font-size="53" text-anchor="middle" stroke="#000">50</text>
<text transform="translate(1419.1,1594.6) scale(1,1.01)" font-size="53" text-anchor="middle" stroke="#000">55</text>
<text transform="translate(1556.8,1594.6) scale(1,1.01)" font-size="53" text-anchor="middle" stroke="#000">60</text>
<text transform="translate(1694.5,1594.6) scale(1,1.01)" font-size="53" text-anchor="middle" stroke="#000">65</text>
<text transform="translate(1832.1,1594.6) scale(1,1.01)" font-size="53" text-anchor="middle" stroke="#000">70</text>
<text transform="translate(1969.8,1594.6) scale(1,1.01)" font-size="53" text-anchor="middle" stroke="#000">75</text>
<text transform="translate(2107.5,1594.6) scale(1,1.01)" font-size="53" text-anchor="middle" stroke="#000">80</text>
<text transform="translate(60.2,954.6) rotate(-90) scale(1,1.01)" font-size="65" text-anchor="middle" stroke="#000">Intensity (a.u.)</text>
<text transform="translate(1109.2,1698.8) scale(1,1.03)" font-size="65" stroke="#000">2<tspan style="font-family:'DejaVu Serif','Liberation Serif',serif" font-size="51.3" dx="1.3" dy="0.2" stroke="none">θ</tspan></text>
<text transform="translate(185.8,314.7) scale(1,1.04)" font-size="65" fill="#ff0000" stroke="#ff0000">ZnOS-9</text>
<text transform="translate(208.8,668.0) scale(1,1.04)" font-size="65" fill="#0000ff" stroke="#0000ff">ZnOS-10</text>
<text transform="translate(215.9,1078.8) scale(1,1.04)" font-size="65" fill="#808000" stroke="#808000">ZnOS-11</text>
<text transform="translate(234.9,1370.9) scale(1,1.04)" font-size="65" fill="#000" stroke="#000">ZnO</text>
<text class="st" transform="translate(1694.6,86.5) scale(1,0.930)" font-size="55.8" x="-10.88" y="28.74">*</text>
<text transform="translate(1721.2,122.6) scale(1,1.04)" font-size="53" stroke="#000">ZnO</text>
<circle cx="1695.5" cy="201.7" r="10.6" fill="#000"/>
<text transform="translate(1724.5,218.8) scale(1,1.02)" font-size="53" stroke="#000">Burkeite</text>
<text class="st" transform="translate(783.6,115.5) scale(1,0.900)" font-size="62.8" x="-12.25" y="32.34">*</text>
<text class="st" transform="translate(847.4,179.4) scale(1,0.900)" font-size="62.8" x="-12.25" y="32.34">*</text>
<text class="st" transform="translate(902.5,104.4) scale(1,0.900)" font-size="62.8" x="-12.25" y="32.34">*</text>
<text class="st" transform="translate(1216.4,277.3) scale(1,0.900)" font-size="62.8" x="-12.25" y="32.34">*</text>
<text class="st" transform="translate(1463.1,247.6) scale(1,0.900)" font-size="62.8" x="-12.25" y="32.34">*</text>
<text class="st" transform="translate(1637.4,273.0) scale(1,0.900)" font-size="62.8" x="-12.25" y="32.34">*</text>
<text class="st" transform="translate(1733.4,336.2) scale(1,0.900)" font-size="62.8" x="-12.25" y="32.34">*</text>
<text class="st" transform="translate(1777.2,288.6) scale(1,0.900)" font-size="62.8" x="-12.25" y="32.34">*</text>
<text class="st" transform="translate(1811.4,323.8) scale(1,0.900)" font-size="62.8" x="-12.25" y="32.34">*</text>
<text class="st" transform="translate(2021.0,334.9) scale(1,0.900)" font-size="62.8" x="-12.25" y="32.34">*</text>
<circle cx="542.5" cy="262.5" r="10.5" fill="#000"/>
<circle cx="598.4" cy="271.4" r="10.5" fill="#000"/>
<circle cx="699.2" cy="316.3" r="10.5" fill="#000"/>
<circle cx="832.6" cy="287.5" r="10.5" fill="#000"/>
<circle cx="1050.3" cy="323.2" r="10.5" fill="#000"/>
<circle cx="1184.4" cy="321.5" r="10.5" fill="#000"/>
<circle cx="1323.4" cy="328.4" r="10.5" fill="#000"/>
</svg></body></html>
